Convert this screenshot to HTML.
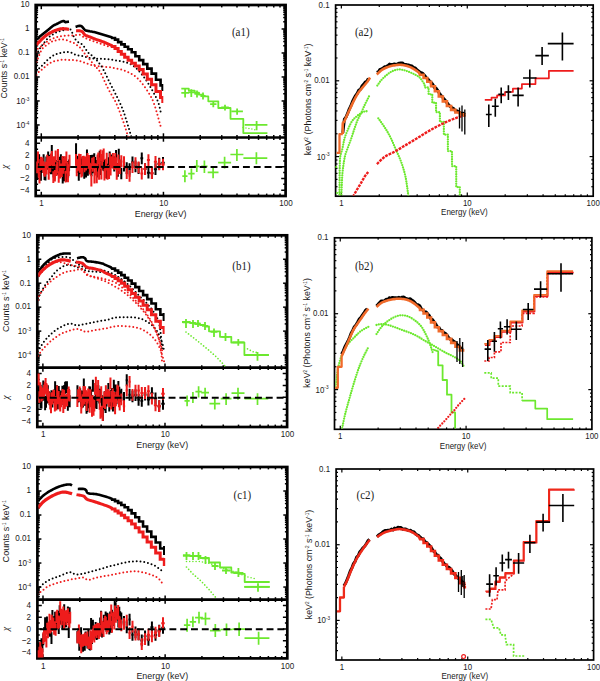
<!DOCTYPE html>
<html><head><meta charset="utf-8"><title>Spectra</title>
<style>html,body{margin:0;padding:0;background:#fff;width:600px;height:681px;overflow:hidden}svg{display:block}text{fill:#1a1a1a}</style>
</head><body>
<svg width="600" height="681" viewBox="0 0 600 681"><path d="M41.29 5 V9.2" stroke="#000" stroke-width="1.5"/>
<path d="M78.06 5 V7.4" stroke="#000" stroke-width="1.5"/>
<path d="M99.57 5 V7.4" stroke="#000" stroke-width="1.5"/>
<path d="M114.83 5 V7.4" stroke="#000" stroke-width="1.5"/>
<path d="M126.67 5 V7.4" stroke="#000" stroke-width="1.5"/>
<path d="M136.34 5 V7.4" stroke="#000" stroke-width="1.5"/>
<path d="M144.52 5 V7.4" stroke="#000" stroke-width="1.5"/>
<path d="M151.61 5 V7.4" stroke="#000" stroke-width="1.5"/>
<path d="M157.86 5 V7.4" stroke="#000" stroke-width="1.5"/>
<path d="M163.44 5 V9.2" stroke="#000" stroke-width="1.5"/>
<path d="M200.22 5 V7.4" stroke="#000" stroke-width="1.5"/>
<path d="M221.73 5 V7.4" stroke="#000" stroke-width="1.5"/>
<path d="M236.99 5 V7.4" stroke="#000" stroke-width="1.5"/>
<path d="M248.83 5 V7.4" stroke="#000" stroke-width="1.5"/>
<path d="M258.5 5 V7.4" stroke="#000" stroke-width="1.5"/>
<path d="M266.68 5 V7.4" stroke="#000" stroke-width="1.5"/>
<path d="M273.76 5 V7.4" stroke="#000" stroke-width="1.5"/>
<path d="M280.01 5 V7.4" stroke="#000" stroke-width="1.5"/>
<path d="M41.29 137.5 V133.3" stroke="#000" stroke-width="1.5"/>
<path d="M78.06 137.5 V135.1" stroke="#000" stroke-width="1.5"/>
<path d="M99.57 137.5 V135.1" stroke="#000" stroke-width="1.5"/>
<path d="M114.83 137.5 V135.1" stroke="#000" stroke-width="1.5"/>
<path d="M126.67 137.5 V135.1" stroke="#000" stroke-width="1.5"/>
<path d="M136.34 137.5 V135.1" stroke="#000" stroke-width="1.5"/>
<path d="M144.52 137.5 V135.1" stroke="#000" stroke-width="1.5"/>
<path d="M151.61 137.5 V135.1" stroke="#000" stroke-width="1.5"/>
<path d="M157.86 137.5 V135.1" stroke="#000" stroke-width="1.5"/>
<path d="M163.44 137.5 V133.3" stroke="#000" stroke-width="1.5"/>
<path d="M200.22 137.5 V135.1" stroke="#000" stroke-width="1.5"/>
<path d="M221.73 137.5 V135.1" stroke="#000" stroke-width="1.5"/>
<path d="M236.99 137.5 V135.1" stroke="#000" stroke-width="1.5"/>
<path d="M248.83 137.5 V135.1" stroke="#000" stroke-width="1.5"/>
<path d="M258.5 137.5 V135.1" stroke="#000" stroke-width="1.5"/>
<path d="M266.68 137.5 V135.1" stroke="#000" stroke-width="1.5"/>
<path d="M273.76 137.5 V135.1" stroke="#000" stroke-width="1.5"/>
<path d="M280.01 137.5 V135.1" stroke="#000" stroke-width="1.5"/>
<path d="M41.29 137.5 V141.7" stroke="#000" stroke-width="1.5"/>
<path d="M78.06 137.5 V139.9" stroke="#000" stroke-width="1.5"/>
<path d="M99.57 137.5 V139.9" stroke="#000" stroke-width="1.5"/>
<path d="M114.83 137.5 V139.9" stroke="#000" stroke-width="1.5"/>
<path d="M126.67 137.5 V139.9" stroke="#000" stroke-width="1.5"/>
<path d="M136.34 137.5 V139.9" stroke="#000" stroke-width="1.5"/>
<path d="M144.52 137.5 V139.9" stroke="#000" stroke-width="1.5"/>
<path d="M151.61 137.5 V139.9" stroke="#000" stroke-width="1.5"/>
<path d="M157.86 137.5 V139.9" stroke="#000" stroke-width="1.5"/>
<path d="M163.44 137.5 V141.7" stroke="#000" stroke-width="1.5"/>
<path d="M200.22 137.5 V139.9" stroke="#000" stroke-width="1.5"/>
<path d="M221.73 137.5 V139.9" stroke="#000" stroke-width="1.5"/>
<path d="M236.99 137.5 V139.9" stroke="#000" stroke-width="1.5"/>
<path d="M248.83 137.5 V139.9" stroke="#000" stroke-width="1.5"/>
<path d="M258.5 137.5 V139.9" stroke="#000" stroke-width="1.5"/>
<path d="M266.68 137.5 V139.9" stroke="#000" stroke-width="1.5"/>
<path d="M273.76 137.5 V139.9" stroke="#000" stroke-width="1.5"/>
<path d="M280.01 137.5 V139.9" stroke="#000" stroke-width="1.5"/>
<path d="M41.29 196 V191.8" stroke="#000" stroke-width="1.5"/>
<path d="M78.06 196 V193.6" stroke="#000" stroke-width="1.5"/>
<path d="M99.57 196 V193.6" stroke="#000" stroke-width="1.5"/>
<path d="M114.83 196 V193.6" stroke="#000" stroke-width="1.5"/>
<path d="M126.67 196 V193.6" stroke="#000" stroke-width="1.5"/>
<path d="M136.34 196 V193.6" stroke="#000" stroke-width="1.5"/>
<path d="M144.52 196 V193.6" stroke="#000" stroke-width="1.5"/>
<path d="M151.61 196 V193.6" stroke="#000" stroke-width="1.5"/>
<path d="M157.86 196 V193.6" stroke="#000" stroke-width="1.5"/>
<path d="M163.44 196 V191.8" stroke="#000" stroke-width="1.5"/>
<path d="M200.22 196 V193.6" stroke="#000" stroke-width="1.5"/>
<path d="M221.73 196 V193.6" stroke="#000" stroke-width="1.5"/>
<path d="M236.99 196 V193.6" stroke="#000" stroke-width="1.5"/>
<path d="M248.83 196 V193.6" stroke="#000" stroke-width="1.5"/>
<path d="M258.5 196 V193.6" stroke="#000" stroke-width="1.5"/>
<path d="M266.68 196 V193.6" stroke="#000" stroke-width="1.5"/>
<path d="M273.76 196 V193.6" stroke="#000" stroke-width="1.5"/>
<path d="M280.01 196 V193.6" stroke="#000" stroke-width="1.5"/>
<path d="M35.7 134.5 H38.1" stroke="#000" stroke-width="1.5"/>
<path d="M35.7 132.18 H38.1" stroke="#000" stroke-width="1.5"/>
<path d="M35.7 130.28 H38.1" stroke="#000" stroke-width="1.5"/>
<path d="M35.7 128.67 H38.1" stroke="#000" stroke-width="1.5"/>
<path d="M35.7 127.28 H38.1" stroke="#000" stroke-width="1.5"/>
<path d="M35.7 126.05 H38.1" stroke="#000" stroke-width="1.5"/>
<path d="M35.7 124.96 H39.7" stroke="#000" stroke-width="1.5"/>
<path d="M35.7 117.73 H38.1" stroke="#000" stroke-width="1.5"/>
<path d="M35.7 113.51 H38.1" stroke="#000" stroke-width="1.5"/>
<path d="M35.7 110.51 H38.1" stroke="#000" stroke-width="1.5"/>
<path d="M35.7 108.19 H38.1" stroke="#000" stroke-width="1.5"/>
<path d="M35.7 106.29 H38.1" stroke="#000" stroke-width="1.5"/>
<path d="M35.7 104.68 H38.1" stroke="#000" stroke-width="1.5"/>
<path d="M35.7 103.29 H38.1" stroke="#000" stroke-width="1.5"/>
<path d="M35.7 102.06 H38.1" stroke="#000" stroke-width="1.5"/>
<path d="M35.7 100.96 H39.7" stroke="#000" stroke-width="1.5"/>
<path d="M35.7 93.74 H38.1" stroke="#000" stroke-width="1.5"/>
<path d="M35.7 89.52 H38.1" stroke="#000" stroke-width="1.5"/>
<path d="M35.7 86.52 H38.1" stroke="#000" stroke-width="1.5"/>
<path d="M35.7 84.2 H38.1" stroke="#000" stroke-width="1.5"/>
<path d="M35.7 82.3 H38.1" stroke="#000" stroke-width="1.5"/>
<path d="M35.7 80.69 H38.1" stroke="#000" stroke-width="1.5"/>
<path d="M35.7 79.3 H38.1" stroke="#000" stroke-width="1.5"/>
<path d="M35.7 78.07 H38.1" stroke="#000" stroke-width="1.5"/>
<path d="M35.7 76.97 H39.7" stroke="#000" stroke-width="1.5"/>
<path d="M35.7 69.75 H38.1" stroke="#000" stroke-width="1.5"/>
<path d="M35.7 65.53 H38.1" stroke="#000" stroke-width="1.5"/>
<path d="M35.7 62.53 H38.1" stroke="#000" stroke-width="1.5"/>
<path d="M35.7 60.2 H38.1" stroke="#000" stroke-width="1.5"/>
<path d="M35.7 58.3 H38.1" stroke="#000" stroke-width="1.5"/>
<path d="M35.7 56.7 H38.1" stroke="#000" stroke-width="1.5"/>
<path d="M35.7 55.31 H38.1" stroke="#000" stroke-width="1.5"/>
<path d="M35.7 54.08 H38.1" stroke="#000" stroke-width="1.5"/>
<path d="M35.7 52.98 H39.7" stroke="#000" stroke-width="1.5"/>
<path d="M35.7 45.76 H38.1" stroke="#000" stroke-width="1.5"/>
<path d="M35.7 41.54 H38.1" stroke="#000" stroke-width="1.5"/>
<path d="M35.7 38.54 H38.1" stroke="#000" stroke-width="1.5"/>
<path d="M35.7 36.21 H38.1" stroke="#000" stroke-width="1.5"/>
<path d="M35.7 34.31 H38.1" stroke="#000" stroke-width="1.5"/>
<path d="M35.7 32.71 H38.1" stroke="#000" stroke-width="1.5"/>
<path d="M35.7 31.32 H38.1" stroke="#000" stroke-width="1.5"/>
<path d="M35.7 30.09 H38.1" stroke="#000" stroke-width="1.5"/>
<path d="M35.7 28.99 H39.7" stroke="#000" stroke-width="1.5"/>
<path d="M35.7 21.77 H38.1" stroke="#000" stroke-width="1.5"/>
<path d="M35.7 17.54 H38.1" stroke="#000" stroke-width="1.5"/>
<path d="M35.7 14.55 H38.1" stroke="#000" stroke-width="1.5"/>
<path d="M35.7 12.22 H38.1" stroke="#000" stroke-width="1.5"/>
<path d="M35.7 10.32 H38.1" stroke="#000" stroke-width="1.5"/>
<path d="M35.7 8.72 H38.1" stroke="#000" stroke-width="1.5"/>
<path d="M35.7 7.32 H38.1" stroke="#000" stroke-width="1.5"/>
<path d="M35.7 6.1 H38.1" stroke="#000" stroke-width="1.5"/>
<path d="M285.6 134.5 H283.2" stroke="#000" stroke-width="1.5"/>
<path d="M285.6 132.18 H283.2" stroke="#000" stroke-width="1.5"/>
<path d="M285.6 130.28 H283.2" stroke="#000" stroke-width="1.5"/>
<path d="M285.6 128.67 H283.2" stroke="#000" stroke-width="1.5"/>
<path d="M285.6 127.28 H283.2" stroke="#000" stroke-width="1.5"/>
<path d="M285.6 126.05 H283.2" stroke="#000" stroke-width="1.5"/>
<path d="M285.6 124.96 H281.6" stroke="#000" stroke-width="1.5"/>
<path d="M285.6 117.73 H283.2" stroke="#000" stroke-width="1.5"/>
<path d="M285.6 113.51 H283.2" stroke="#000" stroke-width="1.5"/>
<path d="M285.6 110.51 H283.2" stroke="#000" stroke-width="1.5"/>
<path d="M285.6 108.19 H283.2" stroke="#000" stroke-width="1.5"/>
<path d="M285.6 106.29 H283.2" stroke="#000" stroke-width="1.5"/>
<path d="M285.6 104.68 H283.2" stroke="#000" stroke-width="1.5"/>
<path d="M285.6 103.29 H283.2" stroke="#000" stroke-width="1.5"/>
<path d="M285.6 102.06 H283.2" stroke="#000" stroke-width="1.5"/>
<path d="M285.6 100.96 H281.6" stroke="#000" stroke-width="1.5"/>
<path d="M285.6 93.74 H283.2" stroke="#000" stroke-width="1.5"/>
<path d="M285.6 89.52 H283.2" stroke="#000" stroke-width="1.5"/>
<path d="M285.6 86.52 H283.2" stroke="#000" stroke-width="1.5"/>
<path d="M285.6 84.2 H283.2" stroke="#000" stroke-width="1.5"/>
<path d="M285.6 82.3 H283.2" stroke="#000" stroke-width="1.5"/>
<path d="M285.6 80.69 H283.2" stroke="#000" stroke-width="1.5"/>
<path d="M285.6 79.3 H283.2" stroke="#000" stroke-width="1.5"/>
<path d="M285.6 78.07 H283.2" stroke="#000" stroke-width="1.5"/>
<path d="M285.6 76.97 H281.6" stroke="#000" stroke-width="1.5"/>
<path d="M285.6 69.75 H283.2" stroke="#000" stroke-width="1.5"/>
<path d="M285.6 65.53 H283.2" stroke="#000" stroke-width="1.5"/>
<path d="M285.6 62.53 H283.2" stroke="#000" stroke-width="1.5"/>
<path d="M285.6 60.2 H283.2" stroke="#000" stroke-width="1.5"/>
<path d="M285.6 58.3 H283.2" stroke="#000" stroke-width="1.5"/>
<path d="M285.6 56.7 H283.2" stroke="#000" stroke-width="1.5"/>
<path d="M285.6 55.31 H283.2" stroke="#000" stroke-width="1.5"/>
<path d="M285.6 54.08 H283.2" stroke="#000" stroke-width="1.5"/>
<path d="M285.6 52.98 H281.6" stroke="#000" stroke-width="1.5"/>
<path d="M285.6 45.76 H283.2" stroke="#000" stroke-width="1.5"/>
<path d="M285.6 41.54 H283.2" stroke="#000" stroke-width="1.5"/>
<path d="M285.6 38.54 H283.2" stroke="#000" stroke-width="1.5"/>
<path d="M285.6 36.21 H283.2" stroke="#000" stroke-width="1.5"/>
<path d="M285.6 34.31 H283.2" stroke="#000" stroke-width="1.5"/>
<path d="M285.6 32.71 H283.2" stroke="#000" stroke-width="1.5"/>
<path d="M285.6 31.32 H283.2" stroke="#000" stroke-width="1.5"/>
<path d="M285.6 30.09 H283.2" stroke="#000" stroke-width="1.5"/>
<path d="M285.6 28.99 H281.6" stroke="#000" stroke-width="1.5"/>
<path d="M285.6 21.77 H283.2" stroke="#000" stroke-width="1.5"/>
<path d="M285.6 17.54 H283.2" stroke="#000" stroke-width="1.5"/>
<path d="M285.6 14.55 H283.2" stroke="#000" stroke-width="1.5"/>
<path d="M285.6 12.22 H283.2" stroke="#000" stroke-width="1.5"/>
<path d="M285.6 10.32 H283.2" stroke="#000" stroke-width="1.5"/>
<path d="M285.6 8.72 H283.2" stroke="#000" stroke-width="1.5"/>
<path d="M285.6 7.32 H283.2" stroke="#000" stroke-width="1.5"/>
<path d="M285.6 6.1 H283.2" stroke="#000" stroke-width="1.5"/>
<path d="M35.7 190.15 H40.1 M285.6 190.15 H281.2" stroke="#000" stroke-width="1.5"/>
<path d="M35.7 184.3 H38.1 M285.6 184.3 H283.2" stroke="#000" stroke-width="1.5"/>
<path d="M35.7 178.45 H40.1 M285.6 178.45 H281.2" stroke="#000" stroke-width="1.5"/>
<path d="M35.7 172.6 H38.1 M285.6 172.6 H283.2" stroke="#000" stroke-width="1.5"/>
<path d="M35.7 166.75 H40.1 M285.6 166.75 H281.2" stroke="#000" stroke-width="1.5"/>
<path d="M35.7 160.9 H38.1 M285.6 160.9 H283.2" stroke="#000" stroke-width="1.5"/>
<path d="M35.7 155.05 H40.1 M285.6 155.05 H281.2" stroke="#000" stroke-width="1.5"/>
<path d="M35.7 149.2 H38.1 M285.6 149.2 H283.2" stroke="#000" stroke-width="1.5"/>
<path d="M35.7 143.35 H40.1 M285.6 143.35 H281.2" stroke="#000" stroke-width="1.5"/>
<rect x="35.7" y="5" width="249.9" height="191" fill="none" stroke="#000" stroke-width="2.7"/>
<path d="M35.7 137.5 H285.6" stroke="#000" stroke-width="2.7"/>
<text transform="translate(29.4 7.3) scale(1 1.13)" font-family="Liberation Sans" font-size="8.1" text-anchor="end" >10</text>
<text transform="translate(29.4 31.29) scale(1 1.13)" font-family="Liberation Sans" font-size="8.1" text-anchor="end" >1</text>
<text transform="translate(29.4 55.28) scale(1 1.13)" font-family="Liberation Sans" font-size="8.1" text-anchor="end" >0.1</text>
<text transform="translate(29.4 79.27) scale(1 1.13)" font-family="Liberation Sans" font-size="8.1" text-anchor="end" >0.01</text>
<text transform="translate(29.4 103.76) scale(1 1.13)" font-family="Liberation Sans" font-size="8.1" text-anchor="end" >10<tspan font-size="4.7" baseline-shift="2.9">-3</tspan></text>
<text transform="translate(29.4 127.76) scale(1 1.13)" font-family="Liberation Sans" font-size="8.1" text-anchor="end" >10<tspan font-size="4.7" baseline-shift="2.9">-4</tspan></text>
<text transform="translate(29.4 146.1) scale(1 1.22)" font-family="Liberation Sans" font-size="8.1" text-anchor="end" >4</text>
<text transform="translate(29.4 157.8) scale(1 1.22)" font-family="Liberation Sans" font-size="8.1" text-anchor="end" >2</text>
<text transform="translate(29.4 169.5) scale(1 1.22)" font-family="Liberation Sans" font-size="8.1" text-anchor="end" >0</text>
<text transform="translate(29.4 181.2) scale(1 1.22)" font-family="Liberation Sans" font-size="8.1" text-anchor="end" >−2</text>
<text transform="translate(29.4 192.9) scale(1 1.22)" font-family="Liberation Sans" font-size="8.1" text-anchor="end" >−4</text>
<text transform="translate(41.59 206.2) scale(1 1.12)" font-family="Liberation Sans" font-size="8.1" text-anchor="middle" >1</text>
<text transform="translate(163.74 206.2) scale(1 1.12)" font-family="Liberation Sans" font-size="8.1" text-anchor="middle" >10</text>
<text transform="translate(285.9 206.2) scale(1 1.12)" font-family="Liberation Sans" font-size="8.1" text-anchor="middle" >100</text>
<text x="160.65" y="216.8" font-family="Liberation Sans" font-size="8.9" text-anchor="middle" >Energy (keV)</text>
<text transform="translate(6.9 68.3) rotate(-90)" font-family="Liberation Sans" font-size="8.75" text-anchor="middle">Counts s<tspan font-size="4.7" baseline-shift="2.9">-1</tspan> keV<tspan font-size="4.7" baseline-shift="2.9">-1</tspan></text>
<text transform="translate(7.7 166.75) rotate(-90)" font-family="Liberation Serif" font-size="9.5" font-style="italic" text-anchor="middle" dy="0">χ</text>
<text transform="translate(231.9 35.9) scale(1 1.06)" font-family="Liberation Serif" font-size="11" text-anchor="start" >(a1)</text>
<path d="M341.36 5 V8.6" stroke="#000" stroke-width="1.2"/>
<path d="M379.27 5 V6.9" stroke="#000" stroke-width="1.2"/>
<path d="M401.44 5 V6.9" stroke="#000" stroke-width="1.2"/>
<path d="M417.17 5 V6.9" stroke="#000" stroke-width="1.2"/>
<path d="M429.38 5 V6.9" stroke="#000" stroke-width="1.2"/>
<path d="M439.35 5 V6.9" stroke="#000" stroke-width="1.2"/>
<path d="M447.78 5 V6.9" stroke="#000" stroke-width="1.2"/>
<path d="M455.08 5 V6.9" stroke="#000" stroke-width="1.2"/>
<path d="M461.52 5 V6.9" stroke="#000" stroke-width="1.2"/>
<path d="M467.28 5 V8.6" stroke="#000" stroke-width="1.2"/>
<path d="M505.19 5 V6.9" stroke="#000" stroke-width="1.2"/>
<path d="M527.36 5 V6.9" stroke="#000" stroke-width="1.2"/>
<path d="M543.09 5 V6.9" stroke="#000" stroke-width="1.2"/>
<path d="M555.29 5 V6.9" stroke="#000" stroke-width="1.2"/>
<path d="M565.26 5 V6.9" stroke="#000" stroke-width="1.2"/>
<path d="M573.69 5 V6.9" stroke="#000" stroke-width="1.2"/>
<path d="M581 5 V6.9" stroke="#000" stroke-width="1.2"/>
<path d="M587.44 5 V6.9" stroke="#000" stroke-width="1.2"/>
<path d="M341.36 196.2 V192.6" stroke="#000" stroke-width="1.2"/>
<path d="M379.27 196.2 V194.3" stroke="#000" stroke-width="1.2"/>
<path d="M401.44 196.2 V194.3" stroke="#000" stroke-width="1.2"/>
<path d="M417.17 196.2 V194.3" stroke="#000" stroke-width="1.2"/>
<path d="M429.38 196.2 V194.3" stroke="#000" stroke-width="1.2"/>
<path d="M439.35 196.2 V194.3" stroke="#000" stroke-width="1.2"/>
<path d="M447.78 196.2 V194.3" stroke="#000" stroke-width="1.2"/>
<path d="M455.08 196.2 V194.3" stroke="#000" stroke-width="1.2"/>
<path d="M461.52 196.2 V194.3" stroke="#000" stroke-width="1.2"/>
<path d="M467.28 196.2 V192.6" stroke="#000" stroke-width="1.2"/>
<path d="M505.19 196.2 V194.3" stroke="#000" stroke-width="1.2"/>
<path d="M527.36 196.2 V194.3" stroke="#000" stroke-width="1.2"/>
<path d="M543.09 196.2 V194.3" stroke="#000" stroke-width="1.2"/>
<path d="M555.29 196.2 V194.3" stroke="#000" stroke-width="1.2"/>
<path d="M565.26 196.2 V194.3" stroke="#000" stroke-width="1.2"/>
<path d="M573.69 196.2 V194.3" stroke="#000" stroke-width="1.2"/>
<path d="M581 196.2 V194.3" stroke="#000" stroke-width="1.2"/>
<path d="M587.44 196.2 V194.3" stroke="#000" stroke-width="1.2"/>
<path d="M335.6 186.73 H337.5" stroke="#000" stroke-width="1.2"/>
<path d="M335.6 179.39 H337.5" stroke="#000" stroke-width="1.2"/>
<path d="M335.6 173.39 H337.5" stroke="#000" stroke-width="1.2"/>
<path d="M335.6 168.31 H337.5" stroke="#000" stroke-width="1.2"/>
<path d="M335.6 163.92 H337.5" stroke="#000" stroke-width="1.2"/>
<path d="M335.6 160.04 H337.5" stroke="#000" stroke-width="1.2"/>
<path d="M335.6 156.57 H339.2" stroke="#000" stroke-width="1.2"/>
<path d="M335.6 133.76 H337.5" stroke="#000" stroke-width="1.2"/>
<path d="M335.6 120.41 H337.5" stroke="#000" stroke-width="1.2"/>
<path d="M335.6 110.94 H337.5" stroke="#000" stroke-width="1.2"/>
<path d="M335.6 103.6 H337.5" stroke="#000" stroke-width="1.2"/>
<path d="M335.6 97.6 H337.5" stroke="#000" stroke-width="1.2"/>
<path d="M335.6 92.53 H337.5" stroke="#000" stroke-width="1.2"/>
<path d="M335.6 88.13 H337.5" stroke="#000" stroke-width="1.2"/>
<path d="M335.6 84.25 H337.5" stroke="#000" stroke-width="1.2"/>
<path d="M335.6 80.79 H339.2" stroke="#000" stroke-width="1.2"/>
<path d="M335.6 57.97 H337.5" stroke="#000" stroke-width="1.2"/>
<path d="M335.6 44.63 H337.5" stroke="#000" stroke-width="1.2"/>
<path d="M335.6 35.16 H337.5" stroke="#000" stroke-width="1.2"/>
<path d="M335.6 27.81 H337.5" stroke="#000" stroke-width="1.2"/>
<path d="M335.6 21.81 H337.5" stroke="#000" stroke-width="1.2"/>
<path d="M335.6 16.74 H337.5" stroke="#000" stroke-width="1.2"/>
<path d="M335.6 12.34 H337.5" stroke="#000" stroke-width="1.2"/>
<path d="M335.6 8.47 H337.5" stroke="#000" stroke-width="1.2"/>
<path d="M593.2 186.73 H591.3" stroke="#000" stroke-width="1.2"/>
<path d="M593.2 179.39 H591.3" stroke="#000" stroke-width="1.2"/>
<path d="M593.2 173.39 H591.3" stroke="#000" stroke-width="1.2"/>
<path d="M593.2 168.31 H591.3" stroke="#000" stroke-width="1.2"/>
<path d="M593.2 163.92 H591.3" stroke="#000" stroke-width="1.2"/>
<path d="M593.2 160.04 H591.3" stroke="#000" stroke-width="1.2"/>
<path d="M593.2 156.57 H589.6" stroke="#000" stroke-width="1.2"/>
<path d="M593.2 133.76 H591.3" stroke="#000" stroke-width="1.2"/>
<path d="M593.2 120.41 H591.3" stroke="#000" stroke-width="1.2"/>
<path d="M593.2 110.94 H591.3" stroke="#000" stroke-width="1.2"/>
<path d="M593.2 103.6 H591.3" stroke="#000" stroke-width="1.2"/>
<path d="M593.2 97.6 H591.3" stroke="#000" stroke-width="1.2"/>
<path d="M593.2 92.53 H591.3" stroke="#000" stroke-width="1.2"/>
<path d="M593.2 88.13 H591.3" stroke="#000" stroke-width="1.2"/>
<path d="M593.2 84.25 H591.3" stroke="#000" stroke-width="1.2"/>
<path d="M593.2 80.79 H589.6" stroke="#000" stroke-width="1.2"/>
<path d="M593.2 57.97 H591.3" stroke="#000" stroke-width="1.2"/>
<path d="M593.2 44.63 H591.3" stroke="#000" stroke-width="1.2"/>
<path d="M593.2 35.16 H591.3" stroke="#000" stroke-width="1.2"/>
<path d="M593.2 27.81 H591.3" stroke="#000" stroke-width="1.2"/>
<path d="M593.2 21.81 H591.3" stroke="#000" stroke-width="1.2"/>
<path d="M593.2 16.74 H591.3" stroke="#000" stroke-width="1.2"/>
<path d="M593.2 12.34 H591.3" stroke="#000" stroke-width="1.2"/>
<path d="M593.2 8.47 H591.3" stroke="#000" stroke-width="1.2"/>
<rect x="335.6" y="5" width="257.6" height="191.2" fill="none" stroke="#000" stroke-width="1.7"/>
<text transform="translate(329.6 7.6) scale(1 1.2)" font-family="Liberation Sans" font-size="7.9" text-anchor="end" >0.1</text>
<text transform="translate(329.6 83.39) scale(1 1.2)" font-family="Liberation Sans" font-size="7.9" text-anchor="end" >0.01</text>
<text transform="translate(329.6 159.57) scale(1 1.2)" font-family="Liberation Sans" font-size="7.9" text-anchor="end" >10<tspan font-size="4.7" baseline-shift="2.9">-3</tspan></text>
<text transform="translate(341.36 205.9) scale(1 1.2)" font-family="Liberation Sans" font-size="7.9" text-anchor="middle" >1</text>
<text transform="translate(467.28 205.9) scale(1 1.2)" font-family="Liberation Sans" font-size="7.9" text-anchor="middle" >10</text>
<text transform="translate(593.2 205.9) scale(1 1.2)" font-family="Liberation Sans" font-size="7.9" text-anchor="middle" >100</text>
<text transform="translate(464.4 215.4) scale(1 1.2)" font-family="Liberation Sans" font-size="8.0" text-anchor="middle" >Energy (keV)</text>
<text transform="translate(311.2 99.35) rotate(-90)" font-family="Liberation Sans" font-size="9.0" text-anchor="middle">keV<tspan font-size="4.7" baseline-shift="2.9">2</tspan> (Photons cm<tspan font-size="4.7" baseline-shift="2.9">-2</tspan> s<tspan font-size="4.7" baseline-shift="2.9">-1</tspan> keV<tspan font-size="4.7" baseline-shift="2.9">-1</tspan>)</text>
<text transform="translate(354.9 35.6) scale(1 1.06)" font-family="Liberation Serif" font-size="11" text-anchor="start" >(a2)</text>
<path d="M42.89 235.3 V239.5" stroke="#000" stroke-width="1.5"/>
<path d="M79.64 235.3 V237.7" stroke="#000" stroke-width="1.5"/>
<path d="M101.15 235.3 V237.7" stroke="#000" stroke-width="1.5"/>
<path d="M116.4 235.3 V237.7" stroke="#000" stroke-width="1.5"/>
<path d="M128.24 235.3 V237.7" stroke="#000" stroke-width="1.5"/>
<path d="M137.9 235.3 V237.7" stroke="#000" stroke-width="1.5"/>
<path d="M146.08 235.3 V237.7" stroke="#000" stroke-width="1.5"/>
<path d="M153.16 235.3 V237.7" stroke="#000" stroke-width="1.5"/>
<path d="M159.41 235.3 V237.7" stroke="#000" stroke-width="1.5"/>
<path d="M164.99 235.3 V239.5" stroke="#000" stroke-width="1.5"/>
<path d="M201.75 235.3 V237.7" stroke="#000" stroke-width="1.5"/>
<path d="M223.25 235.3 V237.7" stroke="#000" stroke-width="1.5"/>
<path d="M238.51 235.3 V237.7" stroke="#000" stroke-width="1.5"/>
<path d="M250.34 235.3 V237.7" stroke="#000" stroke-width="1.5"/>
<path d="M260.01 235.3 V237.7" stroke="#000" stroke-width="1.5"/>
<path d="M268.19 235.3 V237.7" stroke="#000" stroke-width="1.5"/>
<path d="M275.27 235.3 V237.7" stroke="#000" stroke-width="1.5"/>
<path d="M281.51 235.3 V237.7" stroke="#000" stroke-width="1.5"/>
<path d="M42.89 367.6 V363.4" stroke="#000" stroke-width="1.5"/>
<path d="M79.64 367.6 V365.2" stroke="#000" stroke-width="1.5"/>
<path d="M101.15 367.6 V365.2" stroke="#000" stroke-width="1.5"/>
<path d="M116.4 367.6 V365.2" stroke="#000" stroke-width="1.5"/>
<path d="M128.24 367.6 V365.2" stroke="#000" stroke-width="1.5"/>
<path d="M137.9 367.6 V365.2" stroke="#000" stroke-width="1.5"/>
<path d="M146.08 367.6 V365.2" stroke="#000" stroke-width="1.5"/>
<path d="M153.16 367.6 V365.2" stroke="#000" stroke-width="1.5"/>
<path d="M159.41 367.6 V365.2" stroke="#000" stroke-width="1.5"/>
<path d="M164.99 367.6 V363.4" stroke="#000" stroke-width="1.5"/>
<path d="M201.75 367.6 V365.2" stroke="#000" stroke-width="1.5"/>
<path d="M223.25 367.6 V365.2" stroke="#000" stroke-width="1.5"/>
<path d="M238.51 367.6 V365.2" stroke="#000" stroke-width="1.5"/>
<path d="M250.34 367.6 V365.2" stroke="#000" stroke-width="1.5"/>
<path d="M260.01 367.6 V365.2" stroke="#000" stroke-width="1.5"/>
<path d="M268.19 367.6 V365.2" stroke="#000" stroke-width="1.5"/>
<path d="M275.27 367.6 V365.2" stroke="#000" stroke-width="1.5"/>
<path d="M281.51 367.6 V365.2" stroke="#000" stroke-width="1.5"/>
<path d="M42.89 367.6 V371.8" stroke="#000" stroke-width="1.5"/>
<path d="M79.64 367.6 V370" stroke="#000" stroke-width="1.5"/>
<path d="M101.15 367.6 V370" stroke="#000" stroke-width="1.5"/>
<path d="M116.4 367.6 V370" stroke="#000" stroke-width="1.5"/>
<path d="M128.24 367.6 V370" stroke="#000" stroke-width="1.5"/>
<path d="M137.9 367.6 V370" stroke="#000" stroke-width="1.5"/>
<path d="M146.08 367.6 V370" stroke="#000" stroke-width="1.5"/>
<path d="M153.16 367.6 V370" stroke="#000" stroke-width="1.5"/>
<path d="M159.41 367.6 V370" stroke="#000" stroke-width="1.5"/>
<path d="M164.99 367.6 V371.8" stroke="#000" stroke-width="1.5"/>
<path d="M201.75 367.6 V370" stroke="#000" stroke-width="1.5"/>
<path d="M223.25 367.6 V370" stroke="#000" stroke-width="1.5"/>
<path d="M238.51 367.6 V370" stroke="#000" stroke-width="1.5"/>
<path d="M250.34 367.6 V370" stroke="#000" stroke-width="1.5"/>
<path d="M260.01 367.6 V370" stroke="#000" stroke-width="1.5"/>
<path d="M268.19 367.6 V370" stroke="#000" stroke-width="1.5"/>
<path d="M275.27 367.6 V370" stroke="#000" stroke-width="1.5"/>
<path d="M281.51 367.6 V370" stroke="#000" stroke-width="1.5"/>
<path d="M42.89 427 V422.8" stroke="#000" stroke-width="1.5"/>
<path d="M79.64 427 V424.6" stroke="#000" stroke-width="1.5"/>
<path d="M101.15 427 V424.6" stroke="#000" stroke-width="1.5"/>
<path d="M116.4 427 V424.6" stroke="#000" stroke-width="1.5"/>
<path d="M128.24 427 V424.6" stroke="#000" stroke-width="1.5"/>
<path d="M137.9 427 V424.6" stroke="#000" stroke-width="1.5"/>
<path d="M146.08 427 V424.6" stroke="#000" stroke-width="1.5"/>
<path d="M153.16 427 V424.6" stroke="#000" stroke-width="1.5"/>
<path d="M159.41 427 V424.6" stroke="#000" stroke-width="1.5"/>
<path d="M164.99 427 V422.8" stroke="#000" stroke-width="1.5"/>
<path d="M201.75 427 V424.6" stroke="#000" stroke-width="1.5"/>
<path d="M223.25 427 V424.6" stroke="#000" stroke-width="1.5"/>
<path d="M238.51 427 V424.6" stroke="#000" stroke-width="1.5"/>
<path d="M250.34 427 V424.6" stroke="#000" stroke-width="1.5"/>
<path d="M260.01 427 V424.6" stroke="#000" stroke-width="1.5"/>
<path d="M268.19 427 V424.6" stroke="#000" stroke-width="1.5"/>
<path d="M275.27 427 V424.6" stroke="#000" stroke-width="1.5"/>
<path d="M281.51 427 V424.6" stroke="#000" stroke-width="1.5"/>
<path d="M37.3 364.61 H39.7" stroke="#000" stroke-width="1.5"/>
<path d="M37.3 362.29 H39.7" stroke="#000" stroke-width="1.5"/>
<path d="M37.3 360.39 H39.7" stroke="#000" stroke-width="1.5"/>
<path d="M37.3 358.79 H39.7" stroke="#000" stroke-width="1.5"/>
<path d="M37.3 357.4 H39.7" stroke="#000" stroke-width="1.5"/>
<path d="M37.3 356.17 H39.7" stroke="#000" stroke-width="1.5"/>
<path d="M37.3 355.07 H41.3" stroke="#000" stroke-width="1.5"/>
<path d="M37.3 347.86 H39.7" stroke="#000" stroke-width="1.5"/>
<path d="M37.3 343.65 H39.7" stroke="#000" stroke-width="1.5"/>
<path d="M37.3 340.65 H39.7" stroke="#000" stroke-width="1.5"/>
<path d="M37.3 338.33 H39.7" stroke="#000" stroke-width="1.5"/>
<path d="M37.3 336.43 H39.7" stroke="#000" stroke-width="1.5"/>
<path d="M37.3 334.83 H39.7" stroke="#000" stroke-width="1.5"/>
<path d="M37.3 333.44 H39.7" stroke="#000" stroke-width="1.5"/>
<path d="M37.3 332.22 H39.7" stroke="#000" stroke-width="1.5"/>
<path d="M37.3 331.12 H41.3" stroke="#000" stroke-width="1.5"/>
<path d="M37.3 323.91 H39.7" stroke="#000" stroke-width="1.5"/>
<path d="M37.3 319.69 H39.7" stroke="#000" stroke-width="1.5"/>
<path d="M37.3 316.7 H39.7" stroke="#000" stroke-width="1.5"/>
<path d="M37.3 314.38 H39.7" stroke="#000" stroke-width="1.5"/>
<path d="M37.3 312.48 H39.7" stroke="#000" stroke-width="1.5"/>
<path d="M37.3 310.88 H39.7" stroke="#000" stroke-width="1.5"/>
<path d="M37.3 309.49 H39.7" stroke="#000" stroke-width="1.5"/>
<path d="M37.3 308.26 H39.7" stroke="#000" stroke-width="1.5"/>
<path d="M37.3 307.16 H41.3" stroke="#000" stroke-width="1.5"/>
<path d="M37.3 299.95 H39.7" stroke="#000" stroke-width="1.5"/>
<path d="M37.3 295.74 H39.7" stroke="#000" stroke-width="1.5"/>
<path d="M37.3 292.74 H39.7" stroke="#000" stroke-width="1.5"/>
<path d="M37.3 290.42 H39.7" stroke="#000" stroke-width="1.5"/>
<path d="M37.3 288.52 H39.7" stroke="#000" stroke-width="1.5"/>
<path d="M37.3 286.92 H39.7" stroke="#000" stroke-width="1.5"/>
<path d="M37.3 285.53 H39.7" stroke="#000" stroke-width="1.5"/>
<path d="M37.3 284.31 H39.7" stroke="#000" stroke-width="1.5"/>
<path d="M37.3 283.21 H41.3" stroke="#000" stroke-width="1.5"/>
<path d="M37.3 276 H39.7" stroke="#000" stroke-width="1.5"/>
<path d="M37.3 271.78 H39.7" stroke="#000" stroke-width="1.5"/>
<path d="M37.3 268.79 H39.7" stroke="#000" stroke-width="1.5"/>
<path d="M37.3 266.47 H39.7" stroke="#000" stroke-width="1.5"/>
<path d="M37.3 264.57 H39.7" stroke="#000" stroke-width="1.5"/>
<path d="M37.3 262.97 H39.7" stroke="#000" stroke-width="1.5"/>
<path d="M37.3 261.58 H39.7" stroke="#000" stroke-width="1.5"/>
<path d="M37.3 260.35 H39.7" stroke="#000" stroke-width="1.5"/>
<path d="M37.3 259.25 H41.3" stroke="#000" stroke-width="1.5"/>
<path d="M37.3 252.04 H39.7" stroke="#000" stroke-width="1.5"/>
<path d="M37.3 247.83 H39.7" stroke="#000" stroke-width="1.5"/>
<path d="M37.3 244.83 H39.7" stroke="#000" stroke-width="1.5"/>
<path d="M37.3 242.51 H39.7" stroke="#000" stroke-width="1.5"/>
<path d="M37.3 240.61 H39.7" stroke="#000" stroke-width="1.5"/>
<path d="M37.3 239.01 H39.7" stroke="#000" stroke-width="1.5"/>
<path d="M37.3 237.62 H39.7" stroke="#000" stroke-width="1.5"/>
<path d="M37.3 236.4 H39.7" stroke="#000" stroke-width="1.5"/>
<path d="M287.1 364.61 H284.7" stroke="#000" stroke-width="1.5"/>
<path d="M287.1 362.29 H284.7" stroke="#000" stroke-width="1.5"/>
<path d="M287.1 360.39 H284.7" stroke="#000" stroke-width="1.5"/>
<path d="M287.1 358.79 H284.7" stroke="#000" stroke-width="1.5"/>
<path d="M287.1 357.4 H284.7" stroke="#000" stroke-width="1.5"/>
<path d="M287.1 356.17 H284.7" stroke="#000" stroke-width="1.5"/>
<path d="M287.1 355.07 H283.1" stroke="#000" stroke-width="1.5"/>
<path d="M287.1 347.86 H284.7" stroke="#000" stroke-width="1.5"/>
<path d="M287.1 343.65 H284.7" stroke="#000" stroke-width="1.5"/>
<path d="M287.1 340.65 H284.7" stroke="#000" stroke-width="1.5"/>
<path d="M287.1 338.33 H284.7" stroke="#000" stroke-width="1.5"/>
<path d="M287.1 336.43 H284.7" stroke="#000" stroke-width="1.5"/>
<path d="M287.1 334.83 H284.7" stroke="#000" stroke-width="1.5"/>
<path d="M287.1 333.44 H284.7" stroke="#000" stroke-width="1.5"/>
<path d="M287.1 332.22 H284.7" stroke="#000" stroke-width="1.5"/>
<path d="M287.1 331.12 H283.1" stroke="#000" stroke-width="1.5"/>
<path d="M287.1 323.91 H284.7" stroke="#000" stroke-width="1.5"/>
<path d="M287.1 319.69 H284.7" stroke="#000" stroke-width="1.5"/>
<path d="M287.1 316.7 H284.7" stroke="#000" stroke-width="1.5"/>
<path d="M287.1 314.38 H284.7" stroke="#000" stroke-width="1.5"/>
<path d="M287.1 312.48 H284.7" stroke="#000" stroke-width="1.5"/>
<path d="M287.1 310.88 H284.7" stroke="#000" stroke-width="1.5"/>
<path d="M287.1 309.49 H284.7" stroke="#000" stroke-width="1.5"/>
<path d="M287.1 308.26 H284.7" stroke="#000" stroke-width="1.5"/>
<path d="M287.1 307.16 H283.1" stroke="#000" stroke-width="1.5"/>
<path d="M287.1 299.95 H284.7" stroke="#000" stroke-width="1.5"/>
<path d="M287.1 295.74 H284.7" stroke="#000" stroke-width="1.5"/>
<path d="M287.1 292.74 H284.7" stroke="#000" stroke-width="1.5"/>
<path d="M287.1 290.42 H284.7" stroke="#000" stroke-width="1.5"/>
<path d="M287.1 288.52 H284.7" stroke="#000" stroke-width="1.5"/>
<path d="M287.1 286.92 H284.7" stroke="#000" stroke-width="1.5"/>
<path d="M287.1 285.53 H284.7" stroke="#000" stroke-width="1.5"/>
<path d="M287.1 284.31 H284.7" stroke="#000" stroke-width="1.5"/>
<path d="M287.1 283.21 H283.1" stroke="#000" stroke-width="1.5"/>
<path d="M287.1 276 H284.7" stroke="#000" stroke-width="1.5"/>
<path d="M287.1 271.78 H284.7" stroke="#000" stroke-width="1.5"/>
<path d="M287.1 268.79 H284.7" stroke="#000" stroke-width="1.5"/>
<path d="M287.1 266.47 H284.7" stroke="#000" stroke-width="1.5"/>
<path d="M287.1 264.57 H284.7" stroke="#000" stroke-width="1.5"/>
<path d="M287.1 262.97 H284.7" stroke="#000" stroke-width="1.5"/>
<path d="M287.1 261.58 H284.7" stroke="#000" stroke-width="1.5"/>
<path d="M287.1 260.35 H284.7" stroke="#000" stroke-width="1.5"/>
<path d="M287.1 259.25 H283.1" stroke="#000" stroke-width="1.5"/>
<path d="M287.1 252.04 H284.7" stroke="#000" stroke-width="1.5"/>
<path d="M287.1 247.83 H284.7" stroke="#000" stroke-width="1.5"/>
<path d="M287.1 244.83 H284.7" stroke="#000" stroke-width="1.5"/>
<path d="M287.1 242.51 H284.7" stroke="#000" stroke-width="1.5"/>
<path d="M287.1 240.61 H284.7" stroke="#000" stroke-width="1.5"/>
<path d="M287.1 239.01 H284.7" stroke="#000" stroke-width="1.5"/>
<path d="M287.1 237.62 H284.7" stroke="#000" stroke-width="1.5"/>
<path d="M287.1 236.4 H284.7" stroke="#000" stroke-width="1.5"/>
<path d="M37.3 421.06 H41.7 M287.1 421.06 H282.7" stroke="#000" stroke-width="1.5"/>
<path d="M37.3 415.12 H39.7 M287.1 415.12 H284.7" stroke="#000" stroke-width="1.5"/>
<path d="M37.3 409.18 H41.7 M287.1 409.18 H282.7" stroke="#000" stroke-width="1.5"/>
<path d="M37.3 403.24 H39.7 M287.1 403.24 H284.7" stroke="#000" stroke-width="1.5"/>
<path d="M37.3 397.3 H41.7 M287.1 397.3 H282.7" stroke="#000" stroke-width="1.5"/>
<path d="M37.3 391.36 H39.7 M287.1 391.36 H284.7" stroke="#000" stroke-width="1.5"/>
<path d="M37.3 385.42 H41.7 M287.1 385.42 H282.7" stroke="#000" stroke-width="1.5"/>
<path d="M37.3 379.48 H39.7 M287.1 379.48 H284.7" stroke="#000" stroke-width="1.5"/>
<path d="M37.3 373.54 H41.7 M287.1 373.54 H282.7" stroke="#000" stroke-width="1.5"/>
<rect x="37.3" y="235.3" width="249.8" height="191.7" fill="none" stroke="#000" stroke-width="2.7"/>
<path d="M37.3 367.6 H287.1" stroke="#000" stroke-width="2.7"/>
<text transform="translate(31 237.6) scale(1 1.13)" font-family="Liberation Sans" font-size="8.1" text-anchor="end" >10</text>
<text transform="translate(31 261.55) scale(1 1.13)" font-family="Liberation Sans" font-size="8.1" text-anchor="end" >1</text>
<text transform="translate(31 285.51) scale(1 1.13)" font-family="Liberation Sans" font-size="8.1" text-anchor="end" >0.1</text>
<text transform="translate(31 309.46) scale(1 1.13)" font-family="Liberation Sans" font-size="8.1" text-anchor="end" >0.01</text>
<text transform="translate(31 333.92) scale(1 1.13)" font-family="Liberation Sans" font-size="8.1" text-anchor="end" >10<tspan font-size="4.7" baseline-shift="2.9">-3</tspan></text>
<text transform="translate(31 357.87) scale(1 1.13)" font-family="Liberation Sans" font-size="8.1" text-anchor="end" >10<tspan font-size="4.7" baseline-shift="2.9">-4</tspan></text>
<text transform="translate(31 376.29) scale(1 1.22)" font-family="Liberation Sans" font-size="8.1" text-anchor="end" >4</text>
<text transform="translate(31 388.17) scale(1 1.22)" font-family="Liberation Sans" font-size="8.1" text-anchor="end" >2</text>
<text transform="translate(31 400.05) scale(1 1.22)" font-family="Liberation Sans" font-size="8.1" text-anchor="end" >0</text>
<text transform="translate(31 411.93) scale(1 1.22)" font-family="Liberation Sans" font-size="8.1" text-anchor="end" >−2</text>
<text transform="translate(31 423.81) scale(1 1.22)" font-family="Liberation Sans" font-size="8.1" text-anchor="end" >−4</text>
<text transform="translate(43.19 437.2) scale(1 1.12)" font-family="Liberation Sans" font-size="8.1" text-anchor="middle" >1</text>
<text transform="translate(165.29 437.2) scale(1 1.12)" font-family="Liberation Sans" font-size="8.1" text-anchor="middle" >10</text>
<text transform="translate(287.4 437.2) scale(1 1.12)" font-family="Liberation Sans" font-size="8.1" text-anchor="middle" >100</text>
<text x="162.2" y="447.8" font-family="Liberation Sans" font-size="8.9" text-anchor="middle" >Energy (keV)</text>
<text transform="translate(8.6 301) rotate(-90)" font-family="Liberation Sans" font-size="9.0" text-anchor="middle">Counts s<tspan font-size="4.7" baseline-shift="2.9">-1</tspan> keV<tspan font-size="4.7" baseline-shift="2.9">-1</tspan></text>
<text transform="translate(9.3 397.3) rotate(-90)" font-family="Liberation Serif" font-size="9.5" font-style="italic" text-anchor="middle" dy="0">χ</text>
<text transform="translate(232.3 269.5) scale(1 1.06)" font-family="Liberation Serif" font-size="11" text-anchor="start" >(b1)</text>
<path d="M340.26 237.8 V241.4" stroke="#000" stroke-width="1.2"/>
<path d="M378.13 237.8 V239.7" stroke="#000" stroke-width="1.2"/>
<path d="M400.29 237.8 V239.7" stroke="#000" stroke-width="1.2"/>
<path d="M416.01 237.8 V239.7" stroke="#000" stroke-width="1.2"/>
<path d="M428.2 237.8 V239.7" stroke="#000" stroke-width="1.2"/>
<path d="M438.17 237.8 V239.7" stroke="#000" stroke-width="1.2"/>
<path d="M446.59 237.8 V239.7" stroke="#000" stroke-width="1.2"/>
<path d="M453.89 237.8 V239.7" stroke="#000" stroke-width="1.2"/>
<path d="M460.32 237.8 V239.7" stroke="#000" stroke-width="1.2"/>
<path d="M466.08 237.8 V241.4" stroke="#000" stroke-width="1.2"/>
<path d="M503.95 237.8 V239.7" stroke="#000" stroke-width="1.2"/>
<path d="M526.11 237.8 V239.7" stroke="#000" stroke-width="1.2"/>
<path d="M541.83 237.8 V239.7" stroke="#000" stroke-width="1.2"/>
<path d="M554.02 237.8 V239.7" stroke="#000" stroke-width="1.2"/>
<path d="M563.99 237.8 V239.7" stroke="#000" stroke-width="1.2"/>
<path d="M572.41 237.8 V239.7" stroke="#000" stroke-width="1.2"/>
<path d="M579.71 237.8 V239.7" stroke="#000" stroke-width="1.2"/>
<path d="M586.14 237.8 V239.7" stroke="#000" stroke-width="1.2"/>
<path d="M340.26 429.3 V425.7" stroke="#000" stroke-width="1.2"/>
<path d="M378.13 429.3 V427.4" stroke="#000" stroke-width="1.2"/>
<path d="M400.29 429.3 V427.4" stroke="#000" stroke-width="1.2"/>
<path d="M416.01 429.3 V427.4" stroke="#000" stroke-width="1.2"/>
<path d="M428.2 429.3 V427.4" stroke="#000" stroke-width="1.2"/>
<path d="M438.17 429.3 V427.4" stroke="#000" stroke-width="1.2"/>
<path d="M446.59 429.3 V427.4" stroke="#000" stroke-width="1.2"/>
<path d="M453.89 429.3 V427.4" stroke="#000" stroke-width="1.2"/>
<path d="M460.32 429.3 V427.4" stroke="#000" stroke-width="1.2"/>
<path d="M466.08 429.3 V425.7" stroke="#000" stroke-width="1.2"/>
<path d="M503.95 429.3 V427.4" stroke="#000" stroke-width="1.2"/>
<path d="M526.11 429.3 V427.4" stroke="#000" stroke-width="1.2"/>
<path d="M541.83 429.3 V427.4" stroke="#000" stroke-width="1.2"/>
<path d="M554.02 429.3 V427.4" stroke="#000" stroke-width="1.2"/>
<path d="M563.99 429.3 V427.4" stroke="#000" stroke-width="1.2"/>
<path d="M572.41 429.3 V427.4" stroke="#000" stroke-width="1.2"/>
<path d="M579.71 429.3 V427.4" stroke="#000" stroke-width="1.2"/>
<path d="M586.14 429.3 V427.4" stroke="#000" stroke-width="1.2"/>
<path d="M334.5 419.82 H336.4" stroke="#000" stroke-width="1.2"/>
<path d="M334.5 412.46 H336.4" stroke="#000" stroke-width="1.2"/>
<path d="M334.5 406.45 H336.4" stroke="#000" stroke-width="1.2"/>
<path d="M334.5 401.37 H336.4" stroke="#000" stroke-width="1.2"/>
<path d="M334.5 396.97 H336.4" stroke="#000" stroke-width="1.2"/>
<path d="M334.5 393.08 H336.4" stroke="#000" stroke-width="1.2"/>
<path d="M334.5 389.61 H338.1" stroke="#000" stroke-width="1.2"/>
<path d="M334.5 366.76 H336.4" stroke="#000" stroke-width="1.2"/>
<path d="M334.5 353.39 H336.4" stroke="#000" stroke-width="1.2"/>
<path d="M334.5 343.91 H336.4" stroke="#000" stroke-width="1.2"/>
<path d="M334.5 336.56 H336.4" stroke="#000" stroke-width="1.2"/>
<path d="M334.5 330.54 H336.4" stroke="#000" stroke-width="1.2"/>
<path d="M334.5 325.46 H336.4" stroke="#000" stroke-width="1.2"/>
<path d="M334.5 321.06 H336.4" stroke="#000" stroke-width="1.2"/>
<path d="M334.5 317.18 H336.4" stroke="#000" stroke-width="1.2"/>
<path d="M334.5 313.71 H338.1" stroke="#000" stroke-width="1.2"/>
<path d="M334.5 290.86 H336.4" stroke="#000" stroke-width="1.2"/>
<path d="M334.5 277.49 H336.4" stroke="#000" stroke-width="1.2"/>
<path d="M334.5 268.01 H336.4" stroke="#000" stroke-width="1.2"/>
<path d="M334.5 260.65 H336.4" stroke="#000" stroke-width="1.2"/>
<path d="M334.5 254.64 H336.4" stroke="#000" stroke-width="1.2"/>
<path d="M334.5 249.56 H336.4" stroke="#000" stroke-width="1.2"/>
<path d="M334.5 245.16 H336.4" stroke="#000" stroke-width="1.2"/>
<path d="M334.5 241.27 H336.4" stroke="#000" stroke-width="1.2"/>
<path d="M591.9 419.82 H590" stroke="#000" stroke-width="1.2"/>
<path d="M591.9 412.46 H590" stroke="#000" stroke-width="1.2"/>
<path d="M591.9 406.45 H590" stroke="#000" stroke-width="1.2"/>
<path d="M591.9 401.37 H590" stroke="#000" stroke-width="1.2"/>
<path d="M591.9 396.97 H590" stroke="#000" stroke-width="1.2"/>
<path d="M591.9 393.08 H590" stroke="#000" stroke-width="1.2"/>
<path d="M591.9 389.61 H588.3" stroke="#000" stroke-width="1.2"/>
<path d="M591.9 366.76 H590" stroke="#000" stroke-width="1.2"/>
<path d="M591.9 353.39 H590" stroke="#000" stroke-width="1.2"/>
<path d="M591.9 343.91 H590" stroke="#000" stroke-width="1.2"/>
<path d="M591.9 336.56 H590" stroke="#000" stroke-width="1.2"/>
<path d="M591.9 330.54 H590" stroke="#000" stroke-width="1.2"/>
<path d="M591.9 325.46 H590" stroke="#000" stroke-width="1.2"/>
<path d="M591.9 321.06 H590" stroke="#000" stroke-width="1.2"/>
<path d="M591.9 317.18 H590" stroke="#000" stroke-width="1.2"/>
<path d="M591.9 313.71 H588.3" stroke="#000" stroke-width="1.2"/>
<path d="M591.9 290.86 H590" stroke="#000" stroke-width="1.2"/>
<path d="M591.9 277.49 H590" stroke="#000" stroke-width="1.2"/>
<path d="M591.9 268.01 H590" stroke="#000" stroke-width="1.2"/>
<path d="M591.9 260.65 H590" stroke="#000" stroke-width="1.2"/>
<path d="M591.9 254.64 H590" stroke="#000" stroke-width="1.2"/>
<path d="M591.9 249.56 H590" stroke="#000" stroke-width="1.2"/>
<path d="M591.9 245.16 H590" stroke="#000" stroke-width="1.2"/>
<path d="M591.9 241.27 H590" stroke="#000" stroke-width="1.2"/>
<rect x="334.5" y="237.8" width="257.4" height="191.5" fill="none" stroke="#000" stroke-width="1.7"/>
<text transform="translate(328.5 240.4) scale(1 1.2)" font-family="Liberation Sans" font-size="7.9" text-anchor="end" >0.1</text>
<text transform="translate(328.5 316.31) scale(1 1.2)" font-family="Liberation Sans" font-size="7.9" text-anchor="end" >0.01</text>
<text transform="translate(328.5 392.61) scale(1 1.2)" font-family="Liberation Sans" font-size="7.9" text-anchor="end" >10<tspan font-size="4.7" baseline-shift="2.9">-3</tspan></text>
<text transform="translate(340.26 439) scale(1 1.2)" font-family="Liberation Sans" font-size="7.9" text-anchor="middle" >1</text>
<text transform="translate(466.08 439) scale(1 1.2)" font-family="Liberation Sans" font-size="7.9" text-anchor="middle" >10</text>
<text transform="translate(591.9 439) scale(1 1.2)" font-family="Liberation Sans" font-size="7.9" text-anchor="middle" >100</text>
<text transform="translate(463.2 448.5) scale(1 1.2)" font-family="Liberation Sans" font-size="8.0" text-anchor="middle" >Energy (keV)</text>
<text transform="translate(310 332.9) rotate(-90)" font-family="Liberation Sans" font-size="8.8" text-anchor="middle">keV<tspan font-size="4.7" baseline-shift="2.9">2</tspan> (Photons cm<tspan font-size="4.7" baseline-shift="2.9">-2</tspan> s<tspan font-size="4.7" baseline-shift="2.9">-1</tspan> keV<tspan font-size="4.7" baseline-shift="2.9">-1</tspan>)</text>
<text transform="translate(354.9 269.9) scale(1 1.06)" font-family="Liberation Serif" font-size="11" text-anchor="start" >(b2)</text>
<path d="M42.99 467 V471.2" stroke="#000" stroke-width="1.5"/>
<path d="M79.76 467 V469.4" stroke="#000" stroke-width="1.5"/>
<path d="M101.27 467 V469.4" stroke="#000" stroke-width="1.5"/>
<path d="M116.53 467 V469.4" stroke="#000" stroke-width="1.5"/>
<path d="M128.37 467 V469.4" stroke="#000" stroke-width="1.5"/>
<path d="M138.04 467 V469.4" stroke="#000" stroke-width="1.5"/>
<path d="M146.22 467 V469.4" stroke="#000" stroke-width="1.5"/>
<path d="M153.31 467 V469.4" stroke="#000" stroke-width="1.5"/>
<path d="M159.56 467 V469.4" stroke="#000" stroke-width="1.5"/>
<path d="M165.14 467 V471.2" stroke="#000" stroke-width="1.5"/>
<path d="M201.92 467 V469.4" stroke="#000" stroke-width="1.5"/>
<path d="M223.43 467 V469.4" stroke="#000" stroke-width="1.5"/>
<path d="M238.69 467 V469.4" stroke="#000" stroke-width="1.5"/>
<path d="M250.53 467 V469.4" stroke="#000" stroke-width="1.5"/>
<path d="M260.2 467 V469.4" stroke="#000" stroke-width="1.5"/>
<path d="M268.38 467 V469.4" stroke="#000" stroke-width="1.5"/>
<path d="M275.46 467 V469.4" stroke="#000" stroke-width="1.5"/>
<path d="M281.71 467 V469.4" stroke="#000" stroke-width="1.5"/>
<path d="M42.99 599.6 V595.4" stroke="#000" stroke-width="1.5"/>
<path d="M79.76 599.6 V597.2" stroke="#000" stroke-width="1.5"/>
<path d="M101.27 599.6 V597.2" stroke="#000" stroke-width="1.5"/>
<path d="M116.53 599.6 V597.2" stroke="#000" stroke-width="1.5"/>
<path d="M128.37 599.6 V597.2" stroke="#000" stroke-width="1.5"/>
<path d="M138.04 599.6 V597.2" stroke="#000" stroke-width="1.5"/>
<path d="M146.22 599.6 V597.2" stroke="#000" stroke-width="1.5"/>
<path d="M153.31 599.6 V597.2" stroke="#000" stroke-width="1.5"/>
<path d="M159.56 599.6 V597.2" stroke="#000" stroke-width="1.5"/>
<path d="M165.14 599.6 V595.4" stroke="#000" stroke-width="1.5"/>
<path d="M201.92 599.6 V597.2" stroke="#000" stroke-width="1.5"/>
<path d="M223.43 599.6 V597.2" stroke="#000" stroke-width="1.5"/>
<path d="M238.69 599.6 V597.2" stroke="#000" stroke-width="1.5"/>
<path d="M250.53 599.6 V597.2" stroke="#000" stroke-width="1.5"/>
<path d="M260.2 599.6 V597.2" stroke="#000" stroke-width="1.5"/>
<path d="M268.38 599.6 V597.2" stroke="#000" stroke-width="1.5"/>
<path d="M275.46 599.6 V597.2" stroke="#000" stroke-width="1.5"/>
<path d="M281.71 599.6 V597.2" stroke="#000" stroke-width="1.5"/>
<path d="M42.99 599.6 V603.8" stroke="#000" stroke-width="1.5"/>
<path d="M79.76 599.6 V602" stroke="#000" stroke-width="1.5"/>
<path d="M101.27 599.6 V602" stroke="#000" stroke-width="1.5"/>
<path d="M116.53 599.6 V602" stroke="#000" stroke-width="1.5"/>
<path d="M128.37 599.6 V602" stroke="#000" stroke-width="1.5"/>
<path d="M138.04 599.6 V602" stroke="#000" stroke-width="1.5"/>
<path d="M146.22 599.6 V602" stroke="#000" stroke-width="1.5"/>
<path d="M153.31 599.6 V602" stroke="#000" stroke-width="1.5"/>
<path d="M159.56 599.6 V602" stroke="#000" stroke-width="1.5"/>
<path d="M165.14 599.6 V603.8" stroke="#000" stroke-width="1.5"/>
<path d="M201.92 599.6 V602" stroke="#000" stroke-width="1.5"/>
<path d="M223.43 599.6 V602" stroke="#000" stroke-width="1.5"/>
<path d="M238.69 599.6 V602" stroke="#000" stroke-width="1.5"/>
<path d="M250.53 599.6 V602" stroke="#000" stroke-width="1.5"/>
<path d="M260.2 599.6 V602" stroke="#000" stroke-width="1.5"/>
<path d="M268.38 599.6 V602" stroke="#000" stroke-width="1.5"/>
<path d="M275.46 599.6 V602" stroke="#000" stroke-width="1.5"/>
<path d="M281.71 599.6 V602" stroke="#000" stroke-width="1.5"/>
<path d="M42.99 658.4 V654.2" stroke="#000" stroke-width="1.5"/>
<path d="M79.76 658.4 V656" stroke="#000" stroke-width="1.5"/>
<path d="M101.27 658.4 V656" stroke="#000" stroke-width="1.5"/>
<path d="M116.53 658.4 V656" stroke="#000" stroke-width="1.5"/>
<path d="M128.37 658.4 V656" stroke="#000" stroke-width="1.5"/>
<path d="M138.04 658.4 V656" stroke="#000" stroke-width="1.5"/>
<path d="M146.22 658.4 V656" stroke="#000" stroke-width="1.5"/>
<path d="M153.31 658.4 V656" stroke="#000" stroke-width="1.5"/>
<path d="M159.56 658.4 V656" stroke="#000" stroke-width="1.5"/>
<path d="M165.14 658.4 V654.2" stroke="#000" stroke-width="1.5"/>
<path d="M201.92 658.4 V656" stroke="#000" stroke-width="1.5"/>
<path d="M223.43 658.4 V656" stroke="#000" stroke-width="1.5"/>
<path d="M238.69 658.4 V656" stroke="#000" stroke-width="1.5"/>
<path d="M250.53 658.4 V656" stroke="#000" stroke-width="1.5"/>
<path d="M260.2 658.4 V656" stroke="#000" stroke-width="1.5"/>
<path d="M268.38 658.4 V656" stroke="#000" stroke-width="1.5"/>
<path d="M275.46 658.4 V656" stroke="#000" stroke-width="1.5"/>
<path d="M281.71 658.4 V656" stroke="#000" stroke-width="1.5"/>
<path d="M37.4 596.6 H39.8" stroke="#000" stroke-width="1.5"/>
<path d="M37.4 594.27 H39.8" stroke="#000" stroke-width="1.5"/>
<path d="M37.4 592.37 H39.8" stroke="#000" stroke-width="1.5"/>
<path d="M37.4 590.77 H39.8" stroke="#000" stroke-width="1.5"/>
<path d="M37.4 589.37 H39.8" stroke="#000" stroke-width="1.5"/>
<path d="M37.4 588.14 H39.8" stroke="#000" stroke-width="1.5"/>
<path d="M37.4 587.05 H41.4" stroke="#000" stroke-width="1.5"/>
<path d="M37.4 579.82 H39.8" stroke="#000" stroke-width="1.5"/>
<path d="M37.4 575.59 H39.8" stroke="#000" stroke-width="1.5"/>
<path d="M37.4 572.59 H39.8" stroke="#000" stroke-width="1.5"/>
<path d="M37.4 570.26 H39.8" stroke="#000" stroke-width="1.5"/>
<path d="M37.4 568.36 H39.8" stroke="#000" stroke-width="1.5"/>
<path d="M37.4 566.76 H39.8" stroke="#000" stroke-width="1.5"/>
<path d="M37.4 565.36 H39.8" stroke="#000" stroke-width="1.5"/>
<path d="M37.4 564.14 H39.8" stroke="#000" stroke-width="1.5"/>
<path d="M37.4 563.04 H41.4" stroke="#000" stroke-width="1.5"/>
<path d="M37.4 555.81 H39.8" stroke="#000" stroke-width="1.5"/>
<path d="M37.4 551.58 H39.8" stroke="#000" stroke-width="1.5"/>
<path d="M37.4 548.58 H39.8" stroke="#000" stroke-width="1.5"/>
<path d="M37.4 546.26 H39.8" stroke="#000" stroke-width="1.5"/>
<path d="M37.4 544.35 H39.8" stroke="#000" stroke-width="1.5"/>
<path d="M37.4 542.75 H39.8" stroke="#000" stroke-width="1.5"/>
<path d="M37.4 541.35 H39.8" stroke="#000" stroke-width="1.5"/>
<path d="M37.4 540.13 H39.8" stroke="#000" stroke-width="1.5"/>
<path d="M37.4 539.03 H41.4" stroke="#000" stroke-width="1.5"/>
<path d="M37.4 531.8 H39.8" stroke="#000" stroke-width="1.5"/>
<path d="M37.4 527.57 H39.8" stroke="#000" stroke-width="1.5"/>
<path d="M37.4 524.57 H39.8" stroke="#000" stroke-width="1.5"/>
<path d="M37.4 522.25 H39.8" stroke="#000" stroke-width="1.5"/>
<path d="M37.4 520.34 H39.8" stroke="#000" stroke-width="1.5"/>
<path d="M37.4 518.74 H39.8" stroke="#000" stroke-width="1.5"/>
<path d="M37.4 517.35 H39.8" stroke="#000" stroke-width="1.5"/>
<path d="M37.4 516.12 H39.8" stroke="#000" stroke-width="1.5"/>
<path d="M37.4 515.02 H41.4" stroke="#000" stroke-width="1.5"/>
<path d="M37.4 507.79 H39.8" stroke="#000" stroke-width="1.5"/>
<path d="M37.4 503.56 H39.8" stroke="#000" stroke-width="1.5"/>
<path d="M37.4 500.56 H39.8" stroke="#000" stroke-width="1.5"/>
<path d="M37.4 498.24 H39.8" stroke="#000" stroke-width="1.5"/>
<path d="M37.4 496.34 H39.8" stroke="#000" stroke-width="1.5"/>
<path d="M37.4 494.73 H39.8" stroke="#000" stroke-width="1.5"/>
<path d="M37.4 493.34 H39.8" stroke="#000" stroke-width="1.5"/>
<path d="M37.4 492.11 H39.8" stroke="#000" stroke-width="1.5"/>
<path d="M37.4 491.01 H41.4" stroke="#000" stroke-width="1.5"/>
<path d="M37.4 483.78 H39.8" stroke="#000" stroke-width="1.5"/>
<path d="M37.4 479.55 H39.8" stroke="#000" stroke-width="1.5"/>
<path d="M37.4 476.55 H39.8" stroke="#000" stroke-width="1.5"/>
<path d="M37.4 474.23 H39.8" stroke="#000" stroke-width="1.5"/>
<path d="M37.4 472.33 H39.8" stroke="#000" stroke-width="1.5"/>
<path d="M37.4 470.72 H39.8" stroke="#000" stroke-width="1.5"/>
<path d="M37.4 469.33 H39.8" stroke="#000" stroke-width="1.5"/>
<path d="M37.4 468.1 H39.8" stroke="#000" stroke-width="1.5"/>
<path d="M287.3 596.6 H284.9" stroke="#000" stroke-width="1.5"/>
<path d="M287.3 594.27 H284.9" stroke="#000" stroke-width="1.5"/>
<path d="M287.3 592.37 H284.9" stroke="#000" stroke-width="1.5"/>
<path d="M287.3 590.77 H284.9" stroke="#000" stroke-width="1.5"/>
<path d="M287.3 589.37 H284.9" stroke="#000" stroke-width="1.5"/>
<path d="M287.3 588.14 H284.9" stroke="#000" stroke-width="1.5"/>
<path d="M287.3 587.05 H283.3" stroke="#000" stroke-width="1.5"/>
<path d="M287.3 579.82 H284.9" stroke="#000" stroke-width="1.5"/>
<path d="M287.3 575.59 H284.9" stroke="#000" stroke-width="1.5"/>
<path d="M287.3 572.59 H284.9" stroke="#000" stroke-width="1.5"/>
<path d="M287.3 570.26 H284.9" stroke="#000" stroke-width="1.5"/>
<path d="M287.3 568.36 H284.9" stroke="#000" stroke-width="1.5"/>
<path d="M287.3 566.76 H284.9" stroke="#000" stroke-width="1.5"/>
<path d="M287.3 565.36 H284.9" stroke="#000" stroke-width="1.5"/>
<path d="M287.3 564.14 H284.9" stroke="#000" stroke-width="1.5"/>
<path d="M287.3 563.04 H283.3" stroke="#000" stroke-width="1.5"/>
<path d="M287.3 555.81 H284.9" stroke="#000" stroke-width="1.5"/>
<path d="M287.3 551.58 H284.9" stroke="#000" stroke-width="1.5"/>
<path d="M287.3 548.58 H284.9" stroke="#000" stroke-width="1.5"/>
<path d="M287.3 546.26 H284.9" stroke="#000" stroke-width="1.5"/>
<path d="M287.3 544.35 H284.9" stroke="#000" stroke-width="1.5"/>
<path d="M287.3 542.75 H284.9" stroke="#000" stroke-width="1.5"/>
<path d="M287.3 541.35 H284.9" stroke="#000" stroke-width="1.5"/>
<path d="M287.3 540.13 H284.9" stroke="#000" stroke-width="1.5"/>
<path d="M287.3 539.03 H283.3" stroke="#000" stroke-width="1.5"/>
<path d="M287.3 531.8 H284.9" stroke="#000" stroke-width="1.5"/>
<path d="M287.3 527.57 H284.9" stroke="#000" stroke-width="1.5"/>
<path d="M287.3 524.57 H284.9" stroke="#000" stroke-width="1.5"/>
<path d="M287.3 522.25 H284.9" stroke="#000" stroke-width="1.5"/>
<path d="M287.3 520.34 H284.9" stroke="#000" stroke-width="1.5"/>
<path d="M287.3 518.74 H284.9" stroke="#000" stroke-width="1.5"/>
<path d="M287.3 517.35 H284.9" stroke="#000" stroke-width="1.5"/>
<path d="M287.3 516.12 H284.9" stroke="#000" stroke-width="1.5"/>
<path d="M287.3 515.02 H283.3" stroke="#000" stroke-width="1.5"/>
<path d="M287.3 507.79 H284.9" stroke="#000" stroke-width="1.5"/>
<path d="M287.3 503.56 H284.9" stroke="#000" stroke-width="1.5"/>
<path d="M287.3 500.56 H284.9" stroke="#000" stroke-width="1.5"/>
<path d="M287.3 498.24 H284.9" stroke="#000" stroke-width="1.5"/>
<path d="M287.3 496.34 H284.9" stroke="#000" stroke-width="1.5"/>
<path d="M287.3 494.73 H284.9" stroke="#000" stroke-width="1.5"/>
<path d="M287.3 493.34 H284.9" stroke="#000" stroke-width="1.5"/>
<path d="M287.3 492.11 H284.9" stroke="#000" stroke-width="1.5"/>
<path d="M287.3 491.01 H283.3" stroke="#000" stroke-width="1.5"/>
<path d="M287.3 483.78 H284.9" stroke="#000" stroke-width="1.5"/>
<path d="M287.3 479.55 H284.9" stroke="#000" stroke-width="1.5"/>
<path d="M287.3 476.55 H284.9" stroke="#000" stroke-width="1.5"/>
<path d="M287.3 474.23 H284.9" stroke="#000" stroke-width="1.5"/>
<path d="M287.3 472.33 H284.9" stroke="#000" stroke-width="1.5"/>
<path d="M287.3 470.72 H284.9" stroke="#000" stroke-width="1.5"/>
<path d="M287.3 469.33 H284.9" stroke="#000" stroke-width="1.5"/>
<path d="M287.3 468.1 H284.9" stroke="#000" stroke-width="1.5"/>
<path d="M37.4 652.52 H41.8 M287.3 652.52 H282.9" stroke="#000" stroke-width="1.5"/>
<path d="M37.4 646.64 H39.8 M287.3 646.64 H284.9" stroke="#000" stroke-width="1.5"/>
<path d="M37.4 640.76 H41.8 M287.3 640.76 H282.9" stroke="#000" stroke-width="1.5"/>
<path d="M37.4 634.88 H39.8 M287.3 634.88 H284.9" stroke="#000" stroke-width="1.5"/>
<path d="M37.4 629 H41.8 M287.3 629 H282.9" stroke="#000" stroke-width="1.5"/>
<path d="M37.4 623.12 H39.8 M287.3 623.12 H284.9" stroke="#000" stroke-width="1.5"/>
<path d="M37.4 617.24 H41.8 M287.3 617.24 H282.9" stroke="#000" stroke-width="1.5"/>
<path d="M37.4 611.36 H39.8 M287.3 611.36 H284.9" stroke="#000" stroke-width="1.5"/>
<path d="M37.4 605.48 H41.8 M287.3 605.48 H282.9" stroke="#000" stroke-width="1.5"/>
<rect x="37.4" y="467" width="249.9" height="191.4" fill="none" stroke="#000" stroke-width="2.7"/>
<path d="M37.4 599.6 H287.3" stroke="#000" stroke-width="2.7"/>
<text transform="translate(31.1 469.3) scale(1 1.13)" font-family="Liberation Sans" font-size="8.1" text-anchor="end" >10</text>
<text transform="translate(31.1 493.31) scale(1 1.13)" font-family="Liberation Sans" font-size="8.1" text-anchor="end" >1</text>
<text transform="translate(31.1 517.32) scale(1 1.13)" font-family="Liberation Sans" font-size="8.1" text-anchor="end" >0.1</text>
<text transform="translate(31.1 541.33) scale(1 1.13)" font-family="Liberation Sans" font-size="8.1" text-anchor="end" >0.01</text>
<text transform="translate(31.1 565.84) scale(1 1.13)" font-family="Liberation Sans" font-size="8.1" text-anchor="end" >10<tspan font-size="4.7" baseline-shift="2.9">-3</tspan></text>
<text transform="translate(31.1 589.85) scale(1 1.13)" font-family="Liberation Sans" font-size="8.1" text-anchor="end" >10<tspan font-size="4.7" baseline-shift="2.9">-4</tspan></text>
<text transform="translate(31.1 608.23) scale(1 1.22)" font-family="Liberation Sans" font-size="8.1" text-anchor="end" >4</text>
<text transform="translate(31.1 619.99) scale(1 1.22)" font-family="Liberation Sans" font-size="8.1" text-anchor="end" >2</text>
<text transform="translate(31.1 631.75) scale(1 1.22)" font-family="Liberation Sans" font-size="8.1" text-anchor="end" >0</text>
<text transform="translate(31.1 643.51) scale(1 1.22)" font-family="Liberation Sans" font-size="8.1" text-anchor="end" >−2</text>
<text transform="translate(31.1 655.27) scale(1 1.22)" font-family="Liberation Sans" font-size="8.1" text-anchor="end" >−4</text>
<text transform="translate(43.29 668.6) scale(1 1.12)" font-family="Liberation Sans" font-size="8.1" text-anchor="middle" >1</text>
<text transform="translate(165.44 668.6) scale(1 1.12)" font-family="Liberation Sans" font-size="8.1" text-anchor="middle" >10</text>
<text transform="translate(287.6 668.6) scale(1 1.12)" font-family="Liberation Sans" font-size="8.1" text-anchor="middle" >100</text>
<text x="162.35" y="679.2" font-family="Liberation Sans" font-size="8.9" text-anchor="middle" >Energy (keV)</text>
<text transform="translate(8.6 531.3) rotate(-90)" font-family="Liberation Sans" font-size="9.05" text-anchor="middle">Counts s<tspan font-size="4.7" baseline-shift="2.9">-1</tspan> keV<tspan font-size="4.7" baseline-shift="2.9">-1</tspan></text>
<text transform="translate(9.4 629) rotate(-90)" font-family="Liberation Serif" font-size="9.5" font-style="italic" text-anchor="middle" dy="0">χ</text>
<text transform="translate(233.5 499.45) scale(1 1.06)" font-family="Liberation Serif" font-size="11" text-anchor="start" >(c1)</text>
<path d="M341.86 469 V472.6" stroke="#000" stroke-width="1.2"/>
<path d="M379.75 469 V470.9" stroke="#000" stroke-width="1.2"/>
<path d="M401.91 469 V470.9" stroke="#000" stroke-width="1.2"/>
<path d="M417.64 469 V470.9" stroke="#000" stroke-width="1.2"/>
<path d="M429.84 469 V470.9" stroke="#000" stroke-width="1.2"/>
<path d="M439.81 469 V470.9" stroke="#000" stroke-width="1.2"/>
<path d="M448.23 469 V470.9" stroke="#000" stroke-width="1.2"/>
<path d="M455.53 469 V470.9" stroke="#000" stroke-width="1.2"/>
<path d="M461.97 469 V470.9" stroke="#000" stroke-width="1.2"/>
<path d="M467.73 469 V472.6" stroke="#000" stroke-width="1.2"/>
<path d="M505.62 469 V470.9" stroke="#000" stroke-width="1.2"/>
<path d="M527.79 469 V470.9" stroke="#000" stroke-width="1.2"/>
<path d="M543.51 469 V470.9" stroke="#000" stroke-width="1.2"/>
<path d="M555.71 469 V470.9" stroke="#000" stroke-width="1.2"/>
<path d="M565.68 469 V470.9" stroke="#000" stroke-width="1.2"/>
<path d="M574.1 469 V470.9" stroke="#000" stroke-width="1.2"/>
<path d="M581.4 469 V470.9" stroke="#000" stroke-width="1.2"/>
<path d="M587.84 469 V470.9" stroke="#000" stroke-width="1.2"/>
<path d="M341.86 660 V656.4" stroke="#000" stroke-width="1.2"/>
<path d="M379.75 660 V658.1" stroke="#000" stroke-width="1.2"/>
<path d="M401.91 660 V658.1" stroke="#000" stroke-width="1.2"/>
<path d="M417.64 660 V658.1" stroke="#000" stroke-width="1.2"/>
<path d="M429.84 660 V658.1" stroke="#000" stroke-width="1.2"/>
<path d="M439.81 660 V658.1" stroke="#000" stroke-width="1.2"/>
<path d="M448.23 660 V658.1" stroke="#000" stroke-width="1.2"/>
<path d="M455.53 660 V658.1" stroke="#000" stroke-width="1.2"/>
<path d="M461.97 660 V658.1" stroke="#000" stroke-width="1.2"/>
<path d="M467.73 660 V656.4" stroke="#000" stroke-width="1.2"/>
<path d="M505.62 660 V658.1" stroke="#000" stroke-width="1.2"/>
<path d="M527.79 660 V658.1" stroke="#000" stroke-width="1.2"/>
<path d="M543.51 660 V658.1" stroke="#000" stroke-width="1.2"/>
<path d="M555.71 660 V658.1" stroke="#000" stroke-width="1.2"/>
<path d="M565.68 660 V658.1" stroke="#000" stroke-width="1.2"/>
<path d="M574.1 660 V658.1" stroke="#000" stroke-width="1.2"/>
<path d="M581.4 660 V658.1" stroke="#000" stroke-width="1.2"/>
<path d="M587.84 660 V658.1" stroke="#000" stroke-width="1.2"/>
<path d="M336.1 650.54 H338" stroke="#000" stroke-width="1.2"/>
<path d="M336.1 643.2 H338" stroke="#000" stroke-width="1.2"/>
<path d="M336.1 637.21 H338" stroke="#000" stroke-width="1.2"/>
<path d="M336.1 632.14 H338" stroke="#000" stroke-width="1.2"/>
<path d="M336.1 627.75 H338" stroke="#000" stroke-width="1.2"/>
<path d="M336.1 623.88 H338" stroke="#000" stroke-width="1.2"/>
<path d="M336.1 620.41 H339.7" stroke="#000" stroke-width="1.2"/>
<path d="M336.1 597.62 H338" stroke="#000" stroke-width="1.2"/>
<path d="M336.1 584.29 H338" stroke="#000" stroke-width="1.2"/>
<path d="M336.1 574.83 H338" stroke="#000" stroke-width="1.2"/>
<path d="M336.1 567.5 H338" stroke="#000" stroke-width="1.2"/>
<path d="M336.1 561.5 H338" stroke="#000" stroke-width="1.2"/>
<path d="M336.1 556.43 H338" stroke="#000" stroke-width="1.2"/>
<path d="M336.1 552.04 H338" stroke="#000" stroke-width="1.2"/>
<path d="M336.1 548.17 H338" stroke="#000" stroke-width="1.2"/>
<path d="M336.1 544.71 H339.7" stroke="#000" stroke-width="1.2"/>
<path d="M336.1 521.92 H338" stroke="#000" stroke-width="1.2"/>
<path d="M336.1 508.59 H338" stroke="#000" stroke-width="1.2"/>
<path d="M336.1 499.13 H338" stroke="#000" stroke-width="1.2"/>
<path d="M336.1 491.79 H338" stroke="#000" stroke-width="1.2"/>
<path d="M336.1 485.8 H338" stroke="#000" stroke-width="1.2"/>
<path d="M336.1 480.73 H338" stroke="#000" stroke-width="1.2"/>
<path d="M336.1 476.34 H338" stroke="#000" stroke-width="1.2"/>
<path d="M336.1 472.46 H338" stroke="#000" stroke-width="1.2"/>
<path d="M593.6 650.54 H591.7" stroke="#000" stroke-width="1.2"/>
<path d="M593.6 643.2 H591.7" stroke="#000" stroke-width="1.2"/>
<path d="M593.6 637.21 H591.7" stroke="#000" stroke-width="1.2"/>
<path d="M593.6 632.14 H591.7" stroke="#000" stroke-width="1.2"/>
<path d="M593.6 627.75 H591.7" stroke="#000" stroke-width="1.2"/>
<path d="M593.6 623.88 H591.7" stroke="#000" stroke-width="1.2"/>
<path d="M593.6 620.41 H590" stroke="#000" stroke-width="1.2"/>
<path d="M593.6 597.62 H591.7" stroke="#000" stroke-width="1.2"/>
<path d="M593.6 584.29 H591.7" stroke="#000" stroke-width="1.2"/>
<path d="M593.6 574.83 H591.7" stroke="#000" stroke-width="1.2"/>
<path d="M593.6 567.5 H591.7" stroke="#000" stroke-width="1.2"/>
<path d="M593.6 561.5 H591.7" stroke="#000" stroke-width="1.2"/>
<path d="M593.6 556.43 H591.7" stroke="#000" stroke-width="1.2"/>
<path d="M593.6 552.04 H591.7" stroke="#000" stroke-width="1.2"/>
<path d="M593.6 548.17 H591.7" stroke="#000" stroke-width="1.2"/>
<path d="M593.6 544.71 H590" stroke="#000" stroke-width="1.2"/>
<path d="M593.6 521.92 H591.7" stroke="#000" stroke-width="1.2"/>
<path d="M593.6 508.59 H591.7" stroke="#000" stroke-width="1.2"/>
<path d="M593.6 499.13 H591.7" stroke="#000" stroke-width="1.2"/>
<path d="M593.6 491.79 H591.7" stroke="#000" stroke-width="1.2"/>
<path d="M593.6 485.8 H591.7" stroke="#000" stroke-width="1.2"/>
<path d="M593.6 480.73 H591.7" stroke="#000" stroke-width="1.2"/>
<path d="M593.6 476.34 H591.7" stroke="#000" stroke-width="1.2"/>
<path d="M593.6 472.46 H591.7" stroke="#000" stroke-width="1.2"/>
<rect x="336.1" y="469" width="257.5" height="191" fill="none" stroke="#000" stroke-width="1.7"/>
<text transform="translate(330.1 471.6) scale(1 1.2)" font-family="Liberation Sans" font-size="7.9" text-anchor="end" >0.1</text>
<text transform="translate(330.1 547.31) scale(1 1.2)" font-family="Liberation Sans" font-size="7.9" text-anchor="end" >0.01</text>
<text transform="translate(330.1 623.41) scale(1 1.2)" font-family="Liberation Sans" font-size="7.9" text-anchor="end" >10<tspan font-size="4.7" baseline-shift="2.9">-3</tspan></text>
<text transform="translate(341.86 669.7) scale(1 1.2)" font-family="Liberation Sans" font-size="7.9" text-anchor="middle" >1</text>
<text transform="translate(467.73 669.7) scale(1 1.2)" font-family="Liberation Sans" font-size="7.9" text-anchor="middle" >10</text>
<text transform="translate(593.6 669.7) scale(1 1.2)" font-family="Liberation Sans" font-size="7.9" text-anchor="middle" >100</text>
<text transform="translate(464.85 679.2) scale(1 1.2)" font-family="Liberation Sans" font-size="8.0" text-anchor="middle" >Energy (keV)</text>
<text transform="translate(312 564.5) rotate(-90)" font-family="Liberation Sans" font-size="8.8" text-anchor="middle">keV<tspan font-size="4.7" baseline-shift="2.9">2</tspan> (Photons cm<tspan font-size="4.7" baseline-shift="2.9">-2</tspan> s<tspan font-size="4.7" baseline-shift="2.9">-1</tspan> keV<tspan font-size="4.7" baseline-shift="2.9">-1</tspan>)</text>
<text transform="translate(356.5 499) scale(1 1.06)" font-family="Liberation Serif" font-size="11" text-anchor="start" >(c2)</text>
<clipPath id="ca1"><rect x="36.7" y="6" width="247.9" height="130.5"/></clipPath>
<path d="M36.5 71 L36.61 70.88 L36.75 70.75 L36.91 70.59 L37.09 70.4 L37.31 70.18 L37.57 69.93 L37.86 69.63 L38.2 69.3 L38.59 68.92 L39.04 68.48 L39.53 68.01 L40.06 67.5 L40.61 66.97 L41.17 66.42 L41.74 65.86 L42.3 65.3 L42.87 64.72 L43.45 64.12 L44.04 63.49 L44.65 62.85 L45.26 62.21 L45.88 61.58 L46.49 60.98 L47.1 60.4 L47.71 59.85 L48.32 59.3 L48.93 58.77 L49.55 58.25 L50.17 57.75 L50.78 57.27 L51.39 56.82 L52 56.4 L52.6 56.01 L53.2 55.64 L53.8 55.3 L54.4 54.97 L55 54.68 L55.6 54.4 L56.2 54.14 L56.8 53.9 L57.4 53.69 L58 53.5 L58.6 53.34 L59.2 53.19 L59.81 53.06 L60.42 52.94 L61.05 52.82 L61.7 52.7 L62.37 52.57 L63.07 52.43 L63.78 52.28 L64.5 52.15 L65.22 52.04 L65.93 51.95 L66.63 51.9 L67.3 51.9 L67.95 51.95 L68.6 52.04 L69.23 52.16 L69.86 52.32 L70.47 52.5 L71.06 52.69 L71.64 52.89 L72.2 53.1 L72.74 53.33 L73.25 53.6 L73.75 53.9 L74.24 54.21 L74.71 54.5 L75.18 54.78 L75.64 55.02 L76.1 55.2 L76.55 55.32 L76.98 55.39 L77.4 55.42 L77.82 55.43 L78.24 55.42 L78.67 55.43 L79.12 55.45 L79.6 55.5 L80.09 55.58 L80.59 55.66 L81.1 55.76 L81.63 55.86 L82.18 55.98 L82.75 56.1 L83.36 56.25 L84 56.4 L84.69 56.58 L85.42 56.8 L86.19 57.03 L86.99 57.27 L87.8 57.52 L88.61 57.74 L89.41 57.94 L90.2 58.1 L90.96 58.22 L91.69 58.31 L92.42 58.38 L93.15 58.44 L93.9 58.48 L94.68 58.52 L95.51 58.56 L96.4 58.6 L97.37 58.64 L98.4 58.67 L99.49 58.7 L100.61 58.72 L101.74 58.75 L102.86 58.78 L103.96 58.83 L105 58.9 L105.96 58.98 L106.85 59.07 L107.7 59.17 L108.55 59.27 L109.43 59.4 L110.37 59.54 L111.42 59.71 L112.6 59.9 L113.96 60.11 L115.47 60.33 L117.1 60.56 L118.79 60.82 L120.49 61.1 L122.16 61.43 L123.74 61.79 L125.2 62.2 L126.53 62.63 L127.78 63.08 L128.96 63.54 L130.1 64.05 L131.22 64.62 L132.32 65.28 L133.45 66.03 L134.6 66.9 L135.79 67.9 L136.99 69.03 L138.19 70.26 L139.39 71.56 L140.58 72.93 L141.76 74.34 L142.9 75.77 L144 77.2 L145.07 78.66 L146.12 80.17 L147.14 81.72 L148.14 83.31 L149.12 84.91 L150.07 86.52 L151 88.12 L151.9 89.7 L152.79 91.27 L153.66 92.84 L154.52 94.42 L155.35 95.99 L156.14 97.57 L156.89 99.15 L157.58 100.72 L158.2 102.3 L158.76 103.96 L159.27 105.75 L159.73 107.58 L160.14 109.39 L160.51 111.1 L160.82 112.64 L161.08 113.93 L161.3 114.9" fill="none" stroke="#000" stroke-width="2.0" stroke-linecap="round" stroke-dasharray="0 3.8" clip-path="url(#ca1)"/>
<path d="M36.5 75 L36.54 74.89 L36.55 74.77 L36.56 74.62 L36.59 74.45 L36.67 74.24 L36.82 73.98 L37.05 73.67 L37.4 73.3 L37.89 72.84 L38.51 72.3 L39.23 71.7 L40.01 71.05 L40.82 70.38 L41.63 69.72 L42.4 69.09 L43.1 68.5 L43.74 67.95 L44.36 67.4 L44.96 66.85 L45.55 66.33 L46.13 65.81 L46.71 65.32 L47.3 64.85 L47.9 64.4 L48.5 63.98 L49.1 63.57 L49.7 63.18 L50.3 62.82 L50.91 62.48 L51.52 62.16 L52.15 61.86 L52.8 61.6 L53.47 61.37 L54.17 61.18 L54.88 61.02 L55.6 60.88 L56.32 60.75 L57.03 60.63 L57.73 60.52 L58.4 60.4 L59.04 60.27 L59.66 60.14 L60.26 60.02 L60.85 59.9 L61.44 59.79 L62.04 59.71 L62.66 59.64 L63.3 59.6 L63.96 59.59 L64.64 59.62 L65.33 59.67 L66.02 59.74 L66.73 59.81 L67.45 59.89 L68.17 59.95 L68.9 60 L69.65 60.03 L70.44 60.05 L71.25 60.07 L72.06 60.09 L72.86 60.1 L73.63 60.13 L74.34 60.16 L75 60.2 L75.58 60.25 L76.08 60.3 L76.53 60.35 L76.96 60.41 L77.37 60.48 L77.81 60.56 L78.27 60.67 L78.8 60.8 L79.38 60.96 L79.98 61.14 L80.6 61.33 L81.25 61.55 L81.92 61.78 L82.6 62.01 L83.29 62.26 L84 62.5 L84.73 62.76 L85.5 63.03 L86.29 63.32 L87.09 63.62 L87.9 63.91 L88.69 64.19 L89.46 64.46 L90.2 64.7 L90.91 64.92 L91.61 65.13 L92.29 65.33 L92.96 65.52 L93.61 65.69 L94.25 65.85 L94.88 65.98 L95.5 66.1 L96.05 66.18 L96.49 66.23 L96.89 66.25 L97.29 66.26 L97.75 66.26 L98.32 66.28 L99.06 66.32 L100 66.4 L101.19 66.5 L102.58 66.61 L104.13 66.73 L105.79 66.87 L107.52 67.03 L109.26 67.22 L110.97 67.44 L112.6 67.7 L114.19 67.99 L115.79 68.29 L117.4 68.62 L119 68.99 L120.59 69.39 L122.16 69.84 L123.7 70.34 L125.2 70.9 L126.66 71.51 L128.1 72.15 L129.51 72.83 L130.9 73.56 L132.26 74.36 L133.6 75.22 L134.91 76.17 L136.2 77.2 L137.46 78.33 L138.7 79.55 L139.91 80.84 L141.09 82.21 L142.26 83.64 L143.39 85.12 L144.51 86.64 L145.6 88.2 L146.67 89.75 L147.7 91.28 L148.71 92.84 L149.7 94.46 L150.67 96.18 L151.62 98.03 L152.57 100.06 L153.5 102.3 L154.47 104.96 L155.48 108.09 L156.5 111.49 L157.49 114.98 L158.43 118.36 L159.26 121.44 L159.97 124.01 L160.5 125.9" fill="none" stroke="#ee1c1c" stroke-width="2.0" stroke-linecap="round" stroke-dasharray="0 3.8" clip-path="url(#ca1)"/>
<path d="M36.5 55 L36.69 54.61 L36.93 54.08 L37.22 53.45 L37.54 52.76 L37.89 52.02 L38.26 51.28 L38.63 50.56 L39 49.9 L39.37 49.27 L39.77 48.64 L40.18 48.01 L40.61 47.38 L41.03 46.76 L41.46 46.16 L41.89 45.57 L42.3 45 L42.7 44.45 L43.11 43.93 L43.51 43.42 L43.91 42.92 L44.3 42.43 L44.7 41.95 L45.1 41.47 L45.5 41 L45.9 40.52 L46.3 40.04 L46.7 39.57 L47.09 39.1 L47.49 38.64 L47.89 38.21 L48.3 37.79 L48.7 37.4 L49.11 37.04 L49.52 36.71 L49.93 36.4 L50.35 36.11 L50.77 35.83 L51.18 35.55 L51.59 35.28 L52 35 L52.4 34.72 L52.79 34.44 L53.17 34.17 L53.56 33.9 L53.95 33.64 L54.35 33.38 L54.76 33.14 L55.2 32.9 L55.66 32.67 L56.12 32.46 L56.6 32.25 L57.09 32.05 L57.6 31.86 L58.12 31.67 L58.65 31.48 L59.2 31.3 L59.78 31.12 L60.38 30.95 L61.01 30.79 L61.65 30.63 L62.29 30.47 L62.92 30.31 L63.52 30.16 L64.1 30 L64.65 29.83 L65.19 29.64 L65.71 29.44 L66.22 29.24 L66.72 29.07 L67.2 28.93 L67.66 28.83 L68.1 28.8 L68.52 28.8 L68.9 28.8 L69.27 28.82 L69.62 28.89 L69.96 29.02 L70.3 29.24 L70.65 29.56 L71 30 L71.36 30.62 L71.72 31.41 L72.08 32.32 L72.44 33.31 L72.8 34.32 L73.16 35.3 L73.53 36.21 L73.9 37 L74.28 37.68 L74.66 38.33 L75.05 38.92 L75.44 39.48 L75.84 40 L76.23 40.47 L76.62 40.91 L77 41.3 L77.38 41.63 L77.76 41.89 L78.13 42.1 L78.51 42.27 L78.88 42.43 L79.25 42.59 L79.63 42.78 L80 43 L80.38 43.25 L80.76 43.51 L81.15 43.77 L81.54 44.04 L81.92 44.33 L82.29 44.63 L82.65 44.96 L83 45.3 L83.32 45.67 L83.63 46.05 L83.91 46.46 L84.19 46.88 L84.48 47.32 L84.76 47.77 L85.07 48.23 L85.4 48.7 L85.75 49.19 L86.1 49.71 L86.45 50.25 L86.83 50.79 L87.21 51.34 L87.62 51.88 L88.05 52.4 L88.5 52.9 L88.99 53.37 L89.53 53.82 L90.09 54.26 L90.67 54.69 L91.26 55.12 L91.83 55.54 L92.38 55.97 L92.9 56.4 L93.38 56.83 L93.84 57.25 L94.28 57.67 L94.71 58.09 L95.13 58.52 L95.55 58.96 L95.97 59.42 L96.4 59.9 L96.84 60.4 L97.28 60.92 L97.71 61.44 L98.15 61.99 L98.59 62.54 L99.03 63.12 L99.46 63.7 L99.9 64.3 L100.32 64.87 L100.72 65.4 L101.1 65.91 L101.49 66.46 L101.9 67.06 L102.35 67.76 L102.84 68.6 L103.4 69.6 L104.02 70.78 L104.68 72.1 L105.38 73.55 L106.13 75.1 L106.9 76.73 L107.71 78.42 L108.54 80.15 L109.4 81.9 L110.31 83.71 L111.28 85.62 L112.29 87.6 L113.33 89.63 L114.37 91.67 L115.39 93.7 L116.38 95.69 L117.3 97.6 L118.15 99.37 L118.95 101 L119.71 102.55 L120.46 104.11 L121.2 105.74 L121.96 107.51 L122.75 109.51 L123.6 111.8 L124.56 114.6 L125.63 117.92 L126.76 121.55 L127.89 125.29 L128.98 128.91 L129.96 132.21 L130.79 134.98 L131.4 137" fill="none" stroke="#000" stroke-width="2.0" stroke-linecap="round" stroke-dasharray="0 3.8" clip-path="url(#ca1)"/>
<path d="M36.2 52 L36.28 51.77 L36.37 51.47 L36.47 51.1 L36.59 50.7 L36.74 50.28 L36.92 49.86 L37.14 49.46 L37.4 49.1 L37.71 48.78 L38.06 48.49 L38.45 48.2 L38.88 47.93 L39.32 47.64 L39.78 47.35 L40.24 47.04 L40.7 46.7 L41.17 46.33 L41.65 45.93 L42.15 45.51 L42.66 45.08 L43.17 44.64 L43.68 44.21 L44.2 43.79 L44.7 43.4 L45.19 43.02 L45.68 42.66 L46.16 42.3 L46.64 41.94 L47.13 41.6 L47.64 41.26 L48.16 40.93 L48.7 40.6 L49.26 40.28 L49.85 39.95 L50.44 39.64 L51.05 39.33 L51.67 39.02 L52.3 38.73 L52.95 38.46 L53.6 38.2 L54.27 37.96 L54.97 37.73 L55.68 37.51 L56.4 37.3 L57.12 37.11 L57.83 36.93 L58.53 36.76 L59.2 36.6 L59.85 36.46 L60.5 36.33 L61.13 36.22 L61.75 36.12 L62.36 36.04 L62.95 35.95 L63.54 35.88 L64.1 35.8 L64.64 35.73 L65.14 35.66 L65.63 35.6 L66.1 35.54 L66.57 35.5 L67.06 35.46 L67.56 35.42 L68.1 35.4 L68.68 35.39 L69.28 35.41 L69.91 35.44 L70.55 35.47 L71.19 35.5 L71.82 35.52 L72.42 35.52 L73 35.5 L73.55 35.44 L74.07 35.36 L74.59 35.26 L75.09 35.14 L75.58 35.03 L76.06 34.93 L76.53 34.85 L77 34.8 L77.46 34.76 L77.89 34.72 L78.31 34.69 L78.73 34.67 L79.14 34.69 L79.57 34.74 L80.02 34.84 L80.5 35 L81 35.24 L81.52 35.55 L82.05 35.92 L82.6 36.33 L83.16 36.75 L83.73 37.17 L84.31 37.56 L84.9 37.9 L85.47 38.19 L86.01 38.45 L86.55 38.68 L87.1 38.91 L87.7 39.15 L88.36 39.4 L89.12 39.68 L90 40 L91.02 40.37 L92.16 40.78 L93.39 41.21 L94.69 41.66 L96.03 42.13 L97.39 42.59 L98.72 43.05 L100 43.5 L101.32 43.96 L102.73 44.46 L104.19 44.97 L105.62 45.47 L106.98 45.94 L108.2 46.37 L109.23 46.73 L110 47" fill="none" stroke="#ee1c1c" stroke-width="2.0" stroke-linecap="round" stroke-dasharray="0 3.8" clip-path="url(#ca1)"/>
<path d="M36.5 62 L36.89 61.02 L37.42 59.66 L38.05 58.03 L38.75 56.25 L39.48 54.44 L40.2 52.72 L40.89 51.2 L41.5 50 L42.04 49.12 L42.53 48.44 L43 47.91 L43.46 47.5 L43.92 47.15 L44.4 46.81 L44.93 46.45 L45.5 46 L46.14 45.48 L46.83 44.95 L47.55 44.4 L48.3 43.86 L49.05 43.33 L49.8 42.84 L50.52 42.39 L51.2 42 L51.84 41.67 L52.46 41.39 L53.06 41.16 L53.65 40.96 L54.23 40.78 L54.81 40.61 L55.4 40.46 L56 40.3 L56.6 40.14 L57.2 39.98 L57.8 39.83 L58.4 39.69 L59.01 39.58 L59.62 39.49 L60.25 39.43 L60.9 39.4 L61.58 39.41 L62.29 39.46 L63.01 39.54 L63.75 39.64 L64.48 39.77 L65.19 39.9 L65.87 40.05 L66.5 40.2 L67.08 40.36 L67.63 40.54 L68.15 40.74 L68.65 40.95 L69.14 41.16 L69.62 41.38 L70.1 41.59 L70.6 41.8 L71.11 41.99 L71.62 42.18 L72.14 42.36 L72.65 42.55 L73.16 42.74 L73.65 42.94 L74.13 43.16 L74.6 43.4 L75.05 43.66 L75.49 43.95 L75.92 44.25 L76.34 44.56 L76.74 44.88 L77.14 45.2 L77.53 45.5 L77.9 45.8 L78.26 46.08 L78.62 46.36 L78.96 46.64 L79.29 46.91 L79.61 47.18 L79.92 47.45 L80.22 47.73 L80.5 48 L80.76 48.27 L81.01 48.54 L81.24 48.8 L81.46 49.07 L81.67 49.34 L81.88 49.61 L82.09 49.9 L82.3 50.2 L82.51 50.51 L82.71 50.84 L82.9 51.18 L83.09 51.53 L83.29 51.87 L83.51 52.22 L83.74 52.56 L84 52.9 L84.29 53.22 L84.61 53.54 L84.94 53.84 L85.29 54.15 L85.65 54.46 L86.01 54.79 L86.36 55.13 L86.7 55.5 L87.03 55.89 L87.35 56.31 L87.68 56.75 L88 57.19 L88.32 57.65 L88.65 58.1 L88.97 58.56 L89.3 59 L89.63 59.44 L89.95 59.87 L90.27 60.31 L90.59 60.74 L90.92 61.18 L91.27 61.62 L91.62 62.06 L92 62.5 L92.41 62.95 L92.84 63.4 L93.29 63.85 L93.76 64.3 L94.22 64.75 L94.67 65.2 L95.1 65.65 L95.5 66.1 L95.87 66.54 L96.21 66.98 L96.54 67.42 L96.85 67.86 L97.16 68.29 L97.46 68.73 L97.78 69.16 L98.1 69.6 L98.4 69.96 L98.66 70.2 L98.91 70.4 L99.17 70.62 L99.46 70.94 L99.81 71.41 L100.25 72.11 L100.8 73.1 L101.47 74.44 L102.25 76.08 L103.11 77.96 L104.03 79.99 L104.99 82.1 L105.97 84.22 L106.95 86.28 L107.9 88.2 L108.85 90 L109.84 91.76 L110.84 93.49 L111.85 95.21 L112.85 96.94 L113.84 98.69 L114.79 100.47 L115.7 102.3 L116.56 104.16 L117.38 106.04 L118.17 107.93 L118.94 109.84 L119.7 111.8 L120.46 113.81 L121.22 115.87 L122 118 L122.83 120.35 L123.72 122.96 L124.64 125.72 L125.54 128.48 L126.4 131.12 L127.17 133.51 L127.81 135.51 L128.3 137" fill="none" stroke="#ee1c1c" stroke-width="2.0" stroke-linecap="round" stroke-dasharray="0 3.8" clip-path="url(#ca1)"/>
<path d="M36.6 39.5 L36.75 39.39 L36.95 39.24 L37.19 39.06 L37.46 38.86 L37.73 38.64 L38.01 38.42 L38.27 38.21 L38.5 38 L38.69 37.8 L38.86 37.61 L39.01 37.42 L39.16 37.22 L39.32 37.01 L39.51 36.79 L39.73 36.56 L40 36.3 L40.33 36.02 L40.7 35.72 L41.1 35.4 L41.53 35.06 L41.98 34.72 L42.43 34.38 L42.87 34.04 L43.3 33.7 L43.72 33.37 L44.15 33.03 L44.57 32.69 L45 32.36 L45.43 32.02 L45.85 31.68 L46.28 31.34 L46.7 31 L47.12 30.66 L47.53 30.32 L47.94 29.98 L48.36 29.64 L48.77 29.31 L49.18 28.97 L49.59 28.63 L50 28.3 L50.41 27.96 L50.82 27.62 L51.23 27.28 L51.64 26.94 L52.06 26.6 L52.47 26.28 L52.88 25.98 L53.3 25.7 L53.72 25.44 L54.15 25.21 L54.57 25 L55 24.79 L55.43 24.6 L55.85 24.4 L56.28 24.21 L56.7 24 L57.13 23.78 L57.56 23.56 L58 23.33 L58.44 23.1 L58.86 22.88 L59.27 22.67 L59.65 22.47 L60 22.3 L60.31 22.15 L60.59 22 L60.85 21.88 L61.08 21.76 L61.31 21.66 L61.53 21.56 L61.76 21.48 L62 21.4 L62.25 21.32 L62.52 21.25 L62.78 21.19 L63.04 21.13 L63.3 21.09 L63.55 21.07 L63.78 21.07 L64 21.1 L64.19 21.17 L64.36 21.29 L64.52 21.43 L64.67 21.59 L64.81 21.76 L64.96 21.9 L65.12 22.02 L65.3 22.1 L65.49 22.13 L65.69 22.14 L65.9 22.12 L66.11 22.08 L66.32 22.04 L66.54 21.99 L66.77 21.94 L67 21.9 L67.25 21.87 L67.53 21.82 L67.82 21.78 L68.11 21.74 L68.38 21.69 L68.63 21.66 L68.84 21.62 L69 21.6" fill="none" stroke="#000" stroke-width="2.6" stroke-linejoin="round" stroke-linecap="butt" clip-path="url(#ca1)"/>
<path d="M75.6 26.9 L75.87 26.81 L76.23 26.69 L76.66 26.53 L77.13 26.37 L77.63 26.21 L78.12 26.07 L78.59 25.96 L79 25.9 L79.37 25.87 L79.71 25.85 L80.04 25.84 L80.36 25.86 L80.67 25.92 L81 26.02 L81.34 26.18 L81.7 26.4 L82.08 26.72 L82.48 27.14 L82.89 27.64 L83.31 28.17 L83.74 28.7 L84.16 29.21 L84.58 29.65 L85 30 L85.39 30.25 L85.75 30.43 L86.09 30.55 L86.44 30.64 L86.81 30.72 L87.24 30.79 L87.72 30.88 L88.3 31 L88.97 31.14 L89.74 31.29 L90.56 31.43 L91.44 31.59 L92.34 31.75 L93.25 31.92 L94.14 32.1 L95 32.3 L95.84 32.52 L96.68 32.75 L97.52 33 L98.36 33.26 L99.19 33.52 L100.03 33.78 L100.87 34.05 L101.7 34.3 L102.53 34.55 L103.35 34.79 L104.18 35.03 L105 35.27 L105.82 35.52 L106.65 35.77 L107.47 36.03 L108.3 36.3 L109.14 36.57 L110 36.84 L110.86 37.1 L111.72 37.38 L112 38.02 L115 38.02 L115 39.65 L118.11 39.65 L118.11 42.1 L121.33 42.1 L121.33 44.4 L124.66 44.4 L124.66 46.73 L128.11 46.73 L128.11 49.24 L131.69 49.24 L131.69 52.31 L135.39 52.31 L135.39 56.3 L139.23 56.3 L139.23 60.14 L143.21 60.14 L143.21 64.16 L147.32 64.16 L147.32 68.66 L151.59 68.66 L151.59 73.63 L156 73.63 L156 79.76 L160.58 79.76 L160.58 85.41 L162.3 85.41" fill="none" stroke="#000" stroke-width="2.6" stroke-linejoin="miter" clip-path="url(#ca1)"/>
<path d="M162.3 84 V91" stroke="#000" stroke-width="2"/>
<path d="M36.3 45 L36.43 44.85 L36.6 44.64 L36.8 44.4 L37.02 44.12 L37.27 43.84 L37.51 43.55 L37.76 43.26 L38 43 L38.23 42.76 L38.45 42.53 L38.67 42.31 L38.9 42.08 L39.14 41.85 L39.4 41.59 L39.69 41.31 L40 41 L40.35 40.65 L40.73 40.25 L41.14 39.83 L41.56 39.39 L42 38.95 L42.44 38.51 L42.87 38.09 L43.3 37.7 L43.72 37.33 L44.15 36.97 L44.57 36.61 L45 36.27 L45.43 35.93 L45.85 35.61 L46.28 35.3 L46.7 35 L47.12 34.71 L47.53 34.44 L47.94 34.19 L48.36 33.94 L48.77 33.7 L49.18 33.46 L49.59 33.23 L50 33 L50.41 32.77 L50.82 32.54 L51.23 32.32 L51.64 32.11 L52.06 31.9 L52.47 31.69 L52.88 31.49 L53.3 31.3 L53.72 31.12 L54.15 30.94 L54.57 30.77 L55 30.61 L55.43 30.45 L55.85 30.29 L56.28 30.15 L56.7 30 L57.12 29.86 L57.53 29.71 L57.94 29.57 L58.36 29.44 L58.77 29.31 L59.18 29.19 L59.59 29.09 L60 29 L60.41 28.92 L60.82 28.86 L61.23 28.81 L61.64 28.77 L62.06 28.74 L62.47 28.72 L62.88 28.7 L63.3 28.7 L63.73 28.71 L64.17 28.73 L64.62 28.76 L65.06 28.81 L65.5 28.85 L65.92 28.9 L66.33 28.95 L66.7 29 L67.06 29.05 L67.41 29.1 L67.74 29.16 L68.06 29.22 L68.35 29.27 L68.61 29.33 L68.83 29.37 L69 29.4" fill="none" stroke="#ee1c1c" stroke-width="3.2" stroke-linejoin="round" stroke-linecap="butt" clip-path="url(#ca1)"/>
<path d="M76.1 30.8 L76.55 30.82 L77.16 30.81 L77.89 30.81 L78.69 30.82 L79.52 30.86 L80.33 30.94 L81.07 31.08 L81.7 31.3 L82.22 31.63 L82.69 32.06 L83.11 32.56 L83.49 33.1 L83.86 33.65 L84.23 34.17 L84.6 34.63 L85 35 L85.39 35.27 L85.75 35.46 L86.09 35.6 L86.44 35.71 L86.81 35.82 L87.24 35.93 L87.72 36.09 L88.3 36.3 L88.97 36.57 L89.74 36.89 L90.56 37.23 L91.44 37.59 L92.34 37.96 L93.25 38.32 L94.14 38.67 L95 39 L95.84 39.3 L96.68 39.59 L97.52 39.87 L98.36 40.15 L99.19 40.43 L100.03 40.71 L100.87 41 L101.7 41.3 L102.53 41.61 L103.35 41.93 L104.18 42.26 L105 42.59 L105.82 42.93 L106.65 43.27 L107.47 43.63 L108.3 44 L109.14 44.37 L110 44.75 L110.86 45.13 L111.72 45.52 L112 46.41 L115 46.41 L115 48.47 L118.11 48.47 L118.11 51.4 L121.32 51.4 L121.32 54.23 L124.66 54.23 L124.66 57.13 L128.11 57.13 L128.11 60.13 L131.68 60.13 L131.68 63.13 L135.38 63.13 L135.38 66.09 L139.22 66.09 L139.22 69.61 L143.19 69.61 L143.19 74.07 L147.3 74.07 L147.3 79.19 L151.56 79.19 L151.56 84.86 L155.97 84.86 L155.97 91.38 L160.53 91.38 L160.53 97.48 L162.5 97.48" fill="none" stroke="#ee1c1c" stroke-width="3.0" stroke-linejoin="miter" clip-path="url(#ca1)"/>
<path d="M162.3 96 V103" stroke="#ee1c1c" stroke-width="2"/>
<path d="M181.3 88.7 L188.8 88.7 L188.8 90.6 L194.7 90.6 L194.7 92.6 L199 92.6 L199 94.7 L203.3 94.7 L203.3 96.4 L208.3 96.4 L208.3 101.3 L218.3 101.3 L218.3 108 L230.5 108 L230.5 118.8 L243.3 118.8 L243.3 133.1 L267.4 133.1" fill="none" stroke="#6ce82e" stroke-width="1.8" stroke-linejoin="round" />
<path d="M181.3 92.8 H188.9 M185.1 88.7 V97.4" stroke="#6ce82e" stroke-width="1.8" fill="none"/>
<path d="M188.1 92.4 H194.5 M191.3 89.2 V97" stroke="#6ce82e" stroke-width="1.8" fill="none"/>
<path d="M194.4 93.8 H199.6 M197 90.5 V97.5" stroke="#6ce82e" stroke-width="1.8" fill="none"/>
<path d="M200.4 96 H205.6 M203 92.5 V99.5" stroke="#6ce82e" stroke-width="1.8" fill="none"/>
<path d="M210.1 104.2 H216.5 M213.3 101.3 V107.2" stroke="#6ce82e" stroke-width="1.8" fill="none"/>
<path d="M221.2 107.5 H228.8 M225 104.7 V110.5" stroke="#6ce82e" stroke-width="1.8" fill="none"/>
<path d="M231.3 111.3 H242.9 M237.1 108.6 V114.8" stroke="#6ce82e" stroke-width="1.8" fill="none"/>
<path d="M244.7 124.8 H267.4 M256.6 121 V130.2" stroke="#6ce82e" stroke-width="1.8" fill="none"/>
<path d="M243 127.5 L243.55 127.58 L244.28 127.69 L245.16 127.82 L246.12 127.96 L247.14 128.12 L248.16 128.28 L249.12 128.44 L250 128.6 L250.84 128.77 L251.71 128.96 L252.59 129.16 L253.44 129.37 L254.23 129.56 L254.95 129.74 L255.54 129.89 L256 130" fill="none" stroke="#6ce82e" stroke-width="1.5" stroke-linecap="round" stroke-dasharray="0 3.0" />
<path d="M37.25 168.42 V180.12 M38.16 158.58 V170.28 M39.07 154.79 V166.49 M39.98 164.05 V175.75 M40.89 169.06 V180.76 M41.8 161.3 V173 M42.71 157.96 V169.66 M43.62 154.15 V165.85 M44.53 168.37 V180.07 M45.44 168.84 V180.54 M46.35 156.56 V168.26 M47.25 157.99 V169.69 M48.16 151.48 V163.18 M49.07 154.87 V166.57 M49.98 161.53 V173.23 M50.89 162.58 V174.28 M51.8 145.11 V156.81 M52.71 162.67 V174.37 M53.62 165.72 V177.42 M54.53 167.89 V179.59 M55.44 160.31 V172.01 M56.35 160.01 V171.71 M57.25 163.02 V174.72 M58.16 161.28 V172.98 M59.07 159.22 V170.92 M59.98 156.65 V168.35 M60.89 154.16 V165.86 M61.8 159.61 V171.31 M62.71 171.89 V183.59 M63.62 156.59 V168.29 M64.53 169.62 V181.32 M65.44 161.95 V173.65 M66.35 169.95 V181.65 M67.25 160.89 V172.59 M68.16 165.68 V177.38 M69.07 159.59 V171.29 M76.05 143.35 V155.05 M76.96 161.2 V172.9 M77.87 155.73 V167.43 M78.78 169.03 V180.73 M79.69 162.67 V174.37 M80.6 156.83 V168.53 M81.51 161.47 V173.17 M82.42 158.63 V170.33 M83.33 160.27 V171.97 M84.24 167.08 V178.78 M85.15 157.44 V169.14 M86.05 165.89 V177.59 M86.96 149.4 V161.1 M87.87 164 V175.7 M88.78 156.69 V168.39 M89.69 160.89 V172.59 M90.6 155.05 V166.75 M91.51 164.6 V176.3 M92.42 154.76 V166.46 M93.33 161.66 V173.36 M94.24 153.14 V164.84 M95.15 157.07 V168.77 M96.05 160.03 V171.73 M96.96 165.69 V177.39 M97.87 156.18 V167.88 M98.78 158.02 V169.72 M99.69 150.81 V162.51 M100.6 163.22 V174.92 M101.51 157.49 V169.19 M102.42 157.78 V169.48 M103.33 159.16 V170.86 M104.24 159.62 V171.32 M105.15 159.78 V171.48 M106.05 164.58 V176.28 M106.96 167.13 V178.83 M107.87 163.34 V175.04 M108.78 157.27 V168.97 M109.69 151.62 V163.32 M110.6 154.9 V166.6 M111.51 154.43 V166.13 M112.42 156.13 V167.83 M113.33 156.61 V168.31 M114.24 159.77 V171.47 M115.15 156.16 V167.86 M116.05 150.01 V161.71 M116.96 162.91 V174.61 M117.87 165.16 V176.86 M118.78 148.86 V160.56 M119.69 159.4 V171.1" stroke="#000" stroke-width="2.0" fill="none"/>
<path d="M121.31 167.66 V179.36 M120.2 173.51 H122.43 M123.98 159.81 V171.51 M122.83 165.66 H125.14 M126.73 162.2 V173.9 M125.54 168.05 H127.93 M129.57 163.15 V174.85 M128.33 169 H130.8 M132.48 156.38 V168.08 M131.2 162.23 H133.76 M135.49 160.59 V172.29 M134.16 166.44 H136.81 M138.58 162.18 V173.88 M137.21 168.03 H139.95 M141.77 152.46 V164.16 M140.35 158.31 H143.19 M145.05 163.21 V174.91 M143.59 169.06 H146.52 M148.43 166.81 V178.51 M146.92 172.66 H149.95 M151.92 167.33 V179.03 M150.35 173.18 H153.48 M155.5 163.36 V175.06 M153.88 169.21 H157.13 M159.2 157.82 V169.52 M157.53 163.67 H160.87 M163.01 156.91 V168.61 M161.27 162.76 H164.74" stroke="#000" stroke-width="2.0" fill="none"/>
<path d="M37.18 161.43 V173.13 M37.95 151.58 V163.28 M38.72 165.71 V177.41 M39.49 171.84 V183.54 M40.26 159.15 V170.85 M41.03 156.81 V168.51 M41.8 158.26 V169.96 M42.57 157.4 V169.1 M43.34 161.23 V172.93 M44.11 164.13 V175.83 M44.88 165.08 V176.78 M45.65 161.73 V173.43 M46.42 162.71 V174.41 M47.18 154.63 V166.33 M47.95 156.5 V168.2 M48.72 168.07 V179.77 M49.49 155.99 V167.69 M50.26 160.45 V172.15 M51.03 153.38 V165.08 M51.8 150.99 V162.69 M52.57 156.82 V168.52 M53.34 171.25 V182.95 M54.11 156.21 V167.91 M54.88 169.9 V181.6 M55.65 150.53 V162.23 M56.42 164.32 V176.02 M57.18 161.4 V173.1 M57.95 148.95 V160.65 M58.72 171.17 V182.87 M59.49 160.05 V171.75 M60.26 166.89 V178.59 M61.03 163.45 V175.15 M61.8 165.18 V176.88 M62.57 155.99 V167.69 M63.34 162.1 V173.8 M64.11 158.07 V169.77 M64.88 156.24 V167.94 M65.65 170.86 V182.56 M66.42 151.53 V163.23 M67.18 161.75 V173.45 M67.95 170.52 V182.22 M68.72 164.31 V176.01 M69.49 154.79 V166.49 M75.98 153.98 V165.68 M76.75 164.49 V176.19 M77.52 159.57 V171.27 M78.29 158.71 V170.41 M79.06 153.76 V165.46 M79.83 161.04 V172.74 M80.6 154.09 V165.79 M81.37 165.76 V177.46 M82.14 164.69 V176.39 M82.91 156.04 V167.74 M83.68 155.67 V167.37 M84.45 160.49 V172.19 M85.22 156.42 V168.12 M85.98 158.89 V170.59 M86.75 155.39 V167.09 M87.52 152.91 V164.61 M88.29 156.94 V168.64 M89.06 155.05 V166.75 M89.83 162.65 V174.35 M90.6 163.67 V175.37 M91.37 174.91 V186.61 M92.14 157.63 V169.33 M92.91 159.99 V171.69 M93.68 156.85 V168.55 M94.45 171.9 V183.6 M95.22 163.23 V174.93 M95.98 163.68 V175.38 M96.75 171.48 V183.18 M97.52 154.5 V166.2 M98.29 152.54 V164.24 M99.06 168.16 V179.86 M99.83 157.4 V169.1 M100.6 149.38 V161.08 M101.37 167.79 V179.49 M102.14 153.99 V165.69 M102.91 150.23 V161.93 M103.68 148.49 V160.19 M104.45 168.73 V180.43 M105.22 166.86 V178.56 M105.98 158.87 V170.57 M106.75 152.63 V164.33 M107.52 168.08 V179.78 M108.29 164.9 V176.6 M109.06 167.18 V178.88 M109.83 153.24 V164.94 M110.6 163.69 V175.39 M111.37 156.58 V168.28 M112.14 156.13 V167.83 M112.91 152.89 V164.59 M113.68 157.56 V169.26 M114.45 158.05 V169.75 M115.22 152.9 V164.6 M115.98 157.19 V168.89 M116.75 168.12 V179.82 M117.52 163.56 V175.26 M118.29 154.49 V166.19 M119.06 159.3 V171 M119.83 162.4 V174.1" stroke="#ee1c1c" stroke-width="2.0" fill="none"/>
<path d="M121.31 155.19 V166.89 M120.2 161.04 H122.43 M123.98 156.37 V168.07 M122.83 162.22 H125.14 M126.73 167.32 V179.02 M125.54 173.17 H127.93 M129.57 169.97 V181.67 M128.33 175.82 H130.8 M132.48 161.38 V173.08 M131.2 167.23 H133.76 M135.49 157.33 V169.03 M134.16 163.18 H136.81 M138.58 161.59 V173.29 M137.21 167.44 H139.95 M141.77 167.73 V179.43 M140.35 173.58 H143.19 M145.05 163.22 V174.92 M143.59 169.07 H146.52 M148.43 154.18 V165.88 M146.92 160.03 H149.95 M151.92 167.36 V179.06 M150.35 173.21 H153.48 M155.5 155.99 V167.69 M153.88 161.84 H157.13 M159.2 158.45 V170.15 M157.53 164.3 H160.87 M163.01 158.65 V170.35 M161.27 164.5 H164.74" stroke="#ee1c1c" stroke-width="2.0" fill="none"/>
<path d="M182.3 176.2 H187.5 M184.9 170.2 V182.2" stroke="#6ce82e" stroke-width="1.7" fill="none"/>
<path d="M188.2 173.6 H194.6 M191.4 168.6 V179.5" stroke="#6ce82e" stroke-width="1.7" fill="none"/>
<path d="M194.2 166.4 H199.4 M196.8 160 V172.1" stroke="#6ce82e" stroke-width="1.7" fill="none"/>
<path d="M201.2 166.4 H207.6 M204.4 160.6 V173" stroke="#6ce82e" stroke-width="1.7" fill="none"/>
<path d="M207.7 172.3 H218.5 M213.1 167.5 V178.3" stroke="#6ce82e" stroke-width="1.7" fill="none"/>
<path d="M218.1 162.7 H231.1 M224.6 156.7 V168.6" stroke="#6ce82e" stroke-width="1.7" fill="none"/>
<path d="M230.4 154.5 H243.4 M236.9 149 V161" stroke="#6ce82e" stroke-width="1.7" fill="none"/>
<path d="M243.4 158.2 H267.3 M256.4 152.3 V164.2" stroke="#6ce82e" stroke-width="1.7" fill="none"/>
<clipPath id="cb1"><rect x="38.3" y="236.3" width="247.8" height="130.3"/></clipPath>
<path d="M38 351.5 L38.37 350.85 L38.83 349.98 L39.38 348.96 L40 347.81 L40.69 346.6 L41.42 345.36 L42.2 344.14 L43 343 L43.85 341.88 L44.77 340.73 L45.74 339.55 L46.75 338.38 L47.79 337.21 L48.86 336.09 L49.93 335.01 L51 334 L52.07 333.05 L53.16 332.14 L54.27 331.27 L55.39 330.44 L56.53 329.64 L57.68 328.89 L58.83 328.18 L60 327.5 L61.2 326.84 L62.44 326.18 L63.7 325.55 L64.97 324.97 L66.23 324.45 L67.45 324.02 L68.61 323.7 L69.7 323.5 L70.72 323.48 L71.68 323.65 L72.6 323.94 L73.47 324.31 L74.32 324.71 L75.13 325.07 L75.92 325.35 L76.7 325.5 L77.44 325.52 L78.12 325.46 L78.77 325.34 L79.39 325.19 L80.01 325.01 L80.64 324.82 L81.3 324.65 L82 324.5 L82.72 324.38 L83.45 324.27 L84.18 324.17 L84.94 324.06 L85.72 323.95 L86.53 323.82 L87.39 323.67 L88.3 323.5 L89.26 323.29 L90.28 323.06 L91.33 322.8 L92.42 322.53 L93.54 322.26 L94.68 321.99 L95.83 321.73 L97 321.5 L98.2 321.29 L99.46 321.11 L100.74 320.94 L102.04 320.77 L103.34 320.6 L104.61 320.42 L105.84 320.22 L107 320 L108.07 319.74 L109.06 319.44 L109.99 319.12 L110.9 318.79 L111.82 318.47 L112.79 318.17 L113.84 317.91 L115 317.7 L116.28 317.54 L117.65 317.42 L119.09 317.32 L120.58 317.26 L122.09 317.21 L123.62 317.19 L125.13 317.19 L126.6 317.2 L128.07 317.22 L129.58 317.25 L131.1 317.29 L132.61 317.36 L134.09 317.46 L135.53 317.59 L136.91 317.77 L138.2 318 L139.41 318.28 L140.55 318.61 L141.63 318.98 L142.66 319.39 L143.66 319.83 L144.62 320.3 L145.57 320.79 L146.5 321.3 L147.42 321.83 L148.31 322.39 L149.17 322.98 L150.01 323.59 L150.82 324.23 L151.6 324.89 L152.36 325.58 L153.1 326.3 L153.81 327.03 L154.48 327.78 L155.13 328.55 L155.76 329.34 L156.36 330.18 L156.95 331.06 L157.53 332 L158.1 333 L158.67 334.1 L159.24 335.3 L159.8 336.58 L160.35 337.89 L160.87 339.22 L161.36 340.51 L161.8 341.75 L162.2 342.9 L162.55 344.01 L162.85 345.14 L163.12 346.25 L163.36 347.32 L163.56 348.31 L163.73 349.19 L163.88 349.93 L164 350.5" fill="none" stroke="#000" stroke-width="2.0" stroke-linecap="round" stroke-dasharray="0 3.8" clip-path="url(#cb1)"/>
<path d="M38 356 L38.37 355.47 L38.83 354.77 L39.38 353.93 L40 353 L40.69 352.01 L41.42 350.98 L42.2 349.97 L43 349 L43.85 348.04 L44.77 347.04 L45.74 346.01 L46.75 344.97 L47.79 343.93 L48.86 342.92 L49.93 341.94 L51 341 L52.07 340.1 L53.16 339.21 L54.27 338.34 L55.39 337.5 L56.53 336.69 L57.68 335.91 L58.83 335.18 L60 334.5 L61.2 333.86 L62.46 333.27 L63.74 332.71 L65.02 332.19 L66.28 331.71 L67.5 331.27 L68.65 330.86 L69.7 330.5 L70.67 330.18 L71.57 329.9 L72.41 329.67 L73.21 329.47 L73.96 329.31 L74.67 329.18 L75.35 329.07 L76 329 L76.6 328.96 L77.11 328.94 L77.58 328.97 L78.02 329.02 L78.45 329.1 L78.91 329.21 L79.42 329.34 L80 329.5 L80.63 329.72 L81.27 330.02 L81.93 330.37 L82.62 330.74 L83.37 331.09 L84.17 331.38 L85.04 331.6 L86 331.7 L87.05 331.67 L88.2 331.55 L89.41 331.35 L90.69 331.1 L92 330.82 L93.34 330.52 L94.67 330.24 L96 330 L97.35 329.78 L98.75 329.56 L100.18 329.34 L101.62 329.11 L103.05 328.89 L104.44 328.66 L105.76 328.43 L107 328.2 L108.12 327.95 L109.13 327.69 L110.06 327.41 L110.96 327.14 L111.87 326.88 L112.82 326.64 L113.85 326.45 L115 326.3 L116.28 326.2 L117.65 326.13 L119.09 326.09 L120.58 326.08 L122.09 326.09 L123.62 326.14 L125.13 326.21 L126.6 326.3 L128.06 326.41 L129.54 326.53 L131.02 326.67 L132.51 326.84 L133.97 327.05 L135.42 327.3 L136.83 327.62 L138.2 328 L139.54 328.46 L140.87 328.98 L142.18 329.56 L143.46 330.19 L144.7 330.86 L145.89 331.56 L147.03 332.28 L148.1 333 L149.1 333.74 L150.04 334.5 L150.93 335.28 L151.76 336.09 L152.56 336.93 L153.33 337.79 L154.07 338.68 L154.8 339.6 L155.51 340.55 L156.19 341.52 L156.84 342.52 L157.46 343.54 L158.06 344.6 L158.63 345.67 L159.18 346.77 L159.7 347.9 L160.2 349.1 L160.69 350.4 L161.15 351.75 L161.58 353.11 L161.99 354.43 L162.36 355.69 L162.7 356.82 L163 357.8 L163.26 358.63 L163.48 359.35 L163.66 359.98 L163.81 360.52 L163.93 360.98 L164.03 361.38 L164.12 361.71 L164.2 362" fill="none" stroke="#ee1c1c" stroke-width="2.0" stroke-linecap="round" stroke-dasharray="0 3.8" clip-path="url(#cb1)"/>
<path d="M38 298.6 L38.2 298.18 L38.44 297.64 L38.73 297 L39.06 296.27 L39.43 295.48 L39.84 294.63 L40.28 293.75 L40.75 292.85 L41.27 291.88 L41.84 290.81 L42.46 289.68 L43.11 288.51 L43.78 287.33 L44.45 286.18 L45.11 285.09 L45.75 284.1 L46.38 283.2 L47 282.36 L47.62 281.57 L48.25 280.82 L48.88 280.08 L49.5 279.35 L50.12 278.61 L50.75 277.85 L51.38 277.05 L52 276.23 L52.62 275.4 L53.25 274.57 L53.88 273.76 L54.5 272.99 L55.12 272.26 L55.75 271.6 L56.38 271 L57 270.46 L57.62 269.96 L58.25 269.49 L58.88 269.05 L59.5 268.64 L60.12 268.24 L60.75 267.85 L61.38 267.46 L62 267.08 L62.62 266.71 L63.25 266.37 L63.88 266.05 L64.5 265.77 L65.12 265.53 L65.75 265.35 L66.36 265.21 L66.94 265.12 L67.52 265.07 L68.09 265.05 L68.69 265.07 L69.32 265.13 L70.01 265.22 L70.75 265.35 L71.56 265.52 L72.42 265.74 L73.32 266 L74.27 266.3 L75.24 266.62 L76.23 266.95 L77.24 267.3 L78.25 267.64 L79.26 268.01 L80.26 268.42 L81.27 268.86 L82.31 269.31 L83.39 269.74 L84.52 270.15 L85.72 270.52 L87 270.83 L88.43 271.08 L90.03 271.29 L91.72 271.46 L93.45 271.6 L95.16 271.72 L96.78 271.83 L98.25 271.93 L99.5 272.03 L100.49 272.1 L101.26 272.13 L101.88 272.13 L102.41 272.12 L102.92 272.13 L103.47 272.19 L104.15 272.3 L105 272.5 L106.02 272.77 L107.15 273.08 L108.35 273.43 L109.62 273.83 L110.94 274.28 L112.28 274.79 L113.64 275.36 L115 276 L116.37 276.69 L117.79 277.44 L119.23 278.24 L120.7 279.09 L122.18 280.02 L123.66 281 L125.14 282.06 L126.6 283.2 L128.06 284.45 L129.54 285.83 L131.02 287.3 L132.51 288.82 L133.97 290.37 L135.42 291.91 L136.83 293.4 L138.2 294.8 L139.53 296.12 L140.83 297.38 L142.11 298.6 L143.36 299.8 L144.58 301 L145.78 302.23 L146.95 303.48 L148.1 304.8 L149.25 306.17 L150.4 307.59 L151.54 309.03 L152.64 310.5 L153.7 311.98 L154.69 313.46 L155.6 314.94 L156.4 316.4 L157.08 317.77 L157.66 319.03 L158.16 320.25 L158.58 321.49 L158.96 322.82 L159.31 324.3 L159.65 326 L160 328 L160.36 330.49 L160.7 333.49 L161.02 336.8 L161.32 340.23 L161.6 343.56 L161.84 346.6 L162.04 349.15 L162.2 351" fill="none" stroke="#000" stroke-width="2.0" stroke-linecap="round" stroke-dasharray="0 3.8" clip-path="url(#cb1)"/>
<path d="M44 268 L44.39 267.52 L44.92 266.86 L45.54 266.08 L46.23 265.22 L46.96 264.33 L47.69 263.46 L48.38 262.67 L49 262 L49.54 261.43 L50.01 260.9 L50.45 260.42 L50.89 259.97 L51.36 259.56 L51.89 259.18 L52.51 258.82 L53.25 258.5 L54.14 258.2 L55.15 257.94 L56.26 257.7 L57.42 257.5 L58.61 257.33 L59.79 257.19 L60.94 257.08 L62 257 L63.01 256.94 L64.02 256.91 L65.01 256.9 L65.98 256.92 L66.93 256.99 L67.83 257.1 L68.69 257.27 L69.5 257.5 L70.24 257.81 L70.93 258.21 L71.56 258.67 L72.16 259.17 L72.73 259.7 L73.31 260.24 L73.89 260.76 L74.5 261.25 L75.12 261.73 L75.75 262.22 L76.38 262.71 L77 263.2 L77.62 263.69 L78.25 264.15 L78.88 264.59 L79.5 265 L80.12 265.38 L80.75 265.75 L81.38 266.09 L82 266.42 L82.62 266.73 L83.25 267.01 L83.88 267.27 L84.5 267.5 L85.09 267.7 L85.63 267.86 L86.16 267.98 L86.69 268.09 L87.26 268.19 L87.9 268.29 L88.64 268.39 L89.5 268.5 L90.54 268.62 L91.75 268.74 L93.08 268.86 L94.47 268.98 L95.86 269.1 L97.2 269.23 L98.43 269.36 L99.5 269.5 L100.37 269.63 L101.09 269.74 L101.69 269.84 L102.25 269.96 L102.81 270.09 L103.41 270.27 L104.13 270.5 L105 270.8 L106.02 271.15 L107.15 271.53 L108.35 271.95 L109.62 272.41 L110.94 272.93 L112.28 273.51 L113.64 274.17 L115 274.9 L116.45 275.79 L118.06 276.87 L119.74 278.07 L121.42 279.31 L123.03 280.51 L124.48 281.61 L125.69 282.53 L126.6 283.2" fill="none" stroke="#000" stroke-width="2.0" stroke-linecap="round" stroke-dasharray="0 3.8" clip-path="url(#cb1)"/>
<path d="M38 300 L38.07 299.65 L38.13 299.22 L38.19 298.71 L38.28 298.12 L38.43 297.46 L38.67 296.72 L39.02 295.9 L39.5 295 L40.14 293.97 L40.92 292.79 L41.82 291.51 L42.8 290.16 L43.83 288.79 L44.9 287.44 L45.96 286.16 L47 285 L48.03 283.93 L49.1 282.89 L50.19 281.89 L51.3 280.94 L52.41 280.02 L53.53 279.14 L54.65 278.3 L55.75 277.5 L56.84 276.73 L57.94 276 L59.03 275.31 L60.12 274.65 L61.22 274.04 L62.31 273.47 L63.41 272.96 L64.5 272.5 L65.6 272.11 L66.72 271.79 L67.84 271.53 L68.95 271.31 L70.06 271.12 L71.15 270.95 L72.22 270.78 L73.25 270.6 L74.26 270.37 L75.24 270.11 L76.21 269.83 L77.16 269.57 L78.08 269.37 L78.99 269.25 L79.88 269.25 L80.75 269.4 L81.58 269.74 L82.37 270.26 L83.13 270.9 L83.88 271.63 L84.62 272.39 L85.38 273.14 L86.17 273.82 L87 274.4 L87.86 274.88 L88.73 275.3 L89.61 275.68 L90.52 276.04 L91.45 276.39 L92.42 276.74 L93.43 277.11 L94.5 277.5 L95.63 277.9 L96.81 278.3 L98.04 278.7 L99.31 279.1 L100.6 279.52 L101.91 279.97 L103.21 280.46 L104.5 281 L105.79 281.58 L107.1 282.21 L108.43 282.87 L109.76 283.56 L111.08 284.28 L112.41 285.01 L113.71 285.75 L115 286.5 L116.27 287.25 L117.51 288 L118.75 288.75 L119.98 289.53 L121.21 290.34 L122.43 291.18 L123.66 292.06 L124.9 293 L126.15 293.99 L127.4 295.03 L128.65 296.1 L129.9 297.22 L131.15 298.37 L132.4 299.55 L133.65 300.76 L134.9 302 L136.15 303.27 L137.42 304.56 L138.69 305.89 L139.96 307.25 L141.21 308.64 L142.44 310.06 L143.64 311.52 L144.8 313 L145.93 314.51 L147.03 316.04 L148.1 317.6 L149.16 319.19 L150.18 320.82 L151.18 322.49 L152.15 324.22 L153.1 326 L154.03 327.82 L154.97 329.67 L155.88 331.56 L156.76 333.5 L157.6 335.5 L158.38 337.58 L159.08 339.74 L159.7 342 L160.23 344.53 L160.67 347.39 L161.05 350.43 L161.36 353.5 L161.63 356.44 L161.85 359.11 L162.04 361.35 L162.2 363" fill="none" stroke="#ee1c1c" stroke-width="2.0" stroke-linecap="round" stroke-dasharray="0 3.8" clip-path="url(#cb1)"/>
<path d="M42 272 L42.58 271.32 L43.35 270.37 L44.26 269.23 L45.28 267.99 L46.36 266.74 L47.45 265.56 L48.51 264.53 L49.5 263.75 L50.44 263.19 L51.38 262.76 L52.31 262.45 L53.25 262.23 L54.19 262.08 L55.12 261.99 L56.06 261.94 L57 261.9 L57.93 261.9 L58.85 261.98 L59.76 262.11 L60.67 262.28 L61.6 262.49 L62.54 262.72 L63.5 262.96 L64.5 263.2 L65.54 263.45 L66.63 263.73 L67.74 264.04 L68.88 264.36 L70.01 264.69 L71.12 265.01 L72.21 265.32 L73.25 265.6 L74.26 265.82 L75.24 265.98 L76.21 266.1 L77.16 266.23 L78.08 266.4 L78.99 266.64 L79.88 267 L80.75 267.5 L81.58 268.21 L82.37 269.11 L83.13 270.15 L83.88 271.25 L84.62 272.35 L85.38 273.39 L86.17 274.29 L87 275 L87.86 275.5 L88.73 275.86 L89.61 276.11 L90.52 276.29 L91.45 276.42 L92.42 276.54 L93.43 276.69 L94.5 276.9 L95.63 277.14 L96.81 277.38 L98.04 277.62 L99.31 277.86 L100.6 278.11 L101.91 278.38 L103.21 278.67 L104.5 279 L105.79 279.34 L107.1 279.66 L108.43 280 L109.76 280.37 L111.08 280.77 L112.41 281.24 L113.71 281.77 L115 282.4 L116.27 283.12 L117.51 283.91 L118.75 284.77 L119.98 285.69 L121.21 286.66 L122.43 287.67 L123.66 288.72 L124.9 289.8 L126.15 290.91 L127.4 292.08 L128.65 293.29 L129.9 294.54 L131.15 295.82 L132.4 297.13 L133.65 298.46 L134.9 299.8 L136.15 301.16 L137.42 302.55 L138.69 303.96 L139.96 305.39 L141.21 306.86 L142.44 308.34 L143.64 309.86 L144.8 311.4 L145.93 312.96 L147.03 314.53 L148.1 316.12 L149.16 317.74 L150.18 319.4 L151.18 321.11 L152.15 322.87 L153.1 324.7 L154.03 326.65 L154.96 328.73 L155.87 330.9 L156.74 333.11 L157.58 335.29 L158.36 337.4 L159.07 339.39 L159.7 341.2 L160.25 342.9 L160.73 344.55 L161.15 346.14 L161.51 347.63 L161.82 348.99 L162.09 350.19 L162.31 351.21 L162.5 352" fill="none" stroke="#ee1c1c" stroke-width="2.0" stroke-linecap="round" stroke-dasharray="0 3.8" clip-path="url(#cb1)"/>
<path d="M38.3 271 L38.48 270.82 L38.72 270.59 L39 270.31 L39.32 270 L39.66 269.66 L40.02 269.29 L40.39 268.9 L40.75 268.5 L41.1 268.08 L41.45 267.62 L41.81 267.14 L42.18 266.64 L42.58 266.12 L43.01 265.59 L43.48 265.05 L44 264.5 L44.57 263.94 L45.17 263.35 L45.81 262.75 L46.48 262.13 L47.19 261.52 L47.93 260.91 L48.7 260.32 L49.5 259.75 L50.35 259.19 L51.26 258.62 L52.22 258.06 L53.2 257.5 L54.19 256.97 L55.17 256.47 L56.11 256.01 L57 255.6 L57.83 255.23 L58.62 254.9 L59.38 254.6 L60.12 254.34 L60.87 254.11 L61.63 253.91 L62.42 253.74 L63.25 253.6 L64.18 253.5 L65.21 253.46 L66.3 253.45 L67.39 253.47 L68.43 253.51 L69.37 253.55 L70.16 253.59 L70.75 253.6" fill="none" stroke="#000" stroke-width="2.6" stroke-linejoin="round" stroke-linecap="butt" clip-path="url(#cb1)"/>
<path d="M77 258.25 L77.4 258.16 L77.95 258.02 L78.6 257.85 L79.31 257.67 L80.05 257.5 L80.77 257.36 L81.44 257.26 L82 257.22 L82.48 257.24 L82.91 257.29 L83.32 257.38 L83.69 257.5 L84.04 257.64 L84.37 257.82 L84.69 258.02 L85 258.25 L85.27 258.53 L85.47 258.88 L85.64 259.28 L85.8 259.7 L85.98 260.11 L86.22 260.5 L86.55 260.83 L87 261.1 L87.56 261.28 L88.21 261.4 L88.92 261.48 L89.7 261.52 L90.54 261.56 L91.41 261.6 L92.32 261.68 L93.25 261.79 L94.26 261.95 L95.4 262.14 L96.6 262.35 L97.83 262.57 L99.03 262.79 L100.16 263.02 L101.16 263.23 L102 263.43 L102.6 263.58 L102.99 263.7 L103.24 263.79 L103.42 263.89 L103.61 264.02 L103.89 264.19 L104.33 264.42 L105 264.75 L105.92 265.16 L107.01 265.64 L108.24 266.18 L109.57 266.76 L110.95 267.4 L112 268.66 L115 268.66 L115 270.47 L118.11 270.47 L118.11 272.66 L121.32 272.66 L121.32 275.12 L124.65 275.12 L124.65 277.74 L128.09 277.74 L128.09 280.55 L131.65 280.55 L131.65 283.64 L135.34 283.64 L135.34 287.14 L139.16 287.14 L139.16 291.07 L143.12 291.07 L143.12 295.16 L147.21 295.16 L147.21 299.12 L151.44 299.12 L151.44 303.47 L155.83 303.47 L155.83 309.21 L160.37 309.21 L160.37 314.79 L163.3 314.79" fill="none" stroke="#000" stroke-width="2.6" stroke-linejoin="miter" clip-path="url(#cb1)"/>
<path d="M37.8 276.3 L38.1 275.88 L38.48 275.33 L38.92 274.67 L39.43 273.93 L40 273.15 L40.62 272.35 L41.29 271.55 L42 270.8 L42.78 270.05 L43.64 269.26 L44.57 268.45 L45.54 267.64 L46.54 266.84 L47.55 266.07 L48.54 265.35 L49.5 264.7 L50.45 264.11 L51.4 263.55 L52.37 263.03 L53.33 262.54 L54.28 262.1 L55.21 261.69 L56.12 261.33 L57 261 L57.83 260.71 L58.62 260.46 L59.38 260.25 L60.12 260.08 L60.87 259.95 L61.63 259.86 L62.42 259.81 L63.25 259.8 L64.18 259.86 L65.21 260 L66.3 260.2 L67.39 260.43 L68.43 260.66 L69.37 260.89 L70.16 261.07 L70.75 261.2" fill="none" stroke="#ee1c1c" stroke-width="3.2" stroke-linejoin="round" stroke-linecap="butt" clip-path="url(#cb1)"/>
<path d="M75.75 262.04 L76.24 262.1 L76.9 262.17 L77.69 262.24 L78.56 262.34 L79.47 262.47 L80.38 262.64 L81.24 262.87 L82 263.16 L82.68 263.55 L83.31 264.04 L83.91 264.6 L84.5 265.2 L85.09 265.8 L85.69 266.36 L86.32 266.86 L87 267.26 L87.7 267.55 L88.42 267.75 L89.14 267.9 L89.89 268.01 L90.67 268.1 L91.48 268.21 L92.34 268.34 L93.25 268.54 L94.26 268.78 L95.4 269.06 L96.6 269.36 L97.83 269.67 L99.03 269.98 L100.16 270.3 L101.16 270.59 L102 270.86 L102.6 271.08 L102.99 271.26 L103.24 271.42 L103.42 271.58 L103.61 271.75 L103.89 271.96 L104.33 272.24 L105 272.6 L105.92 273.04 L107.01 273.52 L108.24 274.06 L109.57 274.64 L110.95 275.27 L112 276.54 L115 276.54 L115 278.4 L118.11 278.4 L118.11 280.65 L121.32 280.65 L121.32 283.26 L124.65 283.26 L124.65 286.23 L128.09 286.23 L128.09 289.67 L131.65 289.67 L131.65 293.38 L135.34 293.38 L135.34 297.13 L139.16 297.13 L139.16 300.99 L143.12 300.99 L143.12 305.19 L147.21 305.19 L147.21 309.75 L151.44 309.75 L151.44 314.87 L155.83 314.87 L155.83 321.35 L160.37 321.35 L160.37 327.55 L163.3 327.55" fill="none" stroke="#ee1c1c" stroke-width="3.0" stroke-linejoin="miter" clip-path="url(#cb1)"/>
<path d="M163.6 313 V321" stroke="#000" stroke-width="2"/>
<path d="M163.6 326 V334" stroke="#ee1c1c" stroke-width="2"/>
<path d="M182 322 L190 322 L190 323 L195 323 L195 324 L200 324 L200 325 L205 325 L205 326.5 L209 326.5 L209 331.3 L220 331.3 L220 336.8 L231.3 336.8 L231.3 342.5 L244.4 342.5 L244.4 355 L268.8 355" fill="none" stroke="#6ce82e" stroke-width="1.8" stroke-linejoin="round" />
<path d="M186 332 L197 340.5 L208 349.5 L217 357.5 L225 366" fill="none" stroke="#6ce82e" stroke-width="1.7" stroke-linecap="round" stroke-dasharray="0 3.2" />
<path d="M247.5 348.8 L254.2 352.3 L257.5 352.5" fill="none" stroke="#6ce82e" stroke-width="1.7" stroke-linecap="round" stroke-dasharray="0 3.2" />
<path d="M182.6 322.3 H189.4 M186 319 V328" stroke="#6ce82e" stroke-width="1.8" fill="none"/>
<path d="M190 323.2 H196 M193 320 V328" stroke="#6ce82e" stroke-width="1.8" fill="none"/>
<path d="M195.4 323.5 H200.6 M198 320 V327" stroke="#6ce82e" stroke-width="1.8" fill="none"/>
<path d="M202 325.8 H208 M205 322 V330" stroke="#6ce82e" stroke-width="1.8" fill="none"/>
<path d="M210.6 331.8 H217.4 M214 328.5 V337" stroke="#6ce82e" stroke-width="1.8" fill="none"/>
<path d="M221.5 336.8 H229.5 M225.5 333 V341" stroke="#6ce82e" stroke-width="1.8" fill="none"/>
<path d="M232.8 342.3 H243.8 M238.3 339 V345.7" stroke="#6ce82e" stroke-width="1.8" fill="none"/>
<path d="M244.6 355 H268.8 M257.5 352 V360.8" stroke="#6ce82e" stroke-width="1.8" fill="none"/>
<path d="M38.75 386.5 V398.38 M39.66 383.15 V395.03 M40.57 396.07 V407.95 M41.48 396.7 V408.58 M42.39 389.02 V400.9 M43.3 380.55 V392.43 M44.21 388.7 V400.58 M45.12 398.35 V410.23 M46.03 395.93 V407.81 M46.94 391.51 V403.39 M47.85 385.35 V397.23 M48.75 391.24 V403.12 M49.66 393.39 V405.27 M50.57 392.57 V404.45 M51.48 390.13 V402.01 M52.39 395.72 V407.6 M53.3 391.16 V403.04 M54.21 389.54 V401.42 M55.12 381.14 V393.02 M56.03 391.52 V403.4 M56.94 385.26 V397.14 M57.85 397.46 V409.34 M58.75 385.92 V397.8 M59.66 390.18 V402.06 M60.57 394.45 V406.33 M61.48 391.31 V403.19 M62.39 385.65 V397.53 M63.3 393.14 V405.02 M64.21 384.88 V396.76 M65.12 381.85 V393.73 M66.03 381.24 V393.12 M66.94 381.25 V393.13 M67.85 398.92 V410.8 M68.75 389.07 V400.95 M69.66 395.32 V407.2 M77.45 385.37 V397.25 M78.36 390.7 V402.58 M79.27 389.78 V401.66 M80.18 388.32 V400.2 M81.09 394.77 V406.65 M82 390.55 V402.43 M82.91 395.55 V407.43 M83.82 378.4 V390.28 M84.73 393.94 V405.82 M85.64 391.04 V402.92 M86.55 401.94 V413.82 M87.45 400.18 V412.06 M88.36 396.26 V408.14 M89.27 386.26 V398.14 M90.18 386.42 V398.3 M91.09 389.42 V401.3 M92 395.06 V406.94 M92.91 379.81 V391.69 M93.82 397.41 V409.29 M94.73 396.37 V408.25 M95.64 388.16 V400.04 M96.55 397.23 V409.11 M97.45 389.51 V401.39 M98.36 385.2 V397.08 M99.27 391.56 V403.44 M100.18 388.64 V400.52 M101.09 390.9 V402.78 M102 395.26 V407.14 M102.91 409.18 V421.06 M103.82 398.61 V410.49 M104.73 391.18 V403.06 M105.64 401.2 V413.08 M106.55 394.59 V406.47 M107.45 389.87 V401.75 M108.36 382.95 V394.83 M109.27 399.52 V411.4 M110.18 394.39 V406.27 M111.09 389.75 V401.63 M112 387.91 V399.79 M112.91 399.62 V411.5 M113.82 379.72 V391.6 M114.73 396.16 V408.04 M115.64 384.45 V396.33 M116.55 392.37 V404.25 M117.45 388.63 V400.51 M118.36 380.88 V392.76 M119.27 386.78 V398.66 M120.18 390.34 V402.22" stroke="#000" stroke-width="2.0" fill="none"/>
<path d="M121.31 388.84 V400.72 M120.2 394.78 H122.43 M123.98 392.04 V403.92 M122.83 397.98 H125.14 M126.73 374.29 V386.17 M125.54 380.23 H127.93 M129.57 388.81 V400.69 M128.33 394.75 H130.8 M132.48 390.39 V402.27 M131.2 396.33 H133.76 M135.49 389.15 V401.03 M134.16 395.09 H136.81 M138.58 393.9 V405.78 M137.21 399.84 H139.95 M141.77 394.92 V406.8 M140.35 400.86 H143.19 M145.05 388.71 V400.59 M143.59 394.65 H146.52 M148.43 393.57 V405.45 M146.92 399.51 H149.95 M151.92 387.33 V399.21 M150.35 393.27 H153.48 M155.5 392.41 V404.29 M153.88 398.35 H157.13 M159.2 400.23 V412.11 M157.53 406.17 H160.87 M163.01 397.9 V409.78 M161.27 403.84 H164.74" stroke="#000" stroke-width="2.0" fill="none"/>
<path d="M38.68 373.54 V385.42 M39.45 391.14 V403.02 M40.22 382.2 V394.08 M40.99 385.86 V397.74 M41.76 389.72 V401.6 M42.53 387.81 V399.69 M43.3 387.47 V399.35 M44.07 384.85 V396.73 M44.84 381.82 V393.7 M45.61 377.91 V389.79 M46.38 382.99 V394.87 M47.15 384.6 V396.48 M47.92 388.75 V400.63 M48.68 390.95 V402.83 M49.45 392.98 V404.86 M50.22 397.68 V409.56 M50.99 401.48 V413.36 M51.76 392.17 V404.05 M52.53 392.72 V404.6 M53.3 389.7 V401.58 M54.07 389.64 V401.52 M54.84 399.5 V411.38 M55.61 396.11 V407.99 M56.38 398.63 V410.51 M57.15 385.54 V397.42 M57.92 392.44 V404.32 M58.68 390.99 V402.87 M59.45 397.33 V409.21 M60.22 399.6 V411.48 M60.99 395.37 V407.25 M61.76 392.4 V404.28 M62.53 388.93 V400.81 M63.3 401.15 V413.03 M64.07 389.75 V401.63 M64.84 397.08 V408.96 M65.61 395.02 V406.9 M66.38 393.83 V405.71 M67.15 394.44 V406.32 M67.92 388.97 V400.85 M68.68 386.39 V398.27 M69.45 389.7 V401.58 M77.38 395.13 V407.01 M78.15 389.22 V401.1 M78.92 389.49 V401.37 M79.69 386.5 V398.38 M80.46 390.15 V402.03 M81.23 401.73 V413.61 M82 396.47 V408.35 M82.77 394.27 V406.15 M83.54 386.12 V398 M84.31 392.63 V404.51 M85.08 386.2 V398.08 M85.85 390 V401.88 M86.62 399.11 V410.99 M87.38 391.52 V403.4 M88.15 388.4 V400.28 M88.92 389.3 V401.18 M89.69 400.91 V412.79 M90.46 389.18 V401.06 M91.23 395.41 V407.29 M92 404.77 V416.65 M92.77 395.3 V407.18 M93.54 403.92 V415.8 M94.31 399.63 V411.51 M95.08 382.94 V394.82 M95.85 376.66 V388.54 M96.62 385.28 V397.16 M97.38 389.13 V401.01 M98.15 380.12 V392 M98.92 389.7 V401.58 M99.69 397.83 V409.71 M100.46 406.89 V418.77 M101.23 386.21 V398.09 M102 405.67 V417.55 M102.77 409.18 V421.06 M103.54 395.82 V407.7 M104.31 391.4 V403.28 M105.08 397.11 V408.99 M105.85 385.37 V397.25 M106.62 392.33 V404.21 M107.38 390.5 V402.38 M108.15 389.04 V400.92 M108.92 395.39 V407.27 M109.69 390.48 V402.36 M110.46 377.38 V389.26 M111.23 397.56 V409.44 M112 390.74 V402.62 M112.77 388.51 V400.39 M113.54 395.1 V406.98 M114.31 392.05 V403.93 M115.08 402.35 V414.23 M115.85 394.45 V406.33 M116.62 391.49 V403.37 M117.38 384.83 V396.71 M118.15 385.87 V397.75 M118.92 395.31 V407.19 M119.69 398.61 V410.49" stroke="#ee1c1c" stroke-width="2.0" fill="none"/>
<path d="M121.31 393.49 V405.37 M120.2 399.43 H122.43 M123.98 400.2 V412.08 M122.83 406.14 H125.14 M126.73 384.39 V396.27 M125.54 390.33 H127.93 M129.57 375.9 V387.78 M128.33 381.84 H130.8 M132.48 388.92 V400.8 M131.2 394.86 H133.76 M135.49 384.71 V396.59 M134.16 390.65 H136.81 M138.58 384.65 V396.53 M137.21 390.59 H139.95 M141.77 387 V398.88 M140.35 392.94 H143.19 M145.05 387.04 V398.92 M143.59 392.98 H146.52 M148.43 385.3 V397.18 M146.92 391.24 H149.95 M151.92 392.65 V404.53 M150.35 398.59 H153.48 M155.5 399.35 V411.23 M153.88 405.29 H157.13 M159.2 400.24 V412.12 M157.53 406.18 H160.87 M163.01 387.93 V399.81 M161.27 393.87 H164.74" stroke="#ee1c1c" stroke-width="2.0" fill="none"/>
<path d="M184.5 400.8 H189.7 M187.1 395.4 V406.2" stroke="#6ce82e" stroke-width="1.7" fill="none"/>
<path d="M190.3 397.5 H195.5 M192.9 392 V403" stroke="#6ce82e" stroke-width="1.7" fill="none"/>
<path d="M195.4 391.7 H201.8 M198.6 386.2 V397.5" stroke="#6ce82e" stroke-width="1.7" fill="none"/>
<path d="M201.2 392.7 H209 M205.1 387.7 V398.6" stroke="#6ce82e" stroke-width="1.7" fill="none"/>
<path d="M209.4 403.6 H220.2 M214.8 398.6 V409.4" stroke="#6ce82e" stroke-width="1.7" fill="none"/>
<path d="M220.7 398.6 H231.5 M226.1 393.2 V405" stroke="#6ce82e" stroke-width="1.7" fill="none"/>
<path d="M231.5 393.2 H244.5 M238 387.7 V399.7" stroke="#6ce82e" stroke-width="1.7" fill="none"/>
<path d="M244.5 398.6 H268.3 M257.5 393.2 V405" stroke="#6ce82e" stroke-width="1.7" fill="none"/>
<clipPath id="cc1"><rect x="38.4" y="468" width="247.9" height="130.6"/></clipPath>
<path d="M37.5 589.7 L37.83 589.34 L38.26 588.86 L38.76 588.28 L39.33 587.64 L39.95 586.97 L40.61 586.29 L41.3 585.62 L42 585 L42.7 584.41 L43.41 583.82 L44.14 583.23 L44.91 582.64 L45.73 582.06 L46.63 581.47 L47.61 580.88 L48.7 580.3 L49.93 579.71 L51.31 579.12 L52.79 578.52 L54.33 577.92 L55.9 577.34 L57.44 576.77 L58.92 576.22 L60.3 575.7 L61.62 575.18 L62.95 574.64 L64.25 574.1 L65.52 573.58 L66.72 573.11 L67.83 572.71 L68.83 572.4 L69.7 572.2 L70.39 572.13 L70.92 572.19 L71.32 572.35 L71.64 572.57 L71.92 572.82 L72.21 573.08 L72.56 573.32 L73 573.5 L73.5 573.66 L74.01 573.83 L74.54 574.01 L75.09 574.18 L75.69 574.33 L76.33 574.44 L77.03 574.5 L77.8 574.5 L78.64 574.43 L79.53 574.32 L80.47 574.16 L81.47 573.96 L82.52 573.72 L83.62 573.47 L84.78 573.19 L86 572.9 L87.26 572.59 L88.57 572.27 L89.93 571.91 L91.34 571.54 L92.82 571.14 L94.37 570.72 L95.99 570.27 L97.7 569.8 L99.52 569.29 L101.45 568.73 L103.48 568.14 L105.56 567.52 L107.69 566.91 L109.82 566.31 L111.93 565.73 L114 565.2 L116.07 564.69 L118.18 564.17 L120.31 563.65 L122.44 563.16 L124.52 562.71 L126.55 562.3 L128.48 561.96 L130.3 561.7 L131.98 561.51 L133.55 561.37 L135.02 561.29 L136.44 561.26 L137.81 561.29 L139.18 561.37 L140.57 561.51 L142 561.7 L143.49 561.96 L145.04 562.3 L146.59 562.71 L148.14 563.16 L149.66 563.65 L151.11 564.17 L152.46 564.69 L153.7 565.2 L154.84 565.75 L155.91 566.35 L156.92 566.99 L157.85 567.64 L158.7 568.28 L159.46 568.86 L160.13 569.38 L160.7 569.8 L161.14 570.12 L161.46 570.37 L161.66 570.55 L161.79 570.69 L161.86 570.79 L161.9 570.86 L161.94 570.93 L162 571" fill="none" stroke="#000" stroke-width="2.0" stroke-linecap="round" stroke-dasharray="0 3.8" clip-path="url(#cc1)"/>
<path d="M37.5 594.3 L37.91 593.97 L38.43 593.54 L39.05 593.03 L39.75 592.46 L40.51 591.85 L41.32 591.22 L42.16 590.6 L43 590 L43.82 589.41 L44.63 588.79 L45.45 588.16 L46.32 587.52 L47.28 586.88 L48.36 586.25 L49.59 585.62 L51 585 L52.66 584.38 L54.58 583.75 L56.66 583.11 L58.86 582.48 L61.09 581.87 L63.28 581.3 L65.38 580.77 L67.3 580.3 L69.12 579.89 L70.94 579.51 L72.72 579.18 L74.44 578.89 L76.05 578.63 L77.54 578.39 L78.87 578.18 L80 578 L80.89 577.83 L81.54 577.68 L82.01 577.55 L82.36 577.46 L82.64 577.4 L82.92 577.38 L83.26 577.41 L83.7 577.5 L84.2 577.69 L84.69 578.01 L85.18 578.4 L85.69 578.82 L86.24 579.22 L86.84 579.57 L87.52 579.81 L88.3 579.9 L89.18 579.83 L90.16 579.62 L91.21 579.33 L92.31 578.96 L93.46 578.57 L94.64 578.17 L95.82 577.8 L97 577.5 L98.1 577.26 L99.1 577.06 L100.07 576.89 L101.09 576.71 L102.22 576.52 L103.53 576.3 L105.1 576.04 L107 575.7 L109.36 575.26 L112.16 574.7 L115.27 574.09 L118.54 573.44 L121.83 572.82 L124.98 572.26 L127.85 571.81 L130.3 571.5 L132.32 571.33 L134.04 571.26 L135.54 571.28 L136.88 571.37 L138.12 571.52 L139.35 571.71 L140.62 571.95 L142 572.2 L143.5 572.5 L145.05 572.86 L146.62 573.27 L148.19 573.73 L149.71 574.21 L151.15 574.7 L152.5 575.21 L153.7 575.7 L154.77 576.19 L155.73 576.7 L156.6 577.22 L157.39 577.76 L158.12 578.3 L158.78 578.86 L159.41 579.42 L160 580 L160.55 580.63 L161.05 581.32 L161.5 582.04 L161.89 582.77 L162.24 583.46 L162.54 584.09 L162.79 584.61 L163 585" fill="none" stroke="#ee1c1c" stroke-width="2.0" stroke-linecap="round" stroke-dasharray="0 3.8" clip-path="url(#cc1)"/>
<path d="M38 501 L38.44 500.54 L39 499.92 L39.67 499.18 L40.42 498.36 L41.24 497.5 L42.13 496.63 L43.05 495.78 L44 495 L45 494.25 L46.09 493.49 L47.24 492.72 L48.44 491.96 L49.66 491.22 L50.89 490.5 L52.11 489.83 L53.3 489.2 L54.49 488.61 L55.7 488.04 L56.92 487.5 L58.14 486.99 L59.35 486.52 L60.52 486.1 L61.64 485.72 L62.7 485.4 L63.72 485.14 L64.73 484.93 L65.71 484.77 L66.64 484.65 L67.52 484.57 L68.34 484.52 L69.07 484.5 L69.7 484.5 L70.23 484.54 L70.66 484.64 L71.01 484.78 L71.29 484.94 L71.51 485.11 L71.7 485.28 L71.85 485.41 L72 485.5" fill="none" stroke="#000" stroke-width="2.6" stroke-linejoin="round" stroke-linecap="butt" clip-path="url(#cc1)"/>
<path d="M77.8 488.93 L78.28 488.93 L78.94 488.91 L79.74 488.89 L80.61 488.88 L81.49 488.87 L82.34 488.88 L83.09 488.92 L83.7 488.98 L84.16 489.07 L84.53 489.17 L84.83 489.28 L85.08 489.42 L85.3 489.57 L85.51 489.76 L85.74 489.98 L86 490.23 L86.24 490.53 L86.41 490.9 L86.55 491.32 L86.71 491.75 L86.92 492.18 L87.23 492.6 L87.67 492.96 L88.3 493.27 L89.1 493.48 L90.04 493.62 L91.1 493.7 L92.27 493.77 L93.53 493.84 L94.86 493.96 L96.26 494.15 L97.7 494.43 L99.23 494.8 L100.88 495.21 L102.61 495.67 L104.41 496.18 L106.25 496.74 L108.09 497.36 L109.92 498.04 L111.7 498.78 L112 499.61 L115 499.61 L115 501.15 L118.1 501.15 L118.1 502.91 L121.31 502.91 L121.31 504.93 L124.64 504.93 L124.64 507.29 L128.07 507.29 L128.07 510.08 L131.62 510.08 L131.62 513.4 L135.3 513.4 L135.3 517.2 L139.11 517.2 L139.11 521.55 L143.04 521.55 L143.04 526.43 L147.11 526.43 L147.11 531.56 L151.32 531.56 L151.32 536.85 L155.68 536.85 L155.68 542.51 L160.18 542.51 L160.18 548.52 L164.2 548.52" fill="none" stroke="#000" stroke-width="2.6" stroke-linejoin="miter" clip-path="url(#cc1)"/>
<path d="M38 507.9 L38.44 507.38 L39 506.68 L39.67 505.84 L40.42 504.91 L41.24 503.94 L42.13 502.97 L43.05 502.04 L44 501.2 L45 500.41 L46.09 499.63 L47.24 498.85 L48.44 498.09 L49.66 497.35 L50.89 496.65 L52.11 496 L53.3 495.4 L54.49 494.84 L55.7 494.3 L56.92 493.79 L58.14 493.32 L59.35 492.91 L60.52 492.56 L61.64 492.29 L62.7 492.1 L63.72 492.02 L64.73 492.05 L65.71 492.17 L66.64 492.34 L67.52 492.55 L68.34 492.76 L69.07 492.96 L69.7 493.1 L70.23 493.22 L70.66 493.33 L71.01 493.45 L71.29 493.56 L71.51 493.67 L71.7 493.76 L71.85 493.84 L72 493.9" fill="none" stroke="#ee1c1c" stroke-width="3.2" stroke-linejoin="round" stroke-linecap="butt" clip-path="url(#cc1)"/>
<path d="M76.5 494.65 L77.08 494.76 L77.88 494.88 L78.84 495.03 L79.88 495.2 L80.95 495.39 L81.99 495.61 L82.93 495.86 L83.7 496.14 L84.27 496.46 L84.67 496.81 L84.98 497.2 L85.24 497.62 L85.54 498.05 L85.92 498.48 L86.45 498.91 L87.2 499.33 L88.15 499.73 L89.25 500.12 L90.47 500.5 L91.79 500.89 L93.2 501.3 L94.66 501.73 L96.17 502.2 L97.7 502.72 L99.28 503.27 L100.95 503.83 L102.69 504.42 L104.48 505.05 L106.3 505.71 L108.12 506.44 L109.93 507.23 L111.7 508.1 L112 509.08 L115 509.08 L115 510.9 L118.1 510.9 L118.1 512.96 L121.31 512.96 L121.31 515.26 L124.64 515.26 L124.64 517.81 L128.07 517.81 L128.07 520.67 L131.62 520.67 L131.62 523.95 L135.3 523.95 L135.3 527.7 L139.11 527.7 L139.11 532.05 L143.04 532.05 L143.04 536.93 L147.11 536.93 L147.11 542.06 L151.32 542.06 L151.32 547.32 L155.68 547.32 L155.68 553 L160.18 553 L160.18 559.3 L164.2 559.3" fill="none" stroke="#ee1c1c" stroke-width="3.0" stroke-linejoin="miter" clip-path="url(#cc1)"/>
<path d="M164 546 V555" stroke="#000" stroke-width="2"/>
<path d="M164 558 V566" stroke="#ee1c1c" stroke-width="2.4"/>
<path d="M183 555.5 L190 555.5 L190 556 L200 556 L200 558 L209 558 L209 562.5 L220 562.5 L220 567.5 L231.3 567.5 L231.3 572.5 L238.8 572.5 L238.8 573.8 L244.7 573.8 L244.7 582 L269.7 582" fill="none" stroke="#6ce82e" stroke-width="1.8" stroke-linejoin="round" />
<path d="M244.3 586.8 H269.7" stroke="#6ce82e" stroke-width="1.8"/>
<path d="M186.5 567 L193 574 L201 581 L209 589.5 L217 599" fill="none" stroke="#6ce82e" stroke-width="1.7" stroke-linecap="round" stroke-dasharray="0 3.2" />
<path d="M186.5 561.5 L200 561.5 L210 563.5 L222 568 L235 572 L248 577 L256 579" fill="none" stroke="#6ce82e" stroke-width="1.6" stroke-linecap="round" stroke-dasharray="0 3.2" />
<path d="M182.9 555.5 H190.1 M186.5 552 V560" stroke="#6ce82e" stroke-width="1.8" fill="none"/>
<path d="M190 555.8 H196 M193 552 V560" stroke="#6ce82e" stroke-width="1.8" fill="none"/>
<path d="M195.7 556 H201.3 M198.5 552 V560" stroke="#6ce82e" stroke-width="1.8" fill="none"/>
<path d="M202.1 558.3 H208.9 M205.5 556 V564" stroke="#6ce82e" stroke-width="1.8" fill="none"/>
<path d="M211.6 566 H218.4 M215 562 V570" stroke="#6ce82e" stroke-width="1.8" fill="none"/>
<path d="M222 570.5 H230 M226 567 V574" stroke="#6ce82e" stroke-width="1.8" fill="none"/>
<path d="M233.4 573 H243.4 M238.4 568 V577" stroke="#6ce82e" stroke-width="1.8" fill="none"/>
<path d="M244.3 586.8 H269.7 M258 583.3 V591.7" stroke="#6ce82e" stroke-width="1.8" fill="none"/>
<path d="M38.75 642.26 V654.02 M39.66 643.73 V655.49 M40.57 648.84 V657.4 M41.48 638.17 V649.93 M42.39 640.5 V652.26 M43.3 633.47 V645.23 M44.21 627.1 V638.86 M45.12 617.31 V629.07 M46.03 619.34 V631.1 M46.94 616.6 V628.36 M47.85 622.91 V634.67 M48.75 622.74 V634.5 M49.66 624.95 V636.71 M50.57 620.48 V632.24 M51.48 632.17 V643.93 M52.39 609.89 V621.65 M53.3 616.72 V628.48 M54.21 616.37 V628.13 M55.12 611.85 V623.61 M56.03 617.54 V629.3 M56.94 613.98 V625.74 M57.85 610.87 V622.63 M58.75 622.15 V633.91 M59.66 605.15 V616.91 M60.57 612.67 V624.43 M61.48 609.84 V621.6 M62.39 617.67 V629.43 M63.3 615.76 V627.52 M64.21 604.37 V616.13 M65.12 615.78 V627.54 M66.03 615.39 V627.15 M66.94 611.16 V622.92 M67.85 606.6 V618.36 M68.75 626.22 V637.98 M69.66 607.25 V619.01 M77.45 631.07 V642.83 M78.36 628.62 V640.38 M79.27 638.98 V650.74 M80.18 633.01 V644.77 M81.09 627.15 V638.91 M82 636.48 V648.24 M82.91 639.87 V651.63 M83.82 639.07 V650.83 M84.73 638.9 V650.66 M85.64 631.58 V643.34 M86.55 633.96 V645.72 M87.45 636.8 V648.56 M88.36 629.69 V641.45 M89.27 638.08 V649.84 M90.18 638.66 V650.42 M91.09 617.88 V629.64 M92 632.34 V644.1 M92.91 619.79 V631.55 M93.82 627.28 V639.04 M94.73 626.82 V638.58 M95.64 622 V633.76 M96.55 628.27 V640.03 M97.45 627.52 V639.28 M98.36 623.64 V635.4 M99.27 623.85 V635.61 M100.18 617.58 V629.34 M101.09 610.7 V622.46 M102 625.77 V637.53 M102.91 623.57 V635.33 M103.82 614.67 V626.43 M104.73 615.24 V627 M105.64 611.5 V623.26 M106.55 620.23 V631.99 M107.45 612.81 V624.57 M108.36 615.41 V627.17 M109.27 622.69 V634.45 M110.18 611.55 V623.31 M111.09 621.08 V632.84 M112 609.83 V621.59 M112.91 614.21 V625.97 M113.82 612.3 V624.06 M114.73 600.6 V611.62 M115.64 602.34 V614.1 M116.55 607.45 V619.21 M117.45 608.78 V620.54 M118.36 615.86 V627.62 M119.27 606.85 V618.61 M120.18 611.17 V622.93" stroke="#000" stroke-width="2.0" fill="none"/>
<path d="M121.31 612.61 V624.37 M120.2 618.49 H122.43 M123.98 616.02 V627.78 M122.83 621.9 H125.14 M126.73 621.46 V633.22 M125.54 627.34 H127.93 M129.57 613.72 V625.48 M128.33 619.6 H130.8 M132.48 628.87 V640.63 M131.2 634.75 H133.76 M135.49 626.45 V638.21 M134.16 632.33 H136.81 M138.58 628.56 V640.32 M137.21 634.44 H139.95 M141.77 634.55 V646.31 M140.35 640.43 H143.19 M145.05 630.38 V642.14 M143.59 636.26 H146.52 M148.43 633.92 V645.68 M146.92 639.8 H149.95 M151.92 621.48 V633.24 M150.35 627.36 H153.48 M155.5 629.09 V640.85 M153.88 634.97 H157.13 M159.2 624.68 V636.44 M157.53 630.56 H160.87 M163.01 621.96 V633.72 M161.27 627.84 H164.74" stroke="#000" stroke-width="2.0" fill="none"/>
<path d="M38.68 650.17 V657.4 M39.45 646.85 V657.4 M40.22 641.91 V653.67 M40.99 646.38 V657.4 M41.76 648.1 V657.4 M42.53 648.85 V657.4 M43.3 632.13 V643.89 M44.07 630.2 V641.96 M44.84 629.23 V640.99 M45.61 629.76 V641.52 M46.38 635.66 V647.42 M47.15 622.67 V634.43 M47.92 626.42 V638.18 M48.68 621.47 V633.23 M49.45 613.78 V625.54 M50.22 621.85 V633.61 M50.99 620.3 V632.06 M51.76 614.66 V626.42 M52.53 619.53 V631.29 M53.3 617.43 V629.19 M54.07 622.94 V634.7 M54.84 621.23 V632.99 M55.61 624.1 V635.86 M56.38 611.49 V623.25 M57.15 609.79 V621.55 M57.92 617.41 V629.17 M58.68 615.38 V627.14 M59.45 616.15 V627.91 M60.22 601.27 V613.03 M60.99 608.7 V620.46 M61.76 613.55 V625.31 M62.53 609.39 V621.15 M63.3 606.53 V618.29 M64.07 617.7 V629.46 M64.84 610.19 V621.95 M65.61 610.45 V622.21 M66.38 613.37 V625.13 M67.15 609.99 V621.75 M67.92 608.2 V619.96 M68.68 613.89 V625.65 M69.45 616.03 V627.79 M70.22 611.77 V623.53 M77.38 631.63 V643.39 M78.15 631.04 V642.8 M78.92 624.39 V636.15 M79.69 632.38 V644.14 M80.46 635.04 V646.8 M81.23 641.57 V653.33 M82 634.24 V646 M82.77 634.87 V646.63 M83.54 634.13 V645.89 M84.31 633.78 V645.54 M85.08 632.51 V644.27 M85.85 634.16 V645.92 M86.62 634.05 V645.81 M87.38 631.46 V643.22 M88.15 636.83 V648.59 M88.92 637.31 V649.07 M89.69 636.42 V648.18 M90.46 630.35 V642.11 M91.23 638.12 V649.88 M92 631.15 V642.91 M92.77 628.82 V640.58 M93.54 625.53 V637.29 M94.31 630.8 V642.56 M95.08 624.73 V636.49 M95.85 624.1 V635.86 M96.62 626.19 V637.95 M97.38 622.81 V634.57 M98.15 623.37 V635.13 M98.92 627.12 V638.88 M99.69 622.96 V634.72 M100.46 624.98 V636.74 M101.23 611.42 V623.18 M102 620.72 V632.48 M102.77 621.99 V633.75 M103.54 625.22 V636.98 M104.31 617.97 V629.73 M105.08 615.64 V627.4 M105.85 616.63 V628.39 M106.62 622.59 V634.35 M107.38 620.46 V632.22 M108.15 620.14 V631.9 M108.92 613.64 V625.4 M109.69 617.87 V629.63 M110.46 613.82 V625.58 M111.23 604.55 V616.31 M112 621.02 V632.78 M112.77 613.03 V624.79 M113.54 611.44 V623.2 M114.31 617.79 V629.55 M115.08 605.39 V617.15 M115.85 610.97 V622.73 M116.62 607.91 V619.67 M117.38 607.95 V619.71 M118.15 605.07 V616.83 M118.92 615.66 V627.42 M119.69 616.55 V628.31" stroke="#ee1c1c" stroke-width="2.0" fill="none"/>
<path d="M121.31 619.38 V631.14 M120.2 625.26 H122.43 M123.98 618.01 V629.77 M122.83 623.89 H125.14 M126.73 614.8 V626.56 M125.54 620.68 H127.93 M129.57 627.16 V638.92 M128.33 633.04 H130.8 M132.48 620.76 V632.52 M131.2 626.64 H133.76 M135.49 628.85 V640.61 M134.16 634.73 H136.81 M138.58 628.44 V640.2 M137.21 634.32 H139.95 M141.77 638.2 V649.96 M140.35 644.08 H143.19 M145.05 633.29 V645.05 M143.59 639.17 H146.52 M148.43 628.87 V640.63 M146.92 634.75 H149.95 M151.92 630.38 V642.14 M150.35 636.26 H153.48 M155.5 626.76 V638.52 M153.88 632.64 H157.13 M159.2 625.32 V637.08 M157.53 631.2 H160.87 M163.01 617.27 V629.03 M161.27 623.15 H164.74" stroke="#ee1c1c" stroke-width="2.0" fill="none"/>
<path d="M183.9 625.2 H190.3 M187.1 618.7 V631.7" stroke="#6ce82e" stroke-width="1.7" fill="none"/>
<path d="M189.7 621.9 H196.1 M192.9 616.5 V627.3" stroke="#6ce82e" stroke-width="1.7" fill="none"/>
<path d="M195.1 617.6 H202.9 M199 611.7 V623.4" stroke="#6ce82e" stroke-width="1.7" fill="none"/>
<path d="M200.7 618.7 H210.3 M205.5 612.6 V625.2" stroke="#6ce82e" stroke-width="1.7" fill="none"/>
<path d="M209.9 630.6 H220.7 M215.3 624.1 V637.1" stroke="#6ce82e" stroke-width="1.7" fill="none"/>
<path d="M220.5 629.5 H232.5 M226.5 623.4 V636" stroke="#6ce82e" stroke-width="1.7" fill="none"/>
<path d="M232.6 629.1 H245.6 M239.1 622.6 V636" stroke="#6ce82e" stroke-width="1.7" fill="none"/>
<path d="M244.5 638.2 H269.4 M258.6 631.7 V644.7" stroke="#6ce82e" stroke-width="1.7" fill="none"/>
<clipPath id="ca2"><rect x="336.4" y="5.8" width="256" height="189.6"/></clipPath>
<path d="M339.4 197 L339.42 196.09 L339.44 194.91 L339.46 193.51 L339.49 191.94 L339.52 190.25 L339.55 188.49 L339.58 186.73 L339.6 185 L339.61 183.25 L339.62 181.41 L339.63 179.51 L339.63 177.56 L339.64 175.61 L339.65 173.68 L339.67 171.8 L339.7 170 L339.73 168.24 L339.76 166.49 L339.79 164.75 L339.82 163.06 L339.88 161.41 L339.95 159.84 L340.06 158.37 L340.2 157 L340.38 155.79 L340.61 154.75 L340.86 153.81 L341.13 152.94 L341.42 152.09 L341.72 151.19 L342.01 150.22 L342.3 149.1 L342.58 147.83 L342.86 146.44 L343.14 144.97 L343.43 143.46 L343.73 141.95 L344.04 140.48 L344.36 139.08 L344.7 137.8 L345.06 136.63 L345.44 135.53 L345.84 134.49 L346.24 133.49 L346.66 132.53 L347.07 131.59 L347.49 130.65 L347.9 129.7 L348.31 128.74 L348.72 127.76 L349.13 126.8 L349.55 125.85 L349.97 124.93 L350.38 124.06 L350.79 123.25 L351.2 122.5 L351.59 121.84 L351.97 121.25 L352.34 120.73 L352.71 120.25 L353.09 119.79 L353.49 119.35 L353.92 118.89 L354.4 118.4 L354.92 117.89 L355.49 117.36 L356.08 116.84 L356.69 116.32 L357.32 115.81 L357.96 115.31 L358.58 114.84 L359.2 114.4 L359.81 113.98 L360.42 113.56 L361.03 113.16 L361.65 112.78 L362.27 112.42 L362.88 112.1 L363.49 111.83 L364.1 111.6 L364.74 111.43 L365.42 111.32 L366.12 111.26 L366.81 111.22 L367.46 111.22 L368.04 111.22 L368.53 111.21 L368.9 111.2" fill="none" stroke="#6ce82e" stroke-width="2.3" stroke-linecap="round" stroke-dasharray="0 2.4" clip-path="url(#ca2)"/>
<path d="M378.3 118.3 L378.58 118.69 L378.95 119.21 L379.39 119.82 L379.88 120.5 L380.41 121.23 L380.95 121.99 L381.48 122.76 L382 123.5 L382.51 124.23 L383.02 124.96 L383.55 125.72 L384.09 126.49 L384.63 127.29 L385.18 128.12 L385.74 128.99 L386.3 129.9 L386.87 130.85 L387.44 131.83 L388.02 132.84 L388.61 133.88 L389.2 134.97 L389.79 136.09 L390.4 137.27 L391 138.5 L391.61 139.8 L392.23 141.17 L392.85 142.6 L393.48 144.07 L394.11 145.56 L394.74 147.06 L395.37 148.54 L396 150 L396.63 151.41 L397.26 152.79 L397.9 154.15 L398.53 155.51 L399.16 156.91 L399.79 158.36 L400.4 159.88 L401 161.5 L401.6 163.2 L402.2 164.94 L402.79 166.74 L403.38 168.61 L403.94 170.54 L404.49 172.54 L405.01 174.63 L405.5 176.8 L405.97 179.23 L406.43 181.98 L406.87 184.9 L407.28 187.86 L407.66 190.69 L408 193.26 L408.28 195.41 L408.5 197" fill="none" stroke="#6ce82e" stroke-width="2.3" stroke-linecap="round" stroke-dasharray="0 2.4" clip-path="url(#ca2)"/>
<path d="M341.3 197 L341.34 196.08 L341.38 194.87 L341.44 193.44 L341.5 191.83 L341.57 190.12 L341.64 188.37 L341.72 186.64 L341.8 185 L341.88 183.41 L341.94 181.81 L342.01 180.19 L342.09 178.55 L342.18 176.88 L342.29 175.19 L342.43 173.46 L342.6 171.7 L342.81 169.85 L343.05 167.89 L343.32 165.88 L343.61 163.84 L343.91 161.84 L344.23 159.92 L344.56 158.13 L344.9 156.5 L345.25 155.06 L345.62 153.77 L346 152.59 L346.39 151.49 L346.8 150.45 L347.2 149.42 L347.6 148.39 L348 147.3 L348.4 146.2 L348.79 145.11 L349.19 144.04 L349.59 142.98 L350 141.91 L350.4 140.83 L350.8 139.73 L351.2 138.6 L351.6 137.43 L352 136.23 L352.4 135 L352.8 133.76 L353.2 132.52 L353.6 131.29 L354 130.08 L354.4 128.9 L354.8 127.73 L355.2 126.56 L355.6 125.39 L355.99 124.24 L356.39 123.12 L356.79 122.03 L357.2 120.99 L357.6 120 L358.01 119.09 L358.42 118.25 L358.83 117.46 L359.25 116.7 L359.67 115.96 L360.08 115.2 L360.49 114.43 L360.9 113.6 L361.3 112.73 L361.71 111.82 L362.11 110.89 L362.51 109.96 L362.9 109.02 L363.3 108.09 L363.7 107.18 L364.1 106.3 L364.51 105.44 L364.92 104.58 L365.34 103.73 L365.75 102.89 L366.16 102.08 L366.56 101.29 L366.94 100.53 L367.3 99.8 L367.65 99.09 L368.01 98.37 L368.36 97.66 L368.7 96.99 L369.01 96.37 L369.29 95.82 L369.52 95.36 L369.7 95" fill="none" stroke="#6ce82e" stroke-width="2.3" stroke-linecap="round" stroke-dasharray="0 2.4" clip-path="url(#ca2)"/>
<path d="M336.3 193 H340.3 M335.5 167 H338" stroke="#6ce82e" stroke-width="2" stroke-dasharray="1.6 0.9"/>
<path d="M377.3 85.6 L377.58 85.2 L377.96 84.66 L378.4 84.01 L378.9 83.3 L379.43 82.56 L379.97 81.82 L380.5 81.12 L381 80.5 L381.48 79.95 L381.96 79.42 L382.43 78.92 L382.92 78.43 L383.41 77.95 L383.92 77.47 L384.45 76.99 L385 76.5 L385.58 75.99 L386.18 75.46 L386.8 74.93 L387.44 74.39 L388.08 73.88 L388.73 73.38 L389.37 72.92 L390 72.5 L390.62 72.12 L391.24 71.77 L391.86 71.44 L392.48 71.14 L393.1 70.87 L393.73 70.62 L394.36 70.4 L395 70.2 L395.63 70.02 L396.25 69.85 L396.86 69.7 L397.48 69.58 L398.12 69.49 L398.8 69.45 L399.52 69.45 L400.3 69.5 L401.14 69.61 L402.03 69.76 L402.97 69.96 L403.94 70.21 L404.93 70.48 L405.95 70.8 L406.97 71.14 L408 71.5 L409.08 71.92 L410.23 72.4 L411.43 72.92 L412.62 73.48 L413.79 74.03 L414.88 74.57 L415.86 75.06 L416.7 75.5 L417.37 75.85 L417.89 76.14 L418.3 76.38 L418.64 76.6 L418.95 76.84 L419.25 77.11 L419.59 77.46 L420 77.9 L420.46 78.44 L420.94 79.05 L421.44 79.73 L421.94 80.44 L422.45 81.19 L422.96 81.96 L423.48 82.74 L424 83.5 L424.52 84.25 L425 87.5 L428.6 87.5 L428.6 94.3 L432.28 94.3 L432.28 102.75 L436.05 102.75 L436.05 112.17 L439.9 112.17 L439.9 121.8 L443.85 121.8 L443.85 134.66 L447.88 134.66 L447.88 151.12 L452.01 151.12 L452.01 166.15 L456.23 166.15 L456.23 187.07 L459.8 187.07 L459.8 198.5" fill="none" stroke="#6ce82e" stroke-width="2.3" stroke-linecap="round" stroke-dasharray="0 2.4" clip-path="url(#ca2)"/>
<path d="M353.3 197 L354.1 194.6 L358 188 L361.2 182.7 L364.8 176.3 L368.2 172" fill="none" stroke="#ee1c1c" stroke-width="2.4" stroke-dasharray="2.8 1.0" clip-path="url(#ca2)"/>
<path d="M376.9 164.1 L377.76 163.26 L378.93 162.07 L380.32 160.67 L381.86 159.2 L383.45 157.8 L385 156.6 L386.56 155.62 L388.19 154.76 L389.88 153.96 L391.6 153.18 L393.31 152.37 L395 151.5 L396.65 150.56 L398.27 149.6 L399.89 148.62 L401.54 147.61 L403.23 146.57 L405 145.5 L406.86 144.39 L408.79 143.24 L410.77 142.06 L412.77 140.87 L414.75 139.68 L416.7 138.5 L418.6 137.33 L420.47 136.15 L422.33 134.97 L424.2 133.8 L426.08 132.64 L428 131.5 L429.96 130.38 L431.95 129.26 L433.96 128.16 L435.97 127.07 L437.99 126.02 L440 125 L441.98 124.02 L443.94 123.07 L445.89 122.14 L447.87 121.24 L449.9 120.36 L452 119.5 L454.34 118.6 L456.95 117.67 L459.6 116.76 L462.09 115.92 L464.19 115.21 L465.7 114.7" fill="none" stroke="#ee1c1c" stroke-width="2.4" stroke-dasharray="2.8 1.0" clip-path="url(#ca2)"/>
<path d="M342.8 132.85 L344.4 119.14 L346 117.05 L347.6 113.43 L349.2 109.11 L350.8 105.97 L352.4 101.73 L354 98.51 L355.6 95.59 L357.2 93.5 L358.8 90.16 L360.4 89.49 L362 86.02 L363.6 84.31 L365.2 82.19 L366.8 81.45 L368.4 78.55" fill="none" stroke="#000" stroke-width="3.0" stroke-linejoin="round" clip-path="url(#ca2)"/>
<path d="M376.8 72.47 L378.4 71.76 L380 69.44 L381.6 69.06 L383.2 67.85 L384.8 66.7 L386.4 66.44 L388 65.63 L389.6 64.13 L391.2 64.61 L392.8 64.44 L394.4 63.95 L396 64.35 L397.6 63.9 L399.2 63.17 L400.8 62.94 L402.4 62.91 L404 64.38 L405.6 64.5 L407.2 64.8 L408.8 65.04 L410.4 65.81 L412 66.1 L413.6 67.56 L415.2 67.87 L416.8 69.82 L418.4 70.99 L420 72.27 L421.6 72.8 L423.2 73.87 L424.8 75.73 L426.4 77.86 L428 79.12 L429.6 81.24 L431.2 82.55 L432.8 84.51 L434.4 87.49 L436 88.18 L437.6 90.33 L439.2 93.11 L440.8 95.26 L442.4 96.9 L444 99.07 L445.6 100.77 L447.2 103.01 L448.8 105.1 L450.4 106.54 L452 107.66 L453.6 108.65 L455.2 110.63 L456.8 110.67 L458.4 111.78 L460 112.89 L461.6 113.19 L463.2 113.26 L464.8 114.49" fill="none" stroke="#000" stroke-width="3.0" stroke-linejoin="round" clip-path="url(#ca2)"/>
<path d="M336.3 152.8 L339.5 152.8 L339.5 134.1 L342.8 134.1" fill="none" stroke="#f06a2a" stroke-width="2.3" stroke-linejoin="round" clip-path="url(#ca2)"/>
<path d="M342.8 134.1 L342.79 133.25 L342.76 132.07 L342.73 130.65 L342.71 129.11 L342.69 127.54 L342.69 126.07 L342.73 124.78 L342.8 123.8 L342.89 123.17 L342.99 122.81 L343.11 122.63 L343.26 122.55 L343.44 122.47 L343.66 122.29 L343.95 121.93 L344.3 121.3 L344.73 120.38 L345.25 119.27 L345.83 118 L346.45 116.62 L347.1 115.18 L347.75 113.74 L348.39 112.33 L349 111 L349.59 109.72 L350.18 108.44 L350.77 107.15 L351.36 105.87 L351.94 104.6 L352.53 103.37 L353.12 102.16 L353.7 101 L354.28 99.87 L354.85 98.77 L355.43 97.69 L356 96.64 L356.57 95.62 L357.15 94.64 L357.72 93.7 L358.3 92.8 L358.88 91.96 L359.47 91.18 L360.06 90.45 L360.64 89.75 L361.23 89.07 L361.82 88.39 L362.41 87.71 L363 87 L363.6 86.26 L364.23 85.5 L364.87 84.73 L365.5 83.97 L366.11 83.22 L366.69 82.5 L367.23 81.82 L367.7 81.2 L368.12 80.61 L368.5 80.04 L368.84 79.5 L369.14 78.99 L369.41 78.52 L369.64 78.12 L369.84 77.77 L370 77.5" fill="none" stroke="#f06a2a" stroke-width="2.6" stroke-linejoin="round" stroke-linecap="butt" clip-path="url(#ca2)"/>
<path d="M376.8 74.5 L377.18 74.14 L377.69 73.64 L378.3 73.04 L378.98 72.39 L379.69 71.72 L380.4 71.07 L381.08 70.48 L381.7 70 L382.26 69.61 L382.8 69.28 L383.33 68.99 L383.84 68.73 L384.36 68.49 L384.89 68.27 L385.43 68.04 L386 67.8 L386.56 67.55 L387.1 67.31 L387.63 67.07 L388.19 66.84 L388.78 66.61 L389.43 66.4 L390.16 66.19 L391 66 L391.96 65.8 L393.02 65.58 L394.17 65.36 L395.38 65.16 L396.62 64.98 L397.87 64.85 L399.1 64.79 L400.3 64.8 L401.47 64.88 L402.65 65.01 L403.82 65.19 L405 65.42 L406.18 65.7 L407.35 66.04 L408.53 66.44 L409.7 66.9 L410.87 67.42 L412.03 68.01 L413.19 68.66 L414.36 69.37 L415.52 70.12 L416.68 70.91 L417.84 71.74 L419 72.6 L420 74.82 L423.6 74.82 L423.6 78.02 L427.28 78.02 L427.28 81.71 L431.04 81.71 L431.04 86.3 L434.88 86.3 L434.88 91.27 L438.81 91.27 L438.81 96.44 L442.82 96.44 L442.82 101.41 L446.92 101.41 L446.92 106.01 L451.1 106.01 L451.1 109.83 L455.39 109.83 L455.39 112.56 L459.76 112.56 L459.76 114.41 L464.23 114.41 L464.23 115.51 L465.7 115.51" fill="none" stroke="#f06a2a" stroke-width="2.6" stroke-linejoin="miter" clip-path="url(#ca2)"/>
<path d="M459.5 107.5 V128.5 M462 105.5 V131.5 M464.8 109.5 V134.5" stroke="#000" stroke-width="1.3"/>
<path d="M484.8 99.9 L491.5 99.9 L491.5 97.6 L497.1 97.6 L497.1 95.4 L505 95.4 L505 92 L512.9 92 L512.9 88.6 L521.9 88.6 L521.9 84.1 L535.5 84.1 L535.5 78.3 L548.9 78.3 L548.9 70.8 L573.6 70.8" fill="none" stroke="#ee1c1c" stroke-width="1.7" stroke-linejoin="round" />
<path d="M485.9 114.5 H491.7 M488.8 104.4 V126.9" stroke="#000" stroke-width="1.6" fill="none"/>
<path d="M491.9 106.2 H498.7 M495.3 98.8 V116.8" stroke="#000" stroke-width="1.6" fill="none"/>
<path d="M498.3 94.3 H504.1 M501.2 87.5 V103.3" stroke="#000" stroke-width="1.6" fill="none"/>
<path d="M505.5 92 H511.3 M508.4 85.3 V99.9" stroke="#000" stroke-width="1.6" fill="none"/>
<path d="M512.5 95.4 H523.7 M518.1 87.5 V106.6" stroke="#000" stroke-width="1.6" fill="none"/>
<path d="M523.05 78 H536.55 M529.8 69.5 V87.5" stroke="#000" stroke-width="1.6" fill="none"/>
<path d="M535.35 55.6 H548.85 M542.1 47 V65" stroke="#000" stroke-width="1.6" fill="none"/>
<path d="M547.8 43.6 H573.6 M562.4 32.4 V60.5" stroke="#000" stroke-width="1.6" fill="none"/>
<clipPath id="cb2"><rect x="335.3" y="238.6" width="255.8" height="189.9"/></clipPath>
<path d="M335.5 386.8 L335.67 385.51 L335.88 383.76 L336.14 381.68 L336.42 379.38 L336.73 376.99 L337.06 374.63 L337.38 372.43 L337.7 370.5 L338.01 368.8 L338.32 367.2 L338.64 365.68 L338.98 364.22 L339.32 362.82 L339.69 361.46 L340.08 360.13 L340.5 358.8 L340.96 357.49 L341.45 356.2 L341.97 354.94 L342.51 353.73 L343.06 352.55 L343.61 351.41 L344.16 350.33 L344.7 349.3 L345.23 348.34 L345.75 347.43 L346.27 346.59 L346.79 345.78 L347.32 345.01 L347.87 344.26 L348.42 343.53 L349 342.8 L349.6 342.09 L350.23 341.4 L350.87 340.74 L351.53 340.09 L352.18 339.46 L352.83 338.84 L353.48 338.22 L354.1 337.6 L354.71 336.97 L355.3 336.34 L355.89 335.71 L356.48 335.09 L357.06 334.48 L357.63 333.89 L358.22 333.33 L358.8 332.8 L359.38 332.31 L359.95 331.84 L360.51 331.41 L361.07 330.99 L361.65 330.59 L362.24 330.2 L362.86 329.8 L363.5 329.4 L364.22 328.98 L365.03 328.53 L365.88 328.08 L366.74 327.64 L367.57 327.22 L368.31 326.85 L368.94 326.54 L369.4 326.3" fill="none" stroke="#6ce82e" stroke-width="2.3" stroke-linecap="round" stroke-dasharray="0 2.4" clip-path="url(#cb2)"/>
<path d="M376.5 325 L376.84 324.93 L377.27 324.83 L377.79 324.7 L378.38 324.57 L379 324.44 L379.66 324.33 L380.33 324.24 L381 324.2 L381.66 324.19 L382.35 324.18 L383.05 324.2 L383.78 324.24 L384.54 324.3 L385.32 324.4 L386.14 324.53 L387 324.7 L387.9 324.92 L388.85 325.19 L389.83 325.49 L390.84 325.83 L391.88 326.19 L392.92 326.56 L393.96 326.93 L395 327.3 L396.05 327.68 L397.14 328.08 L398.24 328.5 L399.34 328.92 L400.44 329.34 L401.5 329.75 L402.53 330.14 L403.5 330.5 L404.4 330.82 L405.24 331.11 L406.04 331.37 L406.81 331.62 L407.57 331.88 L408.34 332.15 L409.15 332.46 L410 332.8 L410.91 333.19 L411.85 333.6 L412.82 334.04 L413.81 334.5 L414.79 334.97 L415.76 335.45 L416.7 335.93 L417.6 336.4 L418.45 336.87 L419.25 337.34 L420.03 337.82 L420.79 338.31 L421.56 338.8 L422.34 339.29 L423.15 339.79 L424 340.3 L424.91 340.82 L425.87 341.36 L426.85 341.91 L427.86 342.46 L428.86 343.01 L429.84 343.56 L430.8 344.09 L431.7 344.6 L432.54 345.09 L433.34 345.55 L434.1 346 L434.84 346.44 L435.59 346.88 L436.35 347.33 L437.15 347.8 L438 348.3 L438.91 348.83 L439.88 349.4 L440.89 349.99 L441.91 350.59 L442.93 351.19 L443.93 351.76 L444.89 352.3 L445.8 352.8 L446.66 353.25 L447.48 353.66 L448.27 354.03 L449.04 354.39 L449.8 354.74 L450.54 355.09 L451.27 355.44 L452 355.8 L452.73 356.18 L453.47 356.55 L454.2 356.93 L454.92 357.3 L455.61 357.68 L456.28 358.05 L456.91 358.43 L457.5 358.8 L458.04 359.17 L458.54 359.53 L459.01 359.88 L459.44 360.24 L459.86 360.6 L460.25 360.98 L460.63 361.38 L461 361.8 L461.37 362.28 L461.73 362.82 L462.09 363.4 L462.42 363.99 L462.72 364.55 L462.99 365.06 L463.22 365.48 L463.4 365.8" fill="none" stroke="#6ce82e" stroke-width="2.3" stroke-linecap="round" stroke-dasharray="0 2.4" clip-path="url(#cb2)"/>
<path d="M341.2 432.8 L341.49 431.4 L341.87 429.52 L342.32 427.28 L342.82 424.81 L343.36 422.2 L343.92 419.59 L344.47 417.08 L345 414.8 L345.52 412.7 L346.05 410.64 L346.6 408.61 L347.15 406.62 L347.71 404.64 L348.27 402.67 L348.84 400.69 L349.4 398.7 L349.96 396.69 L350.53 394.68 L351.1 392.67 L351.67 390.66 L352.25 388.67 L352.83 386.69 L353.41 384.73 L354 382.8 L354.59 380.88 L355.19 378.96 L355.79 377.05 L356.39 375.16 L357 373.31 L357.6 371.51 L358.2 369.77 L358.8 368.1 L359.39 366.52 L359.97 365.01 L360.55 363.56 L361.13 362.16 L361.71 360.79 L362.3 359.45 L362.89 358.13 L363.5 356.8 L364.15 355.42 L364.87 353.97 L365.61 352.52 L366.34 351.09 L367.04 349.76 L367.67 348.57 L368.2 347.56 L368.6 346.8" fill="none" stroke="#6ce82e" stroke-width="2.3" stroke-linecap="round" stroke-dasharray="0 2.4" clip-path="url(#cb2)"/>
<path d="M376.5 334.1 L376.76 333.69 L377.09 333.15 L377.49 332.51 L377.94 331.79 L378.42 331.04 L378.94 330.26 L379.47 329.51 L380 328.8 L380.53 328.12 L381.07 327.44 L381.63 326.75 L382.22 326.06 L382.84 325.37 L383.5 324.68 L384.22 323.99 L385 323.3 L385.86 322.59 L386.79 321.85 L387.78 321.11 L388.81 320.36 L389.86 319.64 L390.92 318.96 L391.97 318.34 L393 317.8 L394 317.31 L395 316.86 L396 316.45 L396.99 316.08 L398 315.78 L399.02 315.54 L400.05 315.38 L401.1 315.3 L402.17 315.3 L403.25 315.35 L404.33 315.48 L405.44 315.68 L406.55 315.95 L407.69 316.31 L408.83 316.76 L410 317.3 L411.22 317.97 L412.52 318.78 L413.85 319.69 L415.19 320.68 L416.5 321.71 L417.74 322.76 L418.89 323.8 L419.9 324.8 L420.77 325.77 L421.53 326.73 L422.2 327.7 L422.8 328.68 L423.36 329.67 L423.89 330.68 L424.43 331.72 L425 332.8 L425.58 333.91 L426.15 335.05 L426.71 336.21 L427.25 337.39 L427.78 338.6 L428.3 339.82 L428.81 341.05 L429.3 342.3 L429.8 343.64 L430.31 345.1 L430.82 346.63 L431.32 348.14 L431.78 349.59 L432.19 350.89 L432.54 351.98 L432.8 352.8" fill="none" stroke="#6ce82e" stroke-width="2.3" stroke-linecap="round" stroke-dasharray="0 2.4" clip-path="url(#cb2)"/>
<path d="M432.8 349.5 L438.2 351.3 L438.2 365.3 L442.6 365.3 L442.6 380 L447 380 L447 394.7 L451.5 394.7 L451.5 412.4 L455.1 412.4 L455.1 432" fill="none" stroke="#6ce82e" stroke-width="1.8" stroke-linejoin="round" clip-path="url(#cb2)"/>
<path d="M436.4 430.3 L440 425.8 L443 422.8 L447 418.3 L450 414.8 L454 410.8 L457 406.8 L461 402.3 L465.7 397.5" fill="none" stroke="#ee1c1c" stroke-width="2.3" stroke-linecap="round" stroke-dasharray="0 3.0" clip-path="url(#cb2)"/>
<path d="M341.6 354.12 L343.2 351.08 L344.8 346.97 L346.4 343.87 L348 341.03 L349.6 337.26 L351.2 333.13 L352.8 330.15 L354.4 326.75 L356 325.08 L357.6 322.27 L359.2 319.16 L360.8 317.68 L362.4 315.17 L364 312.96 L365.6 310.23 L367.2 309.06" fill="none" stroke="#000" stroke-width="3.0" stroke-linejoin="round" clip-path="url(#cb2)"/>
<path d="M376.5 306.07 L378.1 304.35 L379.7 302.49 L381.3 300.93 L382.9 300.94 L384.5 300.83 L386.1 299.32 L387.7 299.63 L389.3 297.77 L390.9 298.31 L392.5 297.42 L394.1 297.69 L395.7 297.7 L397.3 298 L398.9 297.35 L400.5 298.02 L402.1 297.19 L403.7 297.05 L405.3 297.95 L406.9 298.8 L408.5 299.31 L410.1 298.78 L411.7 300.01 L413.3 301.03 L414.9 302.59 L416.5 304.55 L418.1 304.83 L419.7 305.81 L421.3 308.77 L422.9 310.22 L424.5 311.61 L426.1 311.92 L427.7 314.01 L429.3 315.62 L430.9 318.88 L432.5 319.6 L434.1 321.82 L435.7 324.07 L437.3 326.9 L438.9 327.43 L440.5 330.32 L442.1 330.55 L443.7 332.66 L445.3 333.35 L446.9 335.05 L448.5 337.59 L450.1 339.32 L451.7 339.45 L453.3 341.14 L454.9 342.09 L456.5 343.77 L458.1 345.5 L459.7 347.08 L461.3 348.47 L462.9 349.35" fill="none" stroke="#000" stroke-width="3.0" stroke-linejoin="round" clip-path="url(#cb2)"/>
<path d="M334.8 387.8 L337.8 387.8 L337.8 366.8 L341.6 366.8 L341.6 356.3" fill="none" stroke="#f06a2a" stroke-width="2.3" stroke-linejoin="round" clip-path="url(#cb2)"/>
<path d="M341.6 356.3 L341.9 355.64 L342.3 354.76 L342.78 353.71 L343.31 352.54 L343.87 351.31 L344.44 350.06 L344.99 348.84 L345.5 347.7 L345.98 346.62 L346.46 345.53 L346.93 344.44 L347.41 343.34 L347.88 342.25 L348.35 341.16 L348.83 340.08 L349.3 339 L349.78 337.91 L350.25 336.8 L350.73 335.69 L351.2 334.58 L351.68 333.5 L352.15 332.44 L352.62 331.44 L353.1 330.5 L353.58 329.63 L354.05 328.81 L354.53 328.04 L355 327.31 L355.48 326.6 L355.95 325.9 L356.43 325.2 L356.9 324.5 L357.38 323.8 L357.85 323.11 L358.32 322.44 L358.8 321.77 L359.27 321.11 L359.75 320.44 L360.22 319.78 L360.7 319.1 L361.17 318.41 L361.65 317.72 L362.12 317.02 L362.59 316.33 L363.07 315.63 L363.54 314.94 L364.02 314.26 L364.5 313.6 L365.01 312.92 L365.56 312.2 L366.13 311.47 L366.69 310.76 L367.22 310.09 L367.7 309.49 L368.1 308.98 L368.4 308.6" fill="none" stroke="#f06a2a" stroke-width="2.6" stroke-linejoin="round" stroke-linecap="butt" clip-path="url(#cb2)"/>
<path d="M376.5 307 L376.92 306.62 L377.46 306.11 L378.09 305.5 L378.81 304.82 L379.61 304.13 L380.46 303.45 L381.36 302.83 L382.3 302.3 L383.3 301.84 L384.4 301.42 L385.56 301.02 L386.78 300.65 L388.02 300.31 L389.27 300.01 L390.5 299.74 L391.7 299.5 L392.88 299.29 L394.05 299.1 L395.22 298.95 L396.4 298.82 L397.57 298.74 L398.75 298.71 L399.92 298.72 L401.1 298.8 L402.28 298.92 L403.45 299.07 L404.62 299.27 L405.8 299.52 L406.98 299.83 L408.15 300.2 L409.33 300.66 L410.5 301.2 L411.68 301.84 L412.85 302.57 L414.02 303.38 L415.2 304.26 L416.38 305.2 L417.55 306.17 L418.73 307.18 L419.9 308.2 L420 309.91 L423.6 309.91 L423.6 313.47 L427.28 313.47 L427.28 317.45 L431.04 317.45 L431.04 322.33 L434.89 322.33 L434.89 327.3 L438.83 327.3 L438.83 331.16 L442.85 331.16 L442.85 334.93 L446.96 334.93 L446.96 338.86 L451.17 338.86 L451.17 342.83 L455.47 342.83 L455.47 346.74 L459.87 346.74 L459.87 350.39 L464.36 350.39" fill="none" stroke="#f06a2a" stroke-width="2.6" stroke-linejoin="miter" clip-path="url(#cb2)"/>
<path d="M457 341 V362 M459.8 338 V364 M462.6 342 V367" stroke="#000" stroke-width="1.3"/>
<path d="M484.3 372.9 L491.2 372.9 L491.2 378.2 L498.3 378.2 L498.3 386.1 L510.2 386.1 L510.2 392.7 L522.1 392.7 L522.1 400.7" fill="none" stroke="#6ce82e" stroke-width="1.7" stroke-dasharray="2 1.4"/>
<path d="M522.1 400.7 L535.3 400.7 L535.3 408.6 L547.2 408.6 L547.2 419.2 L573.1 419.2" fill="none" stroke="#6ce82e" stroke-width="1.7" stroke-linejoin="round" />
<path d="M484.3 361 L489.1 361 L489.1 357.5 L494.4 357.5 L494.4 351.8 L501 351.8 L501 342.5 L510.2 342.5 L510.2 326 L522.1 326 L522.1 313.4 L534 313.4 L534 297 L547.2 297 L547.2 273.5 L573.1 273.5" fill="none" stroke="#ee1c1c" stroke-width="1.7" stroke-dasharray="2 1.3"/>
<path d="M484.9 345.2 L489.7 345.2 L489.7 341.3 L495 341.3 L495 337.3 L501.6 337.3 L501.6 332 L510.8 332 L510.8 322.8 L522.7 322.8 L522.7 311.7 L534.6 311.7 L534.6 296.3 L547.8 296.3 L547.8 272.5 L573.7 272.5" fill="none" stroke="#ee1c1c" stroke-width="1.6" stroke-linejoin="round" />
<path d="M484.3 343.8 L489.1 343.8 L489.1 339.9 L494.4 339.9 L494.4 335.9 L501 335.9 L501 330.6 L510.2 330.6 L510.2 321.4 L522.1 321.4 L522.1 310.3 L534 310.3 L534 294.9 L547.2 294.9 L547.2 271.1 L573.1 271.1" fill="none" stroke="#f06a2a" stroke-width="1.7" stroke-linejoin="round" />
<path d="M484.6 349.1 H491 M487.8 339.9 V361" stroke="#000" stroke-width="1.6" fill="none"/>
<path d="M491.8 341.2 H497 M494.4 332 V351.8" stroke="#000" stroke-width="1.6" fill="none"/>
<path d="M497.8 328.8 H503 M500.4 321.4 V338.6" stroke="#000" stroke-width="1.6" fill="none"/>
<path d="M503.9 326.7 H510.3 M507.1 319.3 V334.6" stroke="#000" stroke-width="1.6" fill="none"/>
<path d="M511 329.3 H521.6 M516.3 321.4 V339.9" stroke="#000" stroke-width="1.6" fill="none"/>
<path d="M522.9 309.5 H533.5 M528.2 302.9 V320" stroke="#000" stroke-width="1.6" fill="none"/>
<path d="M534 289.1 H547.2 M540.6 281.2 V297.6" stroke="#000" stroke-width="1.6" fill="none"/>
<path d="M547.2 273.8 H573.1 M561 263.2 V291.8" stroke="#000" stroke-width="1.6" fill="none"/>
<clipPath id="cc2"><rect x="336.9" y="469.8" width="255.9" height="189.4"/></clipPath>
<path d="M343.9 585.72 L345.5 583.35 L347.1 579.51 L348.7 575.53 L350.3 571.02 L351.9 567.98 L353.5 563.61 L355.1 561.5 L356.7 557.08 L358.3 555.66 L359.9 551.67 L361.5 549.91 L363.1 547.77 L364.7 546.23 L366.3 543.89 L367.9 540.86 L369.5 539.4" fill="none" stroke="#000" stroke-width="3.0" stroke-linejoin="round" clip-path="url(#cc2)"/>
<path d="M377 536.84 L378.6 535.03 L380.2 534 L381.8 532.88 L383.4 531.48 L385 530.47 L386.6 530.54 L388.2 530.24 L389.8 530.3 L391.4 529.12 L393 529.9 L394.6 528.03 L396.2 528.71 L397.8 527.33 L399.4 527.56 L401 527.5 L402.6 529.25 L404.2 528.97 L405.8 529.06 L407.4 530 L409 530.65 L410.6 530.22 L412.2 531.87 L413.8 531.8 L415.4 533.61 L417 534.99 L418.6 535.39 L420.2 537.15 L421.8 538.57 L423.4 539 L425 541.97 L426.6 542.48 L428.2 544.18 L429.8 545.76 L431.4 547.66 L433 550.78 L434.6 551.85 L436.2 554.59 L437.8 555.25 L439.4 557.35 L441 558.74 L442.6 561.32 L444.2 563.88 L445.8 564.78 L447.4 566.8 L449 567.47 L450.6 568.95 L452.2 570.89 L453.8 573.82 L455.4 575 L457 577.09 L458.6 578.55 L460.2 579.48 L461.8 581.34 L463.4 584.16 L465 585.42" fill="none" stroke="#000" stroke-width="3.0" stroke-linejoin="round" clip-path="url(#cc2)"/>
<path d="M336.4 611.3 L340 611.3 L340 597.5 L343.9 597.5 L343.9 586.9" fill="none" stroke="#ee2a1a" stroke-width="2.3" stroke-linejoin="round" clip-path="url(#cc2)"/>
<path d="M343.9 586.9 L344.15 586.4 L344.49 585.75 L344.9 584.98 L345.34 584.12 L345.82 583.19 L346.3 582.22 L346.76 581.25 L347.2 580.3 L347.61 579.34 L348.02 578.33 L348.44 577.28 L348.85 576.21 L349.26 575.14 L349.68 574.07 L350.09 573.02 L350.5 572 L350.91 571.01 L351.33 570.02 L351.74 569.05 L352.16 568.08 L352.57 567.13 L352.98 566.2 L353.39 565.29 L353.8 564.4 L354.2 563.54 L354.6 562.69 L354.99 561.87 L355.39 561.07 L355.78 560.28 L356.18 559.51 L356.59 558.75 L357 558 L357.42 557.28 L357.83 556.59 L358.25 555.92 L358.67 555.26 L359.1 554.6 L359.55 553.92 L360.01 553.23 L360.5 552.5 L361.01 551.73 L361.55 550.94 L362.11 550.12 L362.68 549.29 L363.25 548.45 L363.84 547.62 L364.42 546.8 L365 546 L365.61 545.18 L366.27 544.3 L366.95 543.42 L367.63 542.54 L368.27 541.72 L368.85 540.99 L369.34 540.37 L369.7 539.9" fill="none" stroke="#ee2a1a" stroke-width="2.6" stroke-linejoin="round" stroke-linecap="butt" clip-path="url(#cc2)"/>
<path d="M377 537 L377.6 536.62 L378.37 536.11 L379.29 535.5 L380.32 534.83 L381.44 534.13 L382.62 533.45 L383.81 532.83 L385 532.3 L386.25 531.84 L387.61 531.41 L389.05 531 L390.51 530.62 L391.96 530.28 L393.36 529.97 L394.65 529.71 L395.8 529.5 L396.77 529.33 L397.6 529.2 L398.32 529.12 L398.99 529.07 L399.64 529.06 L400.33 529.1 L401.1 529.18 L402 529.3 L403.02 529.45 L404.12 529.64 L405.28 529.86 L406.49 530.12 L407.72 530.44 L408.96 530.82 L410.19 531.27 L411.4 531.8 L412.63 532.45 L413.92 533.24 L415.23 534.12 L416.54 535.06 L417.8 536 L418.99 536.92 L420 539.16 L423.6 539.16 L423.6 542.93 L427.28 542.93 L427.28 546.53 L431.04 546.53 L431.04 550.93 L434.88 550.93 L434.88 555.73 L438.8 555.73 L438.8 560.4 L442.81 560.4 L442.81 564.76 L446.9 564.76 L446.9 569.07 L451.08 569.07 L451.08 573.42 L455.36 573.42 L455.36 577.89 L459.73 577.89 L459.73 583.09 L464.19 583.09 L464.19 587.25 L466.1 587.25" fill="none" stroke="#ee2a1a" stroke-width="2.6" stroke-linejoin="miter" clip-path="url(#cc2)"/>
<path d="M458.5 572 V592 M461.3 570 V595 M464.2 575 V598" stroke="#000" stroke-width="1.3"/>
<circle cx="463.6" cy="656.6" r="1.9" fill="none" stroke="#ee1c1c" stroke-width="1.2"/>
<path d="M461.3 581.3 H464.3 M462.8 576 V587" stroke="#000" stroke-width="1.3" fill="none"/>
<path d="M485.4 619.4 L491 619.4 L493.8 627.8 L499 627.8 L500.9 634.9 L505 634.9 L506.5 644.7 L513.6 644.7 L513.6 656 L524.8 656" fill="none" stroke="#6ce82e" stroke-width="1.7" stroke-dasharray="2 1.4"/>
<path d="M485.4 609 L491 609 L492.4 599.7 L497 599.7 L498 589.8 L505.1 589.8 L505.1 581 L513.6 574" fill="none" stroke="#ee1c1c" stroke-width="1.7" stroke-dasharray="2 1.3"/>
<path d="M485.9 592 L490.1 592 L490.1 589.2 L495.7 589.2 L495.7 582.1 L500 582.1 L500 577.9 L505.6 577.9 L505.6 573.7 L514.1 573.7 L514.1 561 L523.9 561 L523.9 542.7 L536.6 542.7 L536.6 521.5 L549.3 521.5 L549.3 490 L574.7 490" fill="none" stroke="#ee1c1c" stroke-width="1.7" stroke-linejoin="round" />
<path d="M485.4 591.2 L489.6 591.2 L489.6 588.4 L495.2 588.4 L495.2 581.3 L499.5 581.3 L499.5 577.1 L505.1 577.1 L505.1 572.9 L513.6 572.9 L513.6 560.2 L523.4 560.2 L523.4 541.9 L536.1 541.9 L536.1 520.7 L548.8 520.7 L548.8 489.2 L574.2 489.2" fill="none" stroke="#ee2a1a" stroke-width="1.6" stroke-linejoin="round" />
<path d="M486.2 584.1 H493 M489.6 574.3 V596.8" stroke="#000" stroke-width="1.6" fill="none"/>
<path d="M493.3 575.7 H498.9 M496.1 567.2 V585.6" stroke="#000" stroke-width="1.6" fill="none"/>
<path d="M499.5 563 H505.1 M502.3 554.6 V571.5" stroke="#000" stroke-width="1.6" fill="none"/>
<path d="M505.1 559.6 H511.9 M508.5 551.7 V568.6" stroke="#000" stroke-width="1.6" fill="none"/>
<path d="M513 563 H524.2 M518.6 553.1 V573.7" stroke="#000" stroke-width="1.6" fill="none"/>
<path d="M524.3 542.7 H535.5 M529.9 534.8 V553.1" stroke="#000" stroke-width="1.6" fill="none"/>
<path d="M536.1 522.1 H550.1 M543.1 513.7 V531.4" stroke="#000" stroke-width="1.6" fill="none"/>
<path d="M548.8 505.5 H574.2 M562.9 494 V522" stroke="#000" stroke-width="1.6" fill="none"/>
<path d="M36.7 167 H285.6" stroke="#000" stroke-width="2.0" stroke-dasharray="6.9 3.9" stroke-dashoffset="9.75"/>
<path d="M38.3 397.7 H287.1" stroke="#000" stroke-width="2.0" stroke-dasharray="6.9 3.9" stroke-dashoffset="10.1"/>
<path d="M38.4 629.2 H287.3" stroke="#000" stroke-width="2.0" stroke-dasharray="6.9 3.9" stroke-dashoffset="9.4"/></svg>
</body></html>
